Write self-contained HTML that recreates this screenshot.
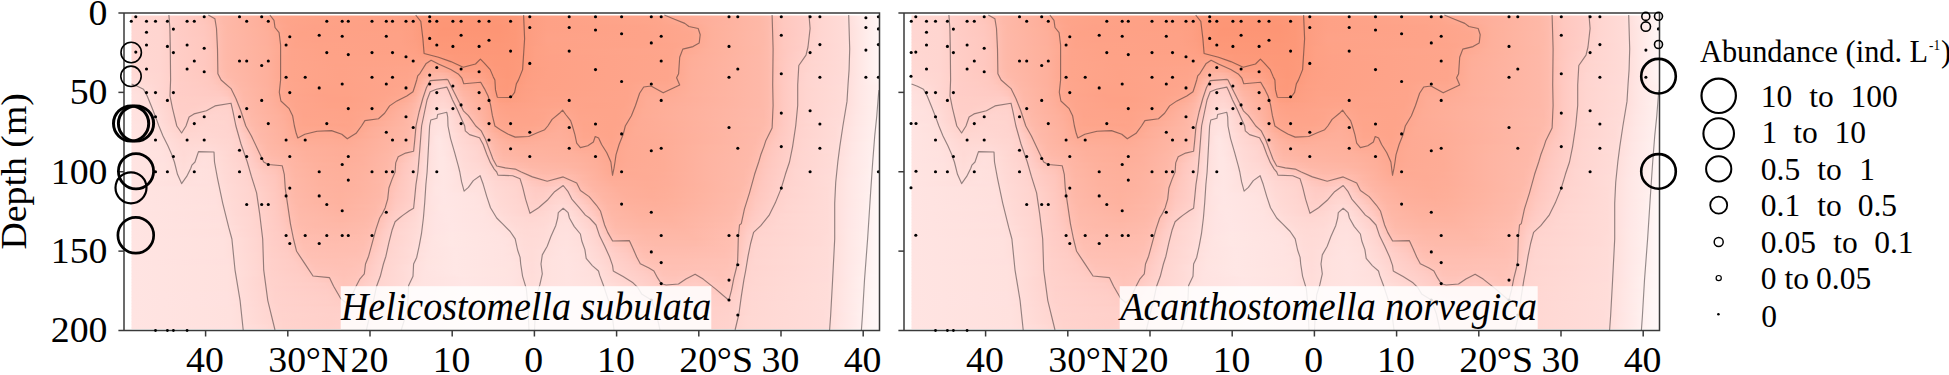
<!DOCTYPE html><html><head><meta charset="utf-8"><title>Abundance sections</title>
<style>html,body{margin:0;padding:0;background:#fff}svg{display:block}text{font-family:"Liberation Serif","Times New Roman",Times,serif;fill:#000}</style></head><body>
<svg width="1949" height="375" viewBox="0 0 1949 375">
<defs>
<linearGradient id="r0" gradientUnits="userSpaceOnUse" x1="131.5" x2="879.5" y1="0" y2="0"><stop offset="0" stop-color="#ffd6d1"/><stop offset="0.03743" stop-color="#ffd5cf"/><stop offset="0.05882" stop-color="#ffcdc7"/><stop offset="0.08556" stop-color="#ffc8c0"/><stop offset="0.09626" stop-color="#ffc5bb"/><stop offset="0.1123" stop-color="#ffbcae"/><stop offset="0.123" stop-color="#feb8a8"/><stop offset="0.1711" stop-color="#feb09c"/><stop offset="0.1925" stop-color="#fea78f"/><stop offset="0.2032" stop-color="#fea58b"/><stop offset="0.246" stop-color="#fea287"/><stop offset="0.3529" stop-color="#fea085"/><stop offset="0.369" stop-color="#fd9f83"/><stop offset="0.3904" stop-color="#fd997a"/><stop offset="0.4064" stop-color="#fd9777"/><stop offset="0.4813" stop-color="#fd9675"/><stop offset="0.5134" stop-color="#fd9878"/><stop offset="0.5348" stop-color="#fd9e82"/><stop offset="0.5561" stop-color="#fea186"/><stop offset="0.6952" stop-color="#fea48b"/><stop offset="0.7326" stop-color="#feab95"/><stop offset="0.8396" stop-color="#feb8a7"/><stop offset="0.8503" stop-color="#febbad"/><stop offset="0.8663" stop-color="#ffc6bc"/><stop offset="0.8717" stop-color="#ffc8bf"/><stop offset="0.8984" stop-color="#ffcdc7"/><stop offset="0.9198" stop-color="#ffd5d0"/><stop offset="0.9519" stop-color="#ffdbd7"/><stop offset="0.9733" stop-color="#ffe8e6"/><stop offset="1" stop-color="#fff5f5"/></linearGradient>
<linearGradient id="r1" gradientUnits="userSpaceOnUse" x1="131.5" x2="879.5" y1="0" y2="0"><stop offset="0" stop-color="#ffd6d1"/><stop offset="0.03743" stop-color="#ffd5cf"/><stop offset="0.05882" stop-color="#ffcdc7"/><stop offset="0.09091" stop-color="#ffc7be"/><stop offset="0.1016" stop-color="#ffc4b9"/><stop offset="0.123" stop-color="#feb9a9"/><stop offset="0.1711" stop-color="#feb09c"/><stop offset="0.1979" stop-color="#fea68d"/><stop offset="0.2086" stop-color="#fea48a"/><stop offset="0.246" stop-color="#fea287"/><stop offset="0.3529" stop-color="#fea085"/><stop offset="0.3743" stop-color="#fd9e82"/><stop offset="0.3957" stop-color="#fd9879"/><stop offset="0.4064" stop-color="#fd9777"/><stop offset="0.4813" stop-color="#fd9575"/><stop offset="0.5134" stop-color="#fd9878"/><stop offset="0.5348" stop-color="#fd9e82"/><stop offset="0.5561" stop-color="#fea186"/><stop offset="0.7005" stop-color="#fea58b"/><stop offset="0.7647" stop-color="#feae9a"/><stop offset="0.8396" stop-color="#feb8a7"/><stop offset="0.8503" stop-color="#febbac"/><stop offset="0.8663" stop-color="#ffc6bc"/><stop offset="0.8717" stop-color="#ffc8bf"/><stop offset="0.8984" stop-color="#ffcdc7"/><stop offset="0.9198" stop-color="#ffd5d0"/><stop offset="0.9519" stop-color="#ffdbd7"/><stop offset="0.9733" stop-color="#ffe8e6"/><stop offset="1" stop-color="#fff6f5"/></linearGradient>
<linearGradient id="r2" gradientUnits="userSpaceOnUse" x1="131.5" x2="879.5" y1="0" y2="0"><stop offset="0" stop-color="#ffd6d1"/><stop offset="0.03743" stop-color="#ffd5d0"/><stop offset="0.06417" stop-color="#ffccc5"/><stop offset="0.09626" stop-color="#ffc6bd"/><stop offset="0.107" stop-color="#ffc2b6"/><stop offset="0.123" stop-color="#feb9a9"/><stop offset="0.1711" stop-color="#feb09c"/><stop offset="0.1979" stop-color="#fea68e"/><stop offset="0.2086" stop-color="#fea48a"/><stop offset="0.246" stop-color="#fea287"/><stop offset="0.3583" stop-color="#fea084"/><stop offset="0.3743" stop-color="#fd9e82"/><stop offset="0.3957" stop-color="#fd9879"/><stop offset="0.4118" stop-color="#fd9676"/><stop offset="0.4866" stop-color="#fd9675"/><stop offset="0.5134" stop-color="#fd9878"/><stop offset="0.5348" stop-color="#fd9e82"/><stop offset="0.5561" stop-color="#fea186"/><stop offset="0.7059" stop-color="#fea58b"/><stop offset="0.7701" stop-color="#feaf9b"/><stop offset="0.8396" stop-color="#feb8a7"/><stop offset="0.8503" stop-color="#febbac"/><stop offset="0.8663" stop-color="#ffc5bc"/><stop offset="0.8717" stop-color="#ffc8bf"/><stop offset="0.8984" stop-color="#ffcdc7"/><stop offset="0.9198" stop-color="#ffd5d0"/><stop offset="0.9519" stop-color="#ffdbd7"/><stop offset="0.9733" stop-color="#ffe8e6"/><stop offset="1" stop-color="#fff6f5"/></linearGradient>
<linearGradient id="r3" gradientUnits="userSpaceOnUse" x1="131.5" x2="879.5" y1="0" y2="0"><stop offset="0" stop-color="#ffd6d1"/><stop offset="0.03743" stop-color="#ffd5d0"/><stop offset="0.06417" stop-color="#ffccc5"/><stop offset="0.09626" stop-color="#ffc7be"/><stop offset="0.107" stop-color="#ffc3b8"/><stop offset="0.1176" stop-color="#ffbcae"/><stop offset="0.1283" stop-color="#feb8a7"/><stop offset="0.1765" stop-color="#feaf9b"/><stop offset="0.1979" stop-color="#fea78f"/><stop offset="0.2139" stop-color="#fea38a"/><stop offset="0.246" stop-color="#fea187"/><stop offset="0.3583" stop-color="#fea085"/><stop offset="0.3743" stop-color="#fd9f82"/><stop offset="0.3957" stop-color="#fd9879"/><stop offset="0.4118" stop-color="#fd9676"/><stop offset="0.492" stop-color="#fd9575"/><stop offset="0.5134" stop-color="#fd9878"/><stop offset="0.5348" stop-color="#fd9e82"/><stop offset="0.5561" stop-color="#fea186"/><stop offset="0.6845" stop-color="#fea389"/><stop offset="0.7273" stop-color="#fea68d"/><stop offset="0.7487" stop-color="#fea992"/><stop offset="0.7754" stop-color="#feb09c"/><stop offset="0.8396" stop-color="#feb8a7"/><stop offset="0.8503" stop-color="#febbac"/><stop offset="0.8663" stop-color="#ffc5bc"/><stop offset="0.8717" stop-color="#ffc8bf"/><stop offset="0.8984" stop-color="#ffcdc7"/><stop offset="0.9198" stop-color="#ffd5d0"/><stop offset="0.9519" stop-color="#ffdbd7"/><stop offset="0.9733" stop-color="#ffe7e6"/><stop offset="1" stop-color="#fff6f5"/></linearGradient>
<linearGradient id="r4" gradientUnits="userSpaceOnUse" x1="131.5" x2="879.5" y1="0" y2="0"><stop offset="0" stop-color="#ffd6d2"/><stop offset="0.03743" stop-color="#ffd5d0"/><stop offset="0.06417" stop-color="#ffccc5"/><stop offset="0.09626" stop-color="#ffc7be"/><stop offset="0.107" stop-color="#ffc3b9"/><stop offset="0.1176" stop-color="#ffbcae"/><stop offset="0.1283" stop-color="#feb8a7"/><stop offset="0.1765" stop-color="#feb09b"/><stop offset="0.2032" stop-color="#fea58c"/><stop offset="0.2139" stop-color="#fea38a"/><stop offset="0.2406" stop-color="#fea187"/><stop offset="0.3583" stop-color="#fea085"/><stop offset="0.3743" stop-color="#fd9f83"/><stop offset="0.3957" stop-color="#fd9879"/><stop offset="0.4171" stop-color="#fd9575"/><stop offset="0.492" stop-color="#fd9575"/><stop offset="0.5134" stop-color="#fd9878"/><stop offset="0.5348" stop-color="#fd9e82"/><stop offset="0.5561" stop-color="#fea186"/><stop offset="0.6845" stop-color="#fea389"/><stop offset="0.7326" stop-color="#fea68d"/><stop offset="0.754" stop-color="#feaa93"/><stop offset="0.7754" stop-color="#feb09b"/><stop offset="0.8396" stop-color="#feb8a7"/><stop offset="0.8503" stop-color="#febbac"/><stop offset="0.8663" stop-color="#ffc5bc"/><stop offset="0.8717" stop-color="#ffc7bf"/><stop offset="0.8984" stop-color="#ffcdc7"/><stop offset="0.9198" stop-color="#ffd5d0"/><stop offset="0.9519" stop-color="#ffdbd7"/><stop offset="1" stop-color="#fff6f5"/></linearGradient>
<linearGradient id="r5" gradientUnits="userSpaceOnUse" x1="131.5" x2="879.5" y1="0" y2="0"><stop offset="0" stop-color="#ffd6d2"/><stop offset="0.03743" stop-color="#ffd5d0"/><stop offset="0.06417" stop-color="#ffccc5"/><stop offset="0.09626" stop-color="#ffc7be"/><stop offset="0.107" stop-color="#ffc4b9"/><stop offset="0.123" stop-color="#febaaa"/><stop offset="0.1283" stop-color="#feb8a7"/><stop offset="0.1818" stop-color="#feaf9a"/><stop offset="0.2032" stop-color="#fea68d"/><stop offset="0.2246" stop-color="#fea287"/><stop offset="0.3583" stop-color="#fea185"/><stop offset="0.3743" stop-color="#fe9f83"/><stop offset="0.3957" stop-color="#fd997a"/><stop offset="0.4118" stop-color="#fd9676"/><stop offset="0.492" stop-color="#fd9575"/><stop offset="0.5134" stop-color="#fd9878"/><stop offset="0.5348" stop-color="#fd9e82"/><stop offset="0.5561" stop-color="#fea187"/><stop offset="0.6898" stop-color="#fea389"/><stop offset="0.7487" stop-color="#fea78f"/><stop offset="0.7754" stop-color="#feb09b"/><stop offset="0.8449" stop-color="#feb9a9"/><stop offset="0.8503" stop-color="#febbac"/><stop offset="0.8663" stop-color="#ffc5bc"/><stop offset="0.8717" stop-color="#ffc7bf"/><stop offset="0.8984" stop-color="#ffcdc7"/><stop offset="0.9198" stop-color="#ffd5d0"/><stop offset="0.9519" stop-color="#ffdbd7"/><stop offset="1" stop-color="#fff6f5"/></linearGradient>
<linearGradient id="r6" gradientUnits="userSpaceOnUse" x1="131.5" x2="879.5" y1="0" y2="0"><stop offset="0" stop-color="#ffd6d2"/><stop offset="0.03743" stop-color="#ffd5d0"/><stop offset="0.06417" stop-color="#ffccc5"/><stop offset="0.09626" stop-color="#ffc7bf"/><stop offset="0.107" stop-color="#ffc4b9"/><stop offset="0.123" stop-color="#febaaa"/><stop offset="0.1283" stop-color="#feb8a8"/><stop offset="0.1818" stop-color="#feaf9a"/><stop offset="0.2086" stop-color="#fea58b"/><stop offset="0.2246" stop-color="#fea287"/><stop offset="0.3583" stop-color="#fea186"/><stop offset="0.3743" stop-color="#fe9f83"/><stop offset="0.3957" stop-color="#fd997a"/><stop offset="0.4118" stop-color="#fd9676"/><stop offset="0.492" stop-color="#fd9675"/><stop offset="0.5134" stop-color="#fd9878"/><stop offset="0.5348" stop-color="#fd9e82"/><stop offset="0.5561" stop-color="#fea287"/><stop offset="0.6898" stop-color="#fea389"/><stop offset="0.7487" stop-color="#fea78e"/><stop offset="0.7754" stop-color="#feb09b"/><stop offset="0.8449" stop-color="#feb9a9"/><stop offset="0.8503" stop-color="#febbac"/><stop offset="0.8663" stop-color="#ffc5bc"/><stop offset="0.8717" stop-color="#ffc7bf"/><stop offset="0.8984" stop-color="#ffcdc7"/><stop offset="0.9198" stop-color="#ffd5d0"/><stop offset="0.9519" stop-color="#ffdbd7"/><stop offset="1" stop-color="#fff6f5"/></linearGradient>
<linearGradient id="r7" gradientUnits="userSpaceOnUse" x1="131.5" x2="879.5" y1="0" y2="0"><stop offset="0" stop-color="#ffd6d2"/><stop offset="0.03743" stop-color="#ffd5d0"/><stop offset="0.06417" stop-color="#ffccc6"/><stop offset="0.09626" stop-color="#ffc8bf"/><stop offset="0.107" stop-color="#ffc4ba"/><stop offset="0.123" stop-color="#febaab"/><stop offset="0.1283" stop-color="#feb8a8"/><stop offset="0.1818" stop-color="#feaf9b"/><stop offset="0.2086" stop-color="#fea58c"/><stop offset="0.2246" stop-color="#fea288"/><stop offset="0.3583" stop-color="#fea186"/><stop offset="0.3743" stop-color="#fe9f84"/><stop offset="0.3957" stop-color="#fd997a"/><stop offset="0.4118" stop-color="#fd9777"/><stop offset="0.492" stop-color="#fd9676"/><stop offset="0.5134" stop-color="#fd9878"/><stop offset="0.5348" stop-color="#fd9e82"/><stop offset="0.5561" stop-color="#fea288"/><stop offset="0.6898" stop-color="#fea389"/><stop offset="0.7487" stop-color="#fea78e"/><stop offset="0.7754" stop-color="#feb09b"/><stop offset="0.8449" stop-color="#feb9a9"/><stop offset="0.8503" stop-color="#febbac"/><stop offset="0.8663" stop-color="#ffc5bb"/><stop offset="0.8717" stop-color="#ffc7bf"/><stop offset="0.8984" stop-color="#ffcec7"/><stop offset="0.9198" stop-color="#ffd5d1"/><stop offset="0.9519" stop-color="#ffdbd7"/><stop offset="1" stop-color="#fff6f5"/></linearGradient>
<linearGradient id="r8" gradientUnits="userSpaceOnUse" x1="131.5" x2="879.5" y1="0" y2="0"><stop offset="0" stop-color="#ffd6d2"/><stop offset="0.03743" stop-color="#ffd5d0"/><stop offset="0.06417" stop-color="#ffccc6"/><stop offset="0.09626" stop-color="#ffc8bf"/><stop offset="0.107" stop-color="#ffc4ba"/><stop offset="0.123" stop-color="#febaab"/><stop offset="0.1283" stop-color="#feb8a8"/><stop offset="0.1818" stop-color="#feaf9b"/><stop offset="0.2086" stop-color="#fea58c"/><stop offset="0.2193" stop-color="#fea389"/><stop offset="0.246" stop-color="#fea187"/><stop offset="0.3583" stop-color="#fea186"/><stop offset="0.3797" stop-color="#fd9e82"/><stop offset="0.3957" stop-color="#fd997a"/><stop offset="0.4064" stop-color="#fd9778"/><stop offset="0.492" stop-color="#fd9676"/><stop offset="0.5134" stop-color="#fd9879"/><stop offset="0.5348" stop-color="#fd9e82"/><stop offset="0.5561" stop-color="#fea288"/><stop offset="0.6845" stop-color="#fea389"/><stop offset="0.7487" stop-color="#fea78f"/><stop offset="0.7754" stop-color="#feb09c"/><stop offset="0.8449" stop-color="#feb9a9"/><stop offset="0.8503" stop-color="#febbac"/><stop offset="0.8663" stop-color="#ffc5bb"/><stop offset="0.8717" stop-color="#ffc8bf"/><stop offset="0.8984" stop-color="#ffcec7"/><stop offset="0.9198" stop-color="#ffd6d1"/><stop offset="0.9519" stop-color="#ffdbd7"/><stop offset="1" stop-color="#fff6f5"/></linearGradient>
<linearGradient id="r9" gradientUnits="userSpaceOnUse" x1="131.5" x2="879.5" y1="0" y2="0"><stop offset="0" stop-color="#ffd7d2"/><stop offset="0.03743" stop-color="#ffd5d0"/><stop offset="0.06417" stop-color="#ffccc6"/><stop offset="0.09626" stop-color="#ffc8bf"/><stop offset="0.107" stop-color="#ffc4ba"/><stop offset="0.123" stop-color="#febaab"/><stop offset="0.1283" stop-color="#feb8a8"/><stop offset="0.1818" stop-color="#feaf9b"/><stop offset="0.2086" stop-color="#fea58c"/><stop offset="0.2193" stop-color="#fea389"/><stop offset="0.2513" stop-color="#fea287"/><stop offset="0.3583" stop-color="#fea186"/><stop offset="0.3797" stop-color="#fd9f83"/><stop offset="0.3957" stop-color="#fd997b"/><stop offset="0.4064" stop-color="#fd9878"/><stop offset="0.492" stop-color="#fd9777"/><stop offset="0.5134" stop-color="#fd9879"/><stop offset="0.5348" stop-color="#fd9e82"/><stop offset="0.5561" stop-color="#fea287"/><stop offset="0.6898" stop-color="#fea389"/><stop offset="0.7273" stop-color="#fea58c"/><stop offset="0.7433" stop-color="#fea78f"/><stop offset="0.7754" stop-color="#feb09c"/><stop offset="0.8449" stop-color="#feb9a9"/><stop offset="0.8503" stop-color="#febbac"/><stop offset="0.8663" stop-color="#ffc5bb"/><stop offset="0.8717" stop-color="#ffc8bf"/><stop offset="0.8984" stop-color="#ffcec8"/><stop offset="0.9144" stop-color="#ffd4cf"/><stop offset="0.9519" stop-color="#ffdbd7"/><stop offset="1" stop-color="#fff6f5"/></linearGradient>
<linearGradient id="r10" gradientUnits="userSpaceOnUse" x1="131.5" x2="879.5" y1="0" y2="0"><stop offset="0" stop-color="#ffd7d2"/><stop offset="0.03743" stop-color="#ffd5d0"/><stop offset="0.06417" stop-color="#ffccc6"/><stop offset="0.09626" stop-color="#ffc8bf"/><stop offset="0.107" stop-color="#ffc4ba"/><stop offset="0.123" stop-color="#febaab"/><stop offset="0.1283" stop-color="#feb8a8"/><stop offset="0.1818" stop-color="#feb09b"/><stop offset="0.2086" stop-color="#fea58c"/><stop offset="0.2193" stop-color="#fea389"/><stop offset="0.2513" stop-color="#fea287"/><stop offset="0.3636" stop-color="#fea186"/><stop offset="0.3797" stop-color="#fe9f83"/><stop offset="0.3957" stop-color="#fd9a7b"/><stop offset="0.4064" stop-color="#fd9879"/><stop offset="0.492" stop-color="#fd9777"/><stop offset="0.5134" stop-color="#fd9879"/><stop offset="0.5401" stop-color="#fea084"/><stop offset="0.5615" stop-color="#fea287"/><stop offset="0.6791" stop-color="#fea389"/><stop offset="0.7273" stop-color="#fea58c"/><stop offset="0.7487" stop-color="#fea992"/><stop offset="0.7754" stop-color="#feb09c"/><stop offset="0.8396" stop-color="#feb8a7"/><stop offset="0.8503" stop-color="#febbac"/><stop offset="0.8663" stop-color="#ffc5bb"/><stop offset="0.8717" stop-color="#ffc8bf"/><stop offset="0.893" stop-color="#ffccc6"/><stop offset="0.9144" stop-color="#ffd4cf"/><stop offset="0.9465" stop-color="#ffdad6"/><stop offset="0.9572" stop-color="#ffddd9"/><stop offset="0.9733" stop-color="#ffe7e5"/><stop offset="1" stop-color="#fff6f5"/></linearGradient>
<linearGradient id="r11" gradientUnits="userSpaceOnUse" x1="131.5" x2="879.5" y1="0" y2="0"><stop offset="0" stop-color="#ffd7d2"/><stop offset="0.03743" stop-color="#ffd5d0"/><stop offset="0.06417" stop-color="#ffcdc6"/><stop offset="0.1016" stop-color="#ffc7be"/><stop offset="0.107" stop-color="#ffc5bb"/><stop offset="0.123" stop-color="#febaab"/><stop offset="0.1283" stop-color="#feb8a8"/><stop offset="0.1818" stop-color="#feb09b"/><stop offset="0.2139" stop-color="#fea48b"/><stop offset="0.2567" stop-color="#fea287"/><stop offset="0.3636" stop-color="#fea186"/><stop offset="0.3797" stop-color="#fea084"/><stop offset="0.3957" stop-color="#fd9b7d"/><stop offset="0.4171" stop-color="#fd9879"/><stop offset="0.4973" stop-color="#fd9778"/><stop offset="0.5134" stop-color="#fd9879"/><stop offset="0.5401" stop-color="#fea084"/><stop offset="0.5615" stop-color="#fea287"/><stop offset="0.7219" stop-color="#fea58c"/><stop offset="0.7701" stop-color="#feb09b"/><stop offset="0.8396" stop-color="#feb8a7"/><stop offset="0.8503" stop-color="#febbac"/><stop offset="0.8663" stop-color="#ffc5bb"/><stop offset="0.877" stop-color="#ffc9c1"/><stop offset="0.893" stop-color="#ffcdc6"/><stop offset="0.9144" stop-color="#ffd5d0"/><stop offset="0.9465" stop-color="#ffdad6"/><stop offset="0.9572" stop-color="#ffddd9"/><stop offset="0.9733" stop-color="#ffe7e5"/><stop offset="1" stop-color="#fff6f5"/></linearGradient>
<linearGradient id="r12" gradientUnits="userSpaceOnUse" x1="131.5" x2="879.5" y1="0" y2="0"><stop offset="0" stop-color="#ffd7d2"/><stop offset="0.03743" stop-color="#ffd5d0"/><stop offset="0.06417" stop-color="#ffcdc6"/><stop offset="0.1016" stop-color="#ffc7be"/><stop offset="0.107" stop-color="#ffc5bb"/><stop offset="0.123" stop-color="#febaab"/><stop offset="0.1283" stop-color="#feb8a8"/><stop offset="0.1818" stop-color="#feb09b"/><stop offset="0.2139" stop-color="#fea48b"/><stop offset="0.2567" stop-color="#fea287"/><stop offset="0.369" stop-color="#fea186"/><stop offset="0.3797" stop-color="#fea085"/><stop offset="0.4011" stop-color="#fd9b7c"/><stop offset="0.4225" stop-color="#fd9879"/><stop offset="0.4973" stop-color="#fd9778"/><stop offset="0.5134" stop-color="#fd9879"/><stop offset="0.5401" stop-color="#fea084"/><stop offset="0.5615" stop-color="#fea287"/><stop offset="0.7219" stop-color="#fea58c"/><stop offset="0.7647" stop-color="#feaf9a"/><stop offset="0.8396" stop-color="#feb8a7"/><stop offset="0.8503" stop-color="#febbac"/><stop offset="0.8663" stop-color="#ffc5bb"/><stop offset="0.877" stop-color="#ffc9c1"/><stop offset="0.9144" stop-color="#ffd5d0"/><stop offset="0.9465" stop-color="#ffdad6"/><stop offset="0.9572" stop-color="#ffddd9"/><stop offset="0.9733" stop-color="#ffe7e5"/><stop offset="1" stop-color="#fff6f5"/></linearGradient>
<linearGradient id="r13" gradientUnits="userSpaceOnUse" x1="131.5" x2="879.5" y1="0" y2="0"><stop offset="0" stop-color="#ffd7d3"/><stop offset="0.03743" stop-color="#ffd5d0"/><stop offset="0.06417" stop-color="#ffcdc6"/><stop offset="0.09626" stop-color="#ffc8c0"/><stop offset="0.107" stop-color="#ffc5bb"/><stop offset="0.123" stop-color="#febaab"/><stop offset="0.1283" stop-color="#feb8a8"/><stop offset="0.1818" stop-color="#feb09c"/><stop offset="0.2032" stop-color="#fea78f"/><stop offset="0.2139" stop-color="#fea48b"/><stop offset="0.262" stop-color="#fea287"/><stop offset="0.3743" stop-color="#fea287"/><stop offset="0.4332" stop-color="#fd997a"/><stop offset="0.5027" stop-color="#fd9878"/><stop offset="0.5187" stop-color="#fd997b"/><stop offset="0.5401" stop-color="#fea084"/><stop offset="0.5615" stop-color="#fea187"/><stop offset="0.7166" stop-color="#fea58b"/><stop offset="0.7273" stop-color="#fea68e"/><stop offset="0.7433" stop-color="#feac96"/><stop offset="0.754" stop-color="#feae99"/><stop offset="0.8396" stop-color="#feb8a8"/><stop offset="0.8503" stop-color="#febbac"/><stop offset="0.8663" stop-color="#ffc5bc"/><stop offset="0.877" stop-color="#ffc9c2"/><stop offset="0.9144" stop-color="#ffd5d0"/><stop offset="0.9465" stop-color="#ffdad6"/><stop offset="0.9572" stop-color="#ffddd9"/><stop offset="0.9733" stop-color="#ffe7e5"/><stop offset="1" stop-color="#fff6f5"/></linearGradient>
<linearGradient id="r14" gradientUnits="userSpaceOnUse" x1="131.5" x2="879.5" y1="0" y2="0"><stop offset="0" stop-color="#ffd7d3"/><stop offset="0.03743" stop-color="#ffd5d0"/><stop offset="0.06417" stop-color="#ffcdc6"/><stop offset="0.09626" stop-color="#ffc8c0"/><stop offset="0.107" stop-color="#ffc5bb"/><stop offset="0.123" stop-color="#febaab"/><stop offset="0.1283" stop-color="#feb8a8"/><stop offset="0.1818" stop-color="#feb09c"/><stop offset="0.2032" stop-color="#fea78f"/><stop offset="0.2139" stop-color="#fea48b"/><stop offset="0.2674" stop-color="#fea287"/><stop offset="0.3957" stop-color="#fea287"/><stop offset="0.4011" stop-color="#fea287"/><stop offset="0.4171" stop-color="#fd9c7f"/><stop offset="0.4332" stop-color="#fd997b"/><stop offset="0.5027" stop-color="#fd9878"/><stop offset="0.5187" stop-color="#fd9a7b"/><stop offset="0.5401" stop-color="#fea084"/><stop offset="0.5615" stop-color="#fea187"/><stop offset="0.7166" stop-color="#fea58b"/><stop offset="0.7273" stop-color="#fea78e"/><stop offset="0.7487" stop-color="#feae98"/><stop offset="0.8396" stop-color="#feb8a8"/><stop offset="0.8503" stop-color="#febbac"/><stop offset="0.8717" stop-color="#ffc8bf"/><stop offset="0.9091" stop-color="#ffd4cf"/><stop offset="0.9519" stop-color="#ffdbd7"/><stop offset="1" stop-color="#fff6f5"/></linearGradient>
<linearGradient id="r15" gradientUnits="userSpaceOnUse" x1="131.5" x2="879.5" y1="0" y2="0"><stop offset="0" stop-color="#ffd8d3"/><stop offset="0.03743" stop-color="#ffd5d0"/><stop offset="0.06417" stop-color="#ffcdc6"/><stop offset="0.09626" stop-color="#ffc8c0"/><stop offset="0.107" stop-color="#ffc5bb"/><stop offset="0.123" stop-color="#febbac"/><stop offset="0.1283" stop-color="#feb9a9"/><stop offset="0.1818" stop-color="#feb09c"/><stop offset="0.2032" stop-color="#fea78f"/><stop offset="0.2139" stop-color="#fea58b"/><stop offset="0.2674" stop-color="#fea288"/><stop offset="0.369" stop-color="#fea388"/><stop offset="0.385" stop-color="#fea48a"/><stop offset="0.4011" stop-color="#fea890"/><stop offset="0.4064" stop-color="#fea78e"/><stop offset="0.4278" stop-color="#fd9d80"/><stop offset="0.4385" stop-color="#fd9a7c"/><stop offset="0.4652" stop-color="#fd9b7d"/><stop offset="0.4866" stop-color="#fd9879"/><stop offset="0.5027" stop-color="#fd9879"/><stop offset="0.5187" stop-color="#fd9a7b"/><stop offset="0.5401" stop-color="#fea084"/><stop offset="0.5615" stop-color="#fea186"/><stop offset="0.7166" stop-color="#fea58c"/><stop offset="0.7273" stop-color="#fea78e"/><stop offset="0.7487" stop-color="#feae99"/><stop offset="0.8396" stop-color="#feb8a8"/><stop offset="0.8503" stop-color="#febbac"/><stop offset="0.8663" stop-color="#ffc6bc"/><stop offset="0.877" stop-color="#ffcac2"/><stop offset="0.9091" stop-color="#ffd5d0"/><stop offset="0.9519" stop-color="#ffdbd7"/><stop offset="1" stop-color="#fff6f5"/></linearGradient>
<linearGradient id="r16" gradientUnits="userSpaceOnUse" x1="131.5" x2="879.5" y1="0" y2="0"><stop offset="0" stop-color="#ffd8d3"/><stop offset="0.03743" stop-color="#ffd5d0"/><stop offset="0.06417" stop-color="#ffcdc6"/><stop offset="0.09626" stop-color="#ffc8c0"/><stop offset="0.107" stop-color="#ffc5bb"/><stop offset="0.123" stop-color="#febbac"/><stop offset="0.1283" stop-color="#feb9a9"/><stop offset="0.1818" stop-color="#feb09c"/><stop offset="0.2032" stop-color="#fea78f"/><stop offset="0.2139" stop-color="#fea58b"/><stop offset="0.2727" stop-color="#fea287"/><stop offset="0.369" stop-color="#fea389"/><stop offset="0.385" stop-color="#fea58c"/><stop offset="0.4011" stop-color="#feaa93"/><stop offset="0.4118" stop-color="#fea88f"/><stop offset="0.4385" stop-color="#fd9c7e"/><stop offset="0.4492" stop-color="#fd9b7d"/><stop offset="0.4652" stop-color="#fd9c7e"/><stop offset="0.4866" stop-color="#fd9879"/><stop offset="0.5027" stop-color="#fd9879"/><stop offset="0.5187" stop-color="#fd9a7b"/><stop offset="0.5401" stop-color="#fea084"/><stop offset="0.5615" stop-color="#fea186"/><stop offset="0.7166" stop-color="#fea58c"/><stop offset="0.7273" stop-color="#fea78f"/><stop offset="0.7487" stop-color="#feae99"/><stop offset="0.8396" stop-color="#feb8a8"/><stop offset="0.8503" stop-color="#febbac"/><stop offset="0.8663" stop-color="#ffc6bc"/><stop offset="0.877" stop-color="#ffcac3"/><stop offset="0.9037" stop-color="#ffd4ce"/><stop offset="0.9519" stop-color="#ffdbd7"/><stop offset="1" stop-color="#fff6f5"/></linearGradient>
<linearGradient id="r17" gradientUnits="userSpaceOnUse" x1="131.5" x2="879.5" y1="0" y2="0"><stop offset="0" stop-color="#ffd8d4"/><stop offset="0.03743" stop-color="#ffd5d0"/><stop offset="0.06417" stop-color="#ffcdc6"/><stop offset="0.09626" stop-color="#ffc9c0"/><stop offset="0.107" stop-color="#ffc5bb"/><stop offset="0.123" stop-color="#febbac"/><stop offset="0.1283" stop-color="#feb9a9"/><stop offset="0.1818" stop-color="#feb09c"/><stop offset="0.2032" stop-color="#fea78f"/><stop offset="0.2139" stop-color="#fea58b"/><stop offset="0.2727" stop-color="#fea288"/><stop offset="0.369" stop-color="#fea48a"/><stop offset="0.3797" stop-color="#fea58c"/><stop offset="0.4011" stop-color="#feae98"/><stop offset="0.4064" stop-color="#feae99"/><stop offset="0.4171" stop-color="#feab94"/><stop offset="0.4439" stop-color="#fd9e82"/><stop offset="0.4652" stop-color="#fd9e82"/><stop offset="0.4866" stop-color="#fd997a"/><stop offset="0.5027" stop-color="#fd9879"/><stop offset="0.5187" stop-color="#fd9a7c"/><stop offset="0.5348" stop-color="#fd9f83"/><stop offset="0.5615" stop-color="#fea186"/><stop offset="0.7166" stop-color="#fea58c"/><stop offset="0.7273" stop-color="#fea78f"/><stop offset="0.7487" stop-color="#feae9a"/><stop offset="0.8396" stop-color="#feb8a8"/><stop offset="0.8503" stop-color="#febbac"/><stop offset="0.8717" stop-color="#ffc8c0"/><stop offset="0.893" stop-color="#ffd1cb"/><stop offset="0.9091" stop-color="#ffd5d0"/><stop offset="0.9519" stop-color="#ffdbd7"/><stop offset="1" stop-color="#fff6f5"/></linearGradient>
<linearGradient id="r18" gradientUnits="userSpaceOnUse" x1="131.5" x2="879.5" y1="0" y2="0"><stop offset="0" stop-color="#ffd9d4"/><stop offset="0.03743" stop-color="#ffd5d1"/><stop offset="0.06417" stop-color="#ffcdc6"/><stop offset="0.1016" stop-color="#ffc7bf"/><stop offset="0.1283" stop-color="#feb9a9"/><stop offset="0.1818" stop-color="#feb09c"/><stop offset="0.2032" stop-color="#fea78f"/><stop offset="0.2139" stop-color="#fea58b"/><stop offset="0.2781" stop-color="#fea287"/><stop offset="0.369" stop-color="#fea48a"/><stop offset="0.3797" stop-color="#fea68d"/><stop offset="0.4011" stop-color="#feb09b"/><stop offset="0.4064" stop-color="#feb09c"/><stop offset="0.4171" stop-color="#feae99"/><stop offset="0.4439" stop-color="#fea085"/><stop offset="0.4652" stop-color="#fe9f83"/><stop offset="0.4866" stop-color="#fd997b"/><stop offset="0.5027" stop-color="#fd9879"/><stop offset="0.5134" stop-color="#fd997a"/><stop offset="0.5348" stop-color="#fd9f83"/><stop offset="0.5561" stop-color="#fea186"/><stop offset="0.7166" stop-color="#fea58c"/><stop offset="0.7273" stop-color="#fea78f"/><stop offset="0.7487" stop-color="#feaf9a"/><stop offset="0.8396" stop-color="#feb8a8"/><stop offset="0.8503" stop-color="#febbac"/><stop offset="0.8717" stop-color="#ffc8c0"/><stop offset="0.893" stop-color="#ffd1cb"/><stop offset="0.9091" stop-color="#ffd5d0"/><stop offset="0.9519" stop-color="#ffdbd7"/><stop offset="1" stop-color="#fff6f5"/></linearGradient>
<linearGradient id="r19" gradientUnits="userSpaceOnUse" x1="131.5" x2="879.5" y1="0" y2="0"><stop offset="0" stop-color="#ffd9d5"/><stop offset="0.03743" stop-color="#ffd6d1"/><stop offset="0.06417" stop-color="#ffcdc6"/><stop offset="0.1016" stop-color="#ffc8bf"/><stop offset="0.107" stop-color="#ffc6bd"/><stop offset="0.1283" stop-color="#febaaa"/><stop offset="0.1818" stop-color="#feb09c"/><stop offset="0.2032" stop-color="#fea78f"/><stop offset="0.2139" stop-color="#fea58b"/><stop offset="0.2781" stop-color="#fea287"/><stop offset="0.369" stop-color="#fea48b"/><stop offset="0.3797" stop-color="#fea78f"/><stop offset="0.385" stop-color="#fea992"/><stop offset="0.4011" stop-color="#feb4a2"/><stop offset="0.4118" stop-color="#feb6a4"/><stop offset="0.4225" stop-color="#feb2a0"/><stop offset="0.4439" stop-color="#fea58b"/><stop offset="0.4706" stop-color="#fea085"/><stop offset="0.4866" stop-color="#fd9a7b"/><stop offset="0.5027" stop-color="#fd9879"/><stop offset="0.5134" stop-color="#fd997b"/><stop offset="0.5348" stop-color="#fe9f83"/><stop offset="0.5561" stop-color="#fea186"/><stop offset="0.7166" stop-color="#fea58c"/><stop offset="0.7273" stop-color="#fea78f"/><stop offset="0.7487" stop-color="#feaf9a"/><stop offset="0.8396" stop-color="#feb8a8"/><stop offset="0.8503" stop-color="#febbac"/><stop offset="0.8663" stop-color="#ffc6bd"/><stop offset="0.8717" stop-color="#ffc9c0"/><stop offset="0.893" stop-color="#ffd1cb"/><stop offset="0.9037" stop-color="#ffd5d0"/><stop offset="0.9519" stop-color="#ffdbd7"/><stop offset="1" stop-color="#fff5f5"/></linearGradient>
<linearGradient id="r20" gradientUnits="userSpaceOnUse" x1="131.5" x2="879.5" y1="0" y2="0"><stop offset="0" stop-color="#ffdad6"/><stop offset="0.03743" stop-color="#ffd6d1"/><stop offset="0.06417" stop-color="#ffcdc6"/><stop offset="0.1016" stop-color="#ffc8c0"/><stop offset="0.107" stop-color="#ffc6bd"/><stop offset="0.1283" stop-color="#febaab"/><stop offset="0.1818" stop-color="#feb09c"/><stop offset="0.2032" stop-color="#fea78f"/><stop offset="0.2139" stop-color="#fea58b"/><stop offset="0.2781" stop-color="#fea287"/><stop offset="0.369" stop-color="#fea58b"/><stop offset="0.3797" stop-color="#fea78f"/><stop offset="0.4011" stop-color="#feb7a6"/><stop offset="0.4118" stop-color="#feb9a9"/><stop offset="0.4171" stop-color="#feb8a8"/><stop offset="0.4225" stop-color="#feb6a5"/><stop offset="0.4385" stop-color="#feaa92"/><stop offset="0.4439" stop-color="#fea68e"/><stop offset="0.4706" stop-color="#fea186"/><stop offset="0.4866" stop-color="#fd9a7c"/><stop offset="0.5027" stop-color="#fd9879"/><stop offset="0.5134" stop-color="#fd9a7b"/><stop offset="0.5348" stop-color="#fe9f84"/><stop offset="0.5561" stop-color="#fea186"/><stop offset="0.7166" stop-color="#fea58c"/><stop offset="0.7273" stop-color="#fea88f"/><stop offset="0.7487" stop-color="#feaf9a"/><stop offset="0.8396" stop-color="#feb8a8"/><stop offset="0.8503" stop-color="#febbac"/><stop offset="0.8663" stop-color="#ffc6bd"/><stop offset="0.8717" stop-color="#ffc9c0"/><stop offset="0.893" stop-color="#ffd1cc"/><stop offset="0.9037" stop-color="#ffd5d0"/><stop offset="0.9519" stop-color="#ffdbd8"/><stop offset="1" stop-color="#fff5f4"/></linearGradient>
<linearGradient id="r21" gradientUnits="userSpaceOnUse" x1="131.5" x2="879.5" y1="0" y2="0"><stop offset="0" stop-color="#ffdcd8"/><stop offset="0.03743" stop-color="#ffd6d1"/><stop offset="0.06417" stop-color="#ffcdc6"/><stop offset="0.1016" stop-color="#ffc9c1"/><stop offset="0.1123" stop-color="#ffc5bb"/><stop offset="0.1283" stop-color="#ffbcae"/><stop offset="0.139" stop-color="#feb8a8"/><stop offset="0.1818" stop-color="#feb09c"/><stop offset="0.2086" stop-color="#fea68d"/><stop offset="0.2246" stop-color="#fea48a"/><stop offset="0.2834" stop-color="#fea287"/><stop offset="0.369" stop-color="#fea58c"/><stop offset="0.3797" stop-color="#fea991"/><stop offset="0.385" stop-color="#fead97"/><stop offset="0.3957" stop-color="#feb9a9"/><stop offset="0.4011" stop-color="#ffbdaf"/><stop offset="0.4118" stop-color="#ffc0b4"/><stop offset="0.4171" stop-color="#ffc0b4"/><stop offset="0.4225" stop-color="#ffbeb0"/><stop offset="0.4385" stop-color="#fead98"/><stop offset="0.4439" stop-color="#fea992"/><stop offset="0.4652" stop-color="#fea68d"/><stop offset="0.4866" stop-color="#fd9b7d"/><stop offset="0.5027" stop-color="#fd997a"/><stop offset="0.5134" stop-color="#fd9a7c"/><stop offset="0.5294" stop-color="#fd9f83"/><stop offset="0.5508" stop-color="#fea186"/><stop offset="0.7166" stop-color="#fea58c"/><stop offset="0.7487" stop-color="#feaf9a"/><stop offset="0.8396" stop-color="#feb8a8"/><stop offset="0.8503" stop-color="#febbac"/><stop offset="0.8663" stop-color="#ffc6bd"/><stop offset="0.8717" stop-color="#ffc9c1"/><stop offset="0.893" stop-color="#ffd1cc"/><stop offset="0.9037" stop-color="#ffd5d0"/><stop offset="0.9519" stop-color="#ffdbd8"/><stop offset="0.9733" stop-color="#ffe7e5"/><stop offset="1" stop-color="#fff4f3"/></linearGradient>
<linearGradient id="r22" gradientUnits="userSpaceOnUse" x1="131.5" x2="879.5" y1="0" y2="0"><stop offset="0" stop-color="#ffddd9"/><stop offset="0.03743" stop-color="#ffd6d1"/><stop offset="0.06417" stop-color="#ffcdc7"/><stop offset="0.09091" stop-color="#ffcbc3"/><stop offset="0.107" stop-color="#ffc8bf"/><stop offset="0.139" stop-color="#feb9a9"/><stop offset="0.1818" stop-color="#feb09c"/><stop offset="0.2086" stop-color="#fea68d"/><stop offset="0.246" stop-color="#fea388"/><stop offset="0.2888" stop-color="#fea287"/><stop offset="0.369" stop-color="#fea58c"/><stop offset="0.3797" stop-color="#fea992"/><stop offset="0.4011" stop-color="#ffc0b4"/><stop offset="0.4118" stop-color="#ffc4ba"/><stop offset="0.4171" stop-color="#ffc4ba"/><stop offset="0.4225" stop-color="#ffc1b5"/><stop offset="0.4385" stop-color="#feaf9b"/><stop offset="0.4439" stop-color="#feab95"/><stop offset="0.4652" stop-color="#fea78f"/><stop offset="0.4866" stop-color="#fd9b7d"/><stop offset="0.5027" stop-color="#fd997a"/><stop offset="0.5134" stop-color="#fd9a7c"/><stop offset="0.5294" stop-color="#fe9f83"/><stop offset="0.5508" stop-color="#fea186"/><stop offset="0.6631" stop-color="#fea48a"/><stop offset="0.6898" stop-color="#fea68d"/><stop offset="0.7166" stop-color="#fea68d"/><stop offset="0.7487" stop-color="#feaf9a"/><stop offset="0.8396" stop-color="#feb8a8"/><stop offset="0.8503" stop-color="#febbac"/><stop offset="0.8663" stop-color="#ffc6bd"/><stop offset="0.8717" stop-color="#ffc9c1"/><stop offset="0.893" stop-color="#ffd2cc"/><stop offset="0.9037" stop-color="#ffd5d0"/><stop offset="0.9519" stop-color="#ffdbd8"/><stop offset="0.9733" stop-color="#ffe7e5"/><stop offset="1" stop-color="#fff3f2"/></linearGradient>
<linearGradient id="r23" gradientUnits="userSpaceOnUse" x1="131.5" x2="879.5" y1="0" y2="0"><stop offset="0" stop-color="#ffdfdb"/><stop offset="0.03743" stop-color="#ffd6d2"/><stop offset="0.06417" stop-color="#ffcdc7"/><stop offset="0.09626" stop-color="#ffcac3"/><stop offset="0.1123" stop-color="#ffc8bf"/><stop offset="0.1444" stop-color="#feb8a8"/><stop offset="0.1818" stop-color="#feb09d"/><stop offset="0.2086" stop-color="#fea68d"/><stop offset="0.2567" stop-color="#fea288"/><stop offset="0.2941" stop-color="#fea288"/><stop offset="0.3529" stop-color="#fea48b"/><stop offset="0.369" stop-color="#fea68d"/><stop offset="0.3797" stop-color="#feab94"/><stop offset="0.4011" stop-color="#ffc6bd"/><stop offset="0.4064" stop-color="#ffcac3"/><stop offset="0.4171" stop-color="#ffccc5"/><stop offset="0.4225" stop-color="#ffc8c0"/><stop offset="0.4332" stop-color="#feb9aa"/><stop offset="0.4439" stop-color="#feaf9b"/><stop offset="0.4492" stop-color="#fead98"/><stop offset="0.4652" stop-color="#feaa93"/><stop offset="0.4706" stop-color="#fea890"/><stop offset="0.4866" stop-color="#fd9c7e"/><stop offset="0.492" stop-color="#fd9a7b"/><stop offset="0.5027" stop-color="#fd997a"/><stop offset="0.5294" stop-color="#fea084"/><stop offset="0.5455" stop-color="#fea186"/><stop offset="0.6631" stop-color="#fea48a"/><stop offset="0.6898" stop-color="#fea890"/><stop offset="0.7166" stop-color="#fea78f"/><stop offset="0.7487" stop-color="#feaf9b"/><stop offset="0.8396" stop-color="#feb8a8"/><stop offset="0.8503" stop-color="#febbac"/><stop offset="0.8717" stop-color="#ffc9c1"/><stop offset="0.893" stop-color="#ffd2cc"/><stop offset="0.9037" stop-color="#ffd5d0"/><stop offset="0.9519" stop-color="#ffdcd8"/><stop offset="0.9733" stop-color="#ffe7e5"/><stop offset="1" stop-color="#fff1f0"/></linearGradient>
<linearGradient id="r24" gradientUnits="userSpaceOnUse" x1="131.5" x2="879.5" y1="0" y2="0"><stop offset="0" stop-color="#ffdfdc"/><stop offset="0.01604" stop-color="#ffddd9"/><stop offset="0.06417" stop-color="#ffcdc7"/><stop offset="0.09626" stop-color="#ffcbc4"/><stop offset="0.1123" stop-color="#ffc8c0"/><stop offset="0.123" stop-color="#ffc5bb"/><stop offset="0.1444" stop-color="#feb9a9"/><stop offset="0.1818" stop-color="#feb19d"/><stop offset="0.2086" stop-color="#fea68d"/><stop offset="0.2567" stop-color="#fea287"/><stop offset="0.2888" stop-color="#fea287"/><stop offset="0.3422" stop-color="#fea48a"/><stop offset="0.369" stop-color="#fea78e"/><stop offset="0.3743" stop-color="#fea891"/><stop offset="0.3797" stop-color="#feac96"/><stop offset="0.4011" stop-color="#ffc9c2"/><stop offset="0.4064" stop-color="#ffcdc6"/><stop offset="0.4171" stop-color="#ffcec8"/><stop offset="0.4225" stop-color="#ffcbc4"/><stop offset="0.4332" stop-color="#febbad"/><stop offset="0.4385" stop-color="#feb6a4"/><stop offset="0.4439" stop-color="#feb29e"/><stop offset="0.4706" stop-color="#fea991"/><stop offset="0.4866" stop-color="#fd9c7f"/><stop offset="0.492" stop-color="#fd9a7c"/><stop offset="0.5027" stop-color="#fd997b"/><stop offset="0.5241" stop-color="#fd9f83"/><stop offset="0.5455" stop-color="#fea186"/><stop offset="0.6631" stop-color="#fea48a"/><stop offset="0.6898" stop-color="#fea891"/><stop offset="0.7166" stop-color="#fea890"/><stop offset="0.7487" stop-color="#feaf9b"/><stop offset="0.8396" stop-color="#feb8a8"/><stop offset="0.8503" stop-color="#febbac"/><stop offset="0.8717" stop-color="#ffc9c1"/><stop offset="0.8984" stop-color="#ffd4ce"/><stop offset="0.9519" stop-color="#ffdcd8"/><stop offset="0.9733" stop-color="#ffe7e5"/><stop offset="1" stop-color="#fff1f0"/></linearGradient>
<linearGradient id="r25" gradientUnits="userSpaceOnUse" x1="131.5" x2="879.5" y1="0" y2="0"><stop offset="0" stop-color="#ffe0de"/><stop offset="0.01604" stop-color="#ffdedb"/><stop offset="0.06417" stop-color="#ffcdc7"/><stop offset="0.1016" stop-color="#ffcbc4"/><stop offset="0.1176" stop-color="#ffc9c1"/><stop offset="0.1283" stop-color="#ffc5bb"/><stop offset="0.139" stop-color="#ffbdaf"/><stop offset="0.1497" stop-color="#feb8a7"/><stop offset="0.1818" stop-color="#feb19d"/><stop offset="0.2086" stop-color="#fea68d"/><stop offset="0.2567" stop-color="#fea287"/><stop offset="0.2888" stop-color="#fea287"/><stop offset="0.3422" stop-color="#fea48b"/><stop offset="0.369" stop-color="#fea890"/><stop offset="0.3743" stop-color="#feaa93"/><stop offset="0.3797" stop-color="#feaf9a"/><stop offset="0.3904" stop-color="#ffbeb1"/><stop offset="0.3957" stop-color="#ffc7bf"/><stop offset="0.4011" stop-color="#ffcec8"/><stop offset="0.4064" stop-color="#ffd1cb"/><stop offset="0.4171" stop-color="#ffd1cc"/><stop offset="0.4225" stop-color="#ffcfc9"/><stop offset="0.4278" stop-color="#ffc9c0"/><stop offset="0.4332" stop-color="#ffbfb3"/><stop offset="0.4385" stop-color="#feb9a9"/><stop offset="0.4439" stop-color="#feb5a3"/><stop offset="0.4706" stop-color="#feab94"/><stop offset="0.4759" stop-color="#fea78f"/><stop offset="0.4866" stop-color="#fd9d81"/><stop offset="0.492" stop-color="#fd9b7d"/><stop offset="0.5027" stop-color="#fd9a7c"/><stop offset="0.5241" stop-color="#fe9f84"/><stop offset="0.5455" stop-color="#fea287"/><stop offset="0.6631" stop-color="#fea48b"/><stop offset="0.6898" stop-color="#feaa93"/><stop offset="0.7166" stop-color="#feaa93"/><stop offset="0.7487" stop-color="#feb09b"/><stop offset="0.8396" stop-color="#feb8a8"/><stop offset="0.8503" stop-color="#febbac"/><stop offset="0.8717" stop-color="#ffc9c1"/><stop offset="0.893" stop-color="#ffd2cc"/><stop offset="0.9037" stop-color="#ffd5d0"/><stop offset="0.9519" stop-color="#ffdcd8"/><stop offset="0.9733" stop-color="#ffe7e5"/><stop offset="0.9947" stop-color="#ffefee"/><stop offset="1" stop-color="#fff2f1"/></linearGradient>
<linearGradient id="r26" gradientUnits="userSpaceOnUse" x1="131.5" x2="879.5" y1="0" y2="0"><stop offset="0" stop-color="#ffe1de"/><stop offset="0.01604" stop-color="#ffdfdc"/><stop offset="0.06417" stop-color="#ffcdc7"/><stop offset="0.1176" stop-color="#ffcac3"/><stop offset="0.1283" stop-color="#ffc6bd"/><stop offset="0.139" stop-color="#ffbeb1"/><stop offset="0.1497" stop-color="#feb8a8"/><stop offset="0.1818" stop-color="#feb19d"/><stop offset="0.2032" stop-color="#fea78f"/><stop offset="0.2139" stop-color="#fea58c"/><stop offset="0.2567" stop-color="#fea187"/><stop offset="0.2888" stop-color="#fea287"/><stop offset="0.3369" stop-color="#fea48b"/><stop offset="0.3529" stop-color="#fea68d"/><stop offset="0.369" stop-color="#fea992"/><stop offset="0.3743" stop-color="#feac96"/><stop offset="0.3797" stop-color="#feb19d"/><stop offset="0.3904" stop-color="#ffc0b3"/><stop offset="0.3957" stop-color="#ffcac2"/><stop offset="0.4011" stop-color="#ffd0ca"/><stop offset="0.4064" stop-color="#ffd2cc"/><stop offset="0.4171" stop-color="#ffd2cd"/><stop offset="0.4225" stop-color="#ffd0ca"/><stop offset="0.4278" stop-color="#ffcbc4"/><stop offset="0.4332" stop-color="#ffc2b6"/><stop offset="0.4385" stop-color="#febbac"/><stop offset="0.4439" stop-color="#feb6a5"/><stop offset="0.4706" stop-color="#feab95"/><stop offset="0.4759" stop-color="#fea890"/><stop offset="0.4866" stop-color="#fd9e82"/><stop offset="0.492" stop-color="#fd9b7e"/><stop offset="0.5027" stop-color="#fd9b7d"/><stop offset="0.5241" stop-color="#fea084"/><stop offset="0.5455" stop-color="#fea287"/><stop offset="0.6631" stop-color="#fea48b"/><stop offset="0.6898" stop-color="#feab94"/><stop offset="0.7166" stop-color="#feab94"/><stop offset="0.7487" stop-color="#feb09c"/><stop offset="0.8396" stop-color="#feb8a8"/><stop offset="0.8503" stop-color="#febbac"/><stop offset="0.8717" stop-color="#ffc9c1"/><stop offset="0.893" stop-color="#ffd2cc"/><stop offset="0.9037" stop-color="#ffd5d0"/><stop offset="0.9519" stop-color="#ffdcd8"/><stop offset="0.9733" stop-color="#ffe7e5"/><stop offset="0.9947" stop-color="#ffefee"/><stop offset="1" stop-color="#fff3f3"/></linearGradient>
<linearGradient id="r27" gradientUnits="userSpaceOnUse" x1="131.5" x2="879.5" y1="0" y2="0"><stop offset="0" stop-color="#ffe1df"/><stop offset="0.02139" stop-color="#ffdedb"/><stop offset="0.05348" stop-color="#ffd1cb"/><stop offset="0.06417" stop-color="#ffcec7"/><stop offset="0.123" stop-color="#ffccc5"/><stop offset="0.1283" stop-color="#ffcac2"/><stop offset="0.1444" stop-color="#ffbcae"/><stop offset="0.1497" stop-color="#feb9a9"/><stop offset="0.1872" stop-color="#feb09b"/><stop offset="0.2086" stop-color="#fea68e"/><stop offset="0.262" stop-color="#fea187"/><stop offset="0.2888" stop-color="#fea186"/><stop offset="0.3369" stop-color="#fea58b"/><stop offset="0.3636" stop-color="#feaa93"/><stop offset="0.369" stop-color="#feac96"/><stop offset="0.3797" stop-color="#feb4a2"/><stop offset="0.385" stop-color="#febbac"/><stop offset="0.3957" stop-color="#ffcdc6"/><stop offset="0.4011" stop-color="#ffd1cc"/><stop offset="0.4064" stop-color="#ffd4ce"/><stop offset="0.4171" stop-color="#ffd4cf"/><stop offset="0.4225" stop-color="#ffd2cd"/><stop offset="0.4278" stop-color="#ffcfc8"/><stop offset="0.4385" stop-color="#ffbeb1"/><stop offset="0.4439" stop-color="#feb9a9"/><stop offset="0.4492" stop-color="#feb6a4"/><stop offset="0.4706" stop-color="#fead97"/><stop offset="0.4759" stop-color="#feaa93"/><stop offset="0.4866" stop-color="#fea185"/><stop offset="0.492" stop-color="#fd9e81"/><stop offset="0.5027" stop-color="#fd9d7f"/><stop offset="0.5241" stop-color="#fea085"/><stop offset="0.5508" stop-color="#fea389"/><stop offset="0.6631" stop-color="#fea48b"/><stop offset="0.6898" stop-color="#feac95"/><stop offset="0.7166" stop-color="#feac97"/><stop offset="0.8396" stop-color="#feb8a8"/><stop offset="0.8503" stop-color="#febbac"/><stop offset="0.8717" stop-color="#ffc9c1"/><stop offset="0.893" stop-color="#ffd2cc"/><stop offset="0.9037" stop-color="#ffd5d0"/><stop offset="0.9519" stop-color="#ffdcd8"/><stop offset="0.9733" stop-color="#ffe7e5"/><stop offset="0.9947" stop-color="#ffefee"/><stop offset="1" stop-color="#fff5f4"/></linearGradient>
<linearGradient id="r28" gradientUnits="userSpaceOnUse" x1="131.5" x2="879.5" y1="0" y2="0"><stop offset="0" stop-color="#ffe1df"/><stop offset="0.02139" stop-color="#ffdedb"/><stop offset="0.05348" stop-color="#ffd1cb"/><stop offset="0.06417" stop-color="#ffcec7"/><stop offset="0.1176" stop-color="#ffcdc7"/><stop offset="0.1283" stop-color="#ffccc5"/><stop offset="0.1337" stop-color="#ffc8c0"/><stop offset="0.1444" stop-color="#ffbdaf"/><stop offset="0.1497" stop-color="#feb9aa"/><stop offset="0.1872" stop-color="#feb09c"/><stop offset="0.2086" stop-color="#fea78e"/><stop offset="0.2246" stop-color="#fea48b"/><stop offset="0.2674" stop-color="#fea187"/><stop offset="0.2888" stop-color="#fea186"/><stop offset="0.3316" stop-color="#fea48b"/><stop offset="0.3476" stop-color="#fea78f"/><stop offset="0.3636" stop-color="#feac95"/><stop offset="0.3743" stop-color="#feb19e"/><stop offset="0.3797" stop-color="#feb6a4"/><stop offset="0.385" stop-color="#ffbcad"/><stop offset="0.3957" stop-color="#ffcec7"/><stop offset="0.4011" stop-color="#ffd2cd"/><stop offset="0.4064" stop-color="#ffd4cf"/><stop offset="0.4171" stop-color="#ffd5d0"/><stop offset="0.4278" stop-color="#ffd0ca"/><stop offset="0.4332" stop-color="#ffc9c1"/><stop offset="0.4385" stop-color="#ffc0b3"/><stop offset="0.4439" stop-color="#febaab"/><stop offset="0.4492" stop-color="#feb7a6"/><stop offset="0.4706" stop-color="#feae98"/><stop offset="0.492" stop-color="#fe9f83"/><stop offset="0.5027" stop-color="#fd9e81"/><stop offset="0.5508" stop-color="#fea389"/><stop offset="0.6578" stop-color="#fea48a"/><stop offset="0.6684" stop-color="#fea58c"/><stop offset="0.6898" stop-color="#feac96"/><stop offset="0.7166" stop-color="#fead97"/><stop offset="0.8396" stop-color="#feb8a8"/><stop offset="0.8503" stop-color="#febbac"/><stop offset="0.8717" stop-color="#ffc9c1"/><stop offset="0.893" stop-color="#ffd2cc"/><stop offset="0.9037" stop-color="#ffd5d0"/><stop offset="0.9412" stop-color="#ffdad5"/><stop offset="0.9519" stop-color="#ffdcd9"/><stop offset="0.9733" stop-color="#ffe7e5"/><stop offset="0.9947" stop-color="#ffefee"/><stop offset="1" stop-color="#fff5f4"/></linearGradient>
<linearGradient id="r29" gradientUnits="userSpaceOnUse" x1="131.5" x2="879.5" y1="0" y2="0"><stop offset="0" stop-color="#ffe1df"/><stop offset="0.02139" stop-color="#ffdfdc"/><stop offset="0.05348" stop-color="#ffd1cb"/><stop offset="0.06417" stop-color="#ffcec8"/><stop offset="0.08556" stop-color="#ffcdc7"/><stop offset="0.1176" stop-color="#ffd0ca"/><stop offset="0.1283" stop-color="#ffcfc9"/><stop offset="0.1337" stop-color="#ffcdc6"/><stop offset="0.1444" stop-color="#ffbfb2"/><stop offset="0.1551" stop-color="#feb8a8"/><stop offset="0.1872" stop-color="#feb09d"/><stop offset="0.2086" stop-color="#fea890"/><stop offset="0.2193" stop-color="#fea58c"/><stop offset="0.2674" stop-color="#fea287"/><stop offset="0.2888" stop-color="#fea287"/><stop offset="0.3262" stop-color="#fea48b"/><stop offset="0.3476" stop-color="#fea991"/><stop offset="0.369" stop-color="#feb19d"/><stop offset="0.3797" stop-color="#feb8a8"/><stop offset="0.385" stop-color="#ffbeb1"/><stop offset="0.3904" stop-color="#ffc7bf"/><stop offset="0.3957" stop-color="#ffd0c9"/><stop offset="0.4064" stop-color="#ffd6d1"/><stop offset="0.4171" stop-color="#ffd7d2"/><stop offset="0.4278" stop-color="#ffd2cd"/><stop offset="0.4332" stop-color="#ffcdc7"/><stop offset="0.4385" stop-color="#ffc4ba"/><stop offset="0.4439" stop-color="#ffbdaf"/><stop offset="0.4492" stop-color="#feb9a9"/><stop offset="0.4706" stop-color="#feaf9a"/><stop offset="0.4866" stop-color="#fea48b"/><stop offset="0.492" stop-color="#fea287"/><stop offset="0.5027" stop-color="#fea085"/><stop offset="0.5722" stop-color="#fea48b"/><stop offset="0.6203" stop-color="#fea389"/><stop offset="0.6578" stop-color="#fea48a"/><stop offset="0.6684" stop-color="#fea68d"/><stop offset="0.6898" stop-color="#feac96"/><stop offset="0.7219" stop-color="#feae99"/><stop offset="0.8396" stop-color="#feb8a8"/><stop offset="0.8503" stop-color="#febbac"/><stop offset="0.8717" stop-color="#ffc9c1"/><stop offset="0.893" stop-color="#ffd2cc"/><stop offset="0.9037" stop-color="#ffd5d0"/><stop offset="0.9412" stop-color="#ffdad6"/><stop offset="0.9519" stop-color="#ffdcd9"/><stop offset="0.9733" stop-color="#ffe7e5"/><stop offset="0.9947" stop-color="#fff0ee"/><stop offset="1" stop-color="#fff5f5"/></linearGradient>
<linearGradient id="r30" gradientUnits="userSpaceOnUse" x1="131.5" x2="879.5" y1="0" y2="0"><stop offset="0" stop-color="#ffe2df"/><stop offset="0.02139" stop-color="#ffdfdd"/><stop offset="0.06417" stop-color="#ffcec8"/><stop offset="0.08021" stop-color="#ffcec7"/><stop offset="0.1176" stop-color="#ffd1cb"/><stop offset="0.1283" stop-color="#ffd0ca"/><stop offset="0.1337" stop-color="#ffcec7"/><stop offset="0.1444" stop-color="#ffc0b4"/><stop offset="0.1497" stop-color="#febbad"/><stop offset="0.1604" stop-color="#feb7a6"/><stop offset="0.1872" stop-color="#feb19d"/><stop offset="0.2193" stop-color="#fea58c"/><stop offset="0.2674" stop-color="#fea287"/><stop offset="0.2888" stop-color="#fea287"/><stop offset="0.3209" stop-color="#fea48a"/><stop offset="0.3422" stop-color="#fea890"/><stop offset="0.3743" stop-color="#feb5a3"/><stop offset="0.3797" stop-color="#feb9a9"/><stop offset="0.385" stop-color="#ffbfb2"/><stop offset="0.3904" stop-color="#ffc9c0"/><stop offset="0.3957" stop-color="#ffd0ca"/><stop offset="0.4064" stop-color="#ffd7d2"/><stop offset="0.4171" stop-color="#ffd8d3"/><stop offset="0.4278" stop-color="#ffd4ce"/><stop offset="0.4332" stop-color="#ffcfc9"/><stop offset="0.4439" stop-color="#ffbeb1"/><stop offset="0.4545" stop-color="#feb7a6"/><stop offset="0.4706" stop-color="#feaf9b"/><stop offset="0.4866" stop-color="#fea58c"/><stop offset="0.492" stop-color="#fea388"/><stop offset="0.508" stop-color="#fea186"/><stop offset="0.5722" stop-color="#fea58b"/><stop offset="0.615" stop-color="#fea389"/><stop offset="0.6578" stop-color="#fea48a"/><stop offset="0.6898" stop-color="#feac96"/><stop offset="0.8396" stop-color="#feb8a8"/><stop offset="0.8503" stop-color="#febbac"/><stop offset="0.8717" stop-color="#ffc9c1"/><stop offset="0.893" stop-color="#ffd2cc"/><stop offset="0.9037" stop-color="#ffd5d0"/><stop offset="0.9465" stop-color="#ffdbd7"/><stop offset="0.9733" stop-color="#ffe7e5"/><stop offset="0.9893" stop-color="#ffedeb"/><stop offset="0.9947" stop-color="#fff0ee"/><stop offset="1" stop-color="#fff5f5"/></linearGradient>
<linearGradient id="r31" gradientUnits="userSpaceOnUse" x1="131.5" x2="879.5" y1="0" y2="0"><stop offset="0" stop-color="#ffe2df"/><stop offset="0.01604" stop-color="#ffe1de"/><stop offset="0.02674" stop-color="#ffdfdb"/><stop offset="0.06417" stop-color="#ffcec8"/><stop offset="0.07487" stop-color="#ffcec8"/><stop offset="0.1176" stop-color="#ffd3cd"/><stop offset="0.1283" stop-color="#ffd2cc"/><stop offset="0.1337" stop-color="#ffd0ca"/><stop offset="0.139" stop-color="#ffcac3"/><stop offset="0.1444" stop-color="#ffc2b7"/><stop offset="0.1497" stop-color="#ffbdaf"/><stop offset="0.1551" stop-color="#feb9aa"/><stop offset="0.1658" stop-color="#feb6a5"/><stop offset="0.1925" stop-color="#feb09c"/><stop offset="0.2193" stop-color="#fea68d"/><stop offset="0.2299" stop-color="#fea48b"/><stop offset="0.2888" stop-color="#fea288"/><stop offset="0.3209" stop-color="#fea58b"/><stop offset="0.3369" stop-color="#fea890"/><stop offset="0.3743" stop-color="#feb6a5"/><stop offset="0.3797" stop-color="#febbac"/><stop offset="0.385" stop-color="#ffc1b5"/><stop offset="0.3904" stop-color="#ffcbc4"/><stop offset="0.3957" stop-color="#ffd2cc"/><stop offset="0.4064" stop-color="#ffd9d4"/><stop offset="0.4171" stop-color="#ffdbd7"/><stop offset="0.4225" stop-color="#ffd9d5"/><stop offset="0.4332" stop-color="#ffd2cc"/><stop offset="0.4385" stop-color="#ffcbc4"/><stop offset="0.4439" stop-color="#ffc2b7"/><stop offset="0.4492" stop-color="#ffbdaf"/><stop offset="0.4545" stop-color="#feb9a9"/><stop offset="0.4706" stop-color="#feb09d"/><stop offset="0.4866" stop-color="#fea68d"/><stop offset="0.492" stop-color="#fea48a"/><stop offset="0.5027" stop-color="#fea288"/><stop offset="0.5187" stop-color="#fea288"/><stop offset="0.5775" stop-color="#fea78e"/><stop offset="0.5989" stop-color="#fea48a"/><stop offset="0.6471" stop-color="#fea48a"/><stop offset="0.6631" stop-color="#fea58c"/><stop offset="0.6845" stop-color="#feac95"/><stop offset="0.8449" stop-color="#feb9aa"/><stop offset="0.8556" stop-color="#ffbeb1"/><stop offset="0.8717" stop-color="#ffc9c1"/><stop offset="0.893" stop-color="#ffd2cc"/><stop offset="0.9037" stop-color="#ffd5d0"/><stop offset="0.9465" stop-color="#ffdbd7"/><stop offset="0.9679" stop-color="#ffe5e3"/><stop offset="0.9893" stop-color="#ffedec"/><stop offset="0.9947" stop-color="#fff0ef"/><stop offset="1" stop-color="#fff6f5"/></linearGradient>
<linearGradient id="r32" gradientUnits="userSpaceOnUse" x1="131.5" x2="879.5" y1="0" y2="0"><stop offset="0" stop-color="#ffe2df"/><stop offset="0.01604" stop-color="#ffe1df"/><stop offset="0.02674" stop-color="#ffdfdc"/><stop offset="0.06417" stop-color="#ffcfc8"/><stop offset="0.07487" stop-color="#ffcec8"/><stop offset="0.1123" stop-color="#ffd3ce"/><stop offset="0.1283" stop-color="#ffd2cd"/><stop offset="0.1337" stop-color="#ffd0ca"/><stop offset="0.139" stop-color="#ffcbc4"/><stop offset="0.1444" stop-color="#ffc3b9"/><stop offset="0.1497" stop-color="#ffbeb0"/><stop offset="0.1551" stop-color="#febaab"/><stop offset="0.1658" stop-color="#feb6a5"/><stop offset="0.1979" stop-color="#feaf9a"/><stop offset="0.2193" stop-color="#fea68e"/><stop offset="0.2299" stop-color="#fea48b"/><stop offset="0.2888" stop-color="#fea388"/><stop offset="0.3316" stop-color="#fea78f"/><stop offset="0.3743" stop-color="#feb7a6"/><stop offset="0.3797" stop-color="#febbad"/><stop offset="0.385" stop-color="#ffc2b7"/><stop offset="0.3904" stop-color="#ffccc5"/><stop offset="0.3957" stop-color="#ffd3cd"/><stop offset="0.4064" stop-color="#ffdad6"/><stop offset="0.4171" stop-color="#ffdcd9"/><stop offset="0.4225" stop-color="#ffdbd7"/><stop offset="0.4332" stop-color="#ffd3ce"/><stop offset="0.4385" stop-color="#ffcdc7"/><stop offset="0.4492" stop-color="#ffbeb1"/><stop offset="0.4545" stop-color="#febaab"/><stop offset="0.4706" stop-color="#feb19d"/><stop offset="0.4813" stop-color="#feaa92"/><stop offset="0.492" stop-color="#fea48b"/><stop offset="0.5027" stop-color="#fea388"/><stop offset="0.5241" stop-color="#fea389"/><stop offset="0.5508" stop-color="#fea48b"/><stop offset="0.5775" stop-color="#fea88f"/><stop offset="0.5989" stop-color="#fea48b"/><stop offset="0.6471" stop-color="#fea48a"/><stop offset="0.6631" stop-color="#fea58c"/><stop offset="0.6845" stop-color="#feac95"/><stop offset="0.8449" stop-color="#feb9aa"/><stop offset="0.8556" stop-color="#ffbeb1"/><stop offset="0.8717" stop-color="#ffc9c1"/><stop offset="0.893" stop-color="#ffd2cc"/><stop offset="0.9037" stop-color="#ffd5d0"/><stop offset="0.9465" stop-color="#ffdbd7"/><stop offset="0.9679" stop-color="#ffe5e3"/><stop offset="0.9893" stop-color="#ffedec"/><stop offset="0.9947" stop-color="#fff0ef"/><stop offset="1" stop-color="#fff6f5"/></linearGradient>
<linearGradient id="r33" gradientUnits="userSpaceOnUse" x1="131.5" x2="879.5" y1="0" y2="0"><stop offset="0" stop-color="#ffe2e0"/><stop offset="0.02674" stop-color="#ffe0dd"/><stop offset="0.06417" stop-color="#ffcfc9"/><stop offset="0.107" stop-color="#ffd4cf"/><stop offset="0.1283" stop-color="#ffd3ce"/><stop offset="0.1337" stop-color="#ffd1cb"/><stop offset="0.139" stop-color="#ffcdc6"/><stop offset="0.1497" stop-color="#ffbfb2"/><stop offset="0.1604" stop-color="#feb8a8"/><stop offset="0.1979" stop-color="#feb09c"/><stop offset="0.2193" stop-color="#fea78f"/><stop offset="0.2299" stop-color="#fea48b"/><stop offset="0.2888" stop-color="#fea389"/><stop offset="0.3048" stop-color="#fea48b"/><stop offset="0.3316" stop-color="#fea991"/><stop offset="0.369" stop-color="#feb5a4"/><stop offset="0.3743" stop-color="#feb8a8"/><stop offset="0.3797" stop-color="#ffbdaf"/><stop offset="0.385" stop-color="#ffc4ba"/><stop offset="0.3904" stop-color="#ffcec8"/><stop offset="0.3957" stop-color="#ffd5d0"/><stop offset="0.4064" stop-color="#ffddd9"/><stop offset="0.4171" stop-color="#ffdfdb"/><stop offset="0.4225" stop-color="#ffddda"/><stop offset="0.4385" stop-color="#ffd0cb"/><stop offset="0.4439" stop-color="#ffcac3"/><stop offset="0.4492" stop-color="#ffc3b8"/><stop offset="0.4545" stop-color="#ffbdb0"/><stop offset="0.4599" stop-color="#feb9a9"/><stop offset="0.4813" stop-color="#feaa94"/><stop offset="0.492" stop-color="#fea58c"/><stop offset="0.508" stop-color="#fea389"/><stop offset="0.5401" stop-color="#fea48a"/><stop offset="0.5508" stop-color="#fea58b"/><stop offset="0.5722" stop-color="#fea992"/><stop offset="0.5775" stop-color="#fea992"/><stop offset="0.5989" stop-color="#fea58b"/><stop offset="0.6471" stop-color="#fea48a"/><stop offset="0.6578" stop-color="#fea58b"/><stop offset="0.6845" stop-color="#feac96"/><stop offset="0.8449" stop-color="#feb9aa"/><stop offset="0.8556" stop-color="#ffbeb1"/><stop offset="0.8717" stop-color="#ffc9c1"/><stop offset="0.893" stop-color="#ffd2cd"/><stop offset="0.9037" stop-color="#ffd5d0"/><stop offset="0.9465" stop-color="#ffdbd8"/><stop offset="0.9679" stop-color="#ffe6e4"/><stop offset="0.9893" stop-color="#ffedec"/><stop offset="0.9947" stop-color="#fff0ef"/><stop offset="1" stop-color="#fff6f6"/></linearGradient>
<linearGradient id="r34" gradientUnits="userSpaceOnUse" x1="131.5" x2="879.5" y1="0" y2="0"><stop offset="0" stop-color="#ffe2e0"/><stop offset="0.02674" stop-color="#ffe0dd"/><stop offset="0.06417" stop-color="#ffcfc9"/><stop offset="0.1016" stop-color="#ffd4cf"/><stop offset="0.1283" stop-color="#ffd3ce"/><stop offset="0.1337" stop-color="#ffd2cc"/><stop offset="0.139" stop-color="#ffcec7"/><stop offset="0.1497" stop-color="#ffc0b4"/><stop offset="0.1551" stop-color="#ffbcad"/><stop offset="0.1604" stop-color="#feb9a9"/><stop offset="0.1979" stop-color="#feb09c"/><stop offset="0.2193" stop-color="#fea78f"/><stop offset="0.2299" stop-color="#fea58b"/><stop offset="0.2941" stop-color="#fea389"/><stop offset="0.3316" stop-color="#feaa93"/><stop offset="0.369" stop-color="#feb6a5"/><stop offset="0.3743" stop-color="#feb9a9"/><stop offset="0.3797" stop-color="#ffbdb0"/><stop offset="0.3904" stop-color="#ffcfc9"/><stop offset="0.3957" stop-color="#ffd6d1"/><stop offset="0.4011" stop-color="#ffdbd7"/><stop offset="0.4118" stop-color="#ffdfdd"/><stop offset="0.4225" stop-color="#ffdeda"/><stop offset="0.4385" stop-color="#ffd2cc"/><stop offset="0.4439" stop-color="#ffccc6"/><stop offset="0.4545" stop-color="#ffbfb2"/><stop offset="0.4599" stop-color="#febaab"/><stop offset="0.4813" stop-color="#feab94"/><stop offset="0.492" stop-color="#fea68d"/><stop offset="0.508" stop-color="#fea48a"/><stop offset="0.5401" stop-color="#fea48a"/><stop offset="0.5508" stop-color="#fea58c"/><stop offset="0.5722" stop-color="#feaa93"/><stop offset="0.5775" stop-color="#feaa93"/><stop offset="0.5989" stop-color="#fea58c"/><stop offset="0.6471" stop-color="#fea48a"/><stop offset="0.6578" stop-color="#fea58c"/><stop offset="0.6791" stop-color="#feab95"/><stop offset="0.8449" stop-color="#febaaa"/><stop offset="0.8556" stop-color="#ffbeb1"/><stop offset="0.8663" stop-color="#ffc6bd"/><stop offset="0.8717" stop-color="#ffc9c1"/><stop offset="0.893" stop-color="#ffd2cd"/><stop offset="0.9037" stop-color="#ffd5d1"/><stop offset="0.9465" stop-color="#ffdcd8"/><stop offset="0.9679" stop-color="#ffe6e4"/><stop offset="0.9893" stop-color="#ffedec"/><stop offset="0.9947" stop-color="#fff1ef"/><stop offset="1" stop-color="#fff6f6"/></linearGradient>
<linearGradient id="r35" gradientUnits="userSpaceOnUse" x1="131.5" x2="879.5" y1="0" y2="0"><stop offset="0" stop-color="#ffe3e0"/><stop offset="0.02674" stop-color="#ffe0de"/><stop offset="0.06417" stop-color="#ffd0ca"/><stop offset="0.1016" stop-color="#ffd5d0"/><stop offset="0.123" stop-color="#ffd5cf"/><stop offset="0.1337" stop-color="#ffd2cd"/><stop offset="0.139" stop-color="#ffcfc9"/><stop offset="0.1444" stop-color="#ffc9c1"/><stop offset="0.1497" stop-color="#ffc2b6"/><stop offset="0.1551" stop-color="#ffbdaf"/><stop offset="0.1604" stop-color="#febaaa"/><stop offset="0.1711" stop-color="#feb6a5"/><stop offset="0.2032" stop-color="#feaf9b"/><stop offset="0.2193" stop-color="#fea890"/><stop offset="0.2299" stop-color="#fea58c"/><stop offset="0.2941" stop-color="#fea48a"/><stop offset="0.3636" stop-color="#feb5a3"/><stop offset="0.3743" stop-color="#febaaa"/><stop offset="0.3797" stop-color="#ffbfb2"/><stop offset="0.3904" stop-color="#ffd1cb"/><stop offset="0.3957" stop-color="#ffd8d4"/><stop offset="0.4011" stop-color="#ffdeda"/><stop offset="0.4118" stop-color="#ffe1de"/><stop offset="0.4225" stop-color="#ffdfdc"/><stop offset="0.4439" stop-color="#ffcfc9"/><stop offset="0.4492" stop-color="#ffcac2"/><stop offset="0.4599" stop-color="#ffbeb0"/><stop offset="0.4652" stop-color="#feb9aa"/><stop offset="0.4813" stop-color="#feac96"/><stop offset="0.492" stop-color="#fea78e"/><stop offset="0.508" stop-color="#fea48b"/><stop offset="0.5348" stop-color="#fea48b"/><stop offset="0.5508" stop-color="#fea68e"/><stop offset="0.5722" stop-color="#feac96"/><stop offset="0.5775" stop-color="#feac95"/><stop offset="0.5936" stop-color="#fea68e"/><stop offset="0.6043" stop-color="#fea58b"/><stop offset="0.6417" stop-color="#fea48a"/><stop offset="0.6524" stop-color="#fea48b"/><stop offset="0.6791" stop-color="#feab95"/><stop offset="0.7166" stop-color="#feae98"/><stop offset="0.8449" stop-color="#febaaa"/><stop offset="0.8503" stop-color="#ffbcad"/><stop offset="0.8717" stop-color="#ffc9c2"/><stop offset="0.893" stop-color="#ffd3cd"/><stop offset="0.9037" stop-color="#ffd6d1"/><stop offset="0.9465" stop-color="#ffdcd8"/><stop offset="0.9679" stop-color="#ffe6e4"/><stop offset="0.9893" stop-color="#ffeeec"/><stop offset="1" stop-color="#fff7f6"/></linearGradient>
<linearGradient id="r36" gradientUnits="userSpaceOnUse" x1="131.5" x2="879.5" y1="0" y2="0"><stop offset="0" stop-color="#ffe3e1"/><stop offset="0.02139" stop-color="#ffe2df"/><stop offset="0.03209" stop-color="#ffdfdc"/><stop offset="0.06417" stop-color="#ffd1cb"/><stop offset="0.09626" stop-color="#ffd5d0"/><stop offset="0.1283" stop-color="#ffd4cf"/><stop offset="0.139" stop-color="#ffcfc9"/><stop offset="0.1444" stop-color="#ffcac3"/><stop offset="0.1497" stop-color="#ffc3b8"/><stop offset="0.1551" stop-color="#ffbeb0"/><stop offset="0.1604" stop-color="#febaab"/><stop offset="0.1711" stop-color="#feb6a6"/><stop offset="0.2032" stop-color="#feb09b"/><stop offset="0.2246" stop-color="#fea68d"/><stop offset="0.2353" stop-color="#fea58b"/><stop offset="0.2834" stop-color="#fea389"/><stop offset="0.2995" stop-color="#fea58b"/><stop offset="0.369" stop-color="#feb7a6"/><stop offset="0.3743" stop-color="#febaab"/><stop offset="0.3797" stop-color="#ffbfb3"/><stop offset="0.3904" stop-color="#ffd2cc"/><stop offset="0.3957" stop-color="#ffd9d5"/><stop offset="0.4011" stop-color="#ffdedb"/><stop offset="0.4064" stop-color="#ffe1de"/><stop offset="0.4171" stop-color="#ffe1de"/><stop offset="0.4225" stop-color="#ffdfdc"/><stop offset="0.4439" stop-color="#ffd0ca"/><stop offset="0.4492" stop-color="#ffcbc5"/><stop offset="0.4599" stop-color="#ffbfb3"/><stop offset="0.4813" stop-color="#fead98"/><stop offset="0.4866" stop-color="#fea992"/><stop offset="0.492" stop-color="#fea78f"/><stop offset="0.508" stop-color="#fea58b"/><stop offset="0.5348" stop-color="#fea58b"/><stop offset="0.5455" stop-color="#fea68d"/><stop offset="0.5722" stop-color="#feac97"/><stop offset="0.5829" stop-color="#feab94"/><stop offset="0.5936" stop-color="#fea78e"/><stop offset="0.6043" stop-color="#fea58b"/><stop offset="0.6417" stop-color="#fea48a"/><stop offset="0.6524" stop-color="#fea48b"/><stop offset="0.6791" stop-color="#feab95"/><stop offset="0.7166" stop-color="#feae98"/><stop offset="0.8449" stop-color="#febaab"/><stop offset="0.8503" stop-color="#ffbcae"/><stop offset="0.8717" stop-color="#ffc9c2"/><stop offset="0.893" stop-color="#ffd3cd"/><stop offset="0.9465" stop-color="#ffdcd9"/><stop offset="0.9679" stop-color="#ffe6e4"/><stop offset="0.9893" stop-color="#ffeeec"/><stop offset="1" stop-color="#fff7f6"/></linearGradient>
<linearGradient id="r37" gradientUnits="userSpaceOnUse" x1="131.5" x2="879.5" y1="0" y2="0"><stop offset="0" stop-color="#ffe3e1"/><stop offset="0.03209" stop-color="#ffe0dd"/><stop offset="0.06417" stop-color="#ffd2cc"/><stop offset="0.09091" stop-color="#ffd6d1"/><stop offset="0.1283" stop-color="#ffd4cf"/><stop offset="0.139" stop-color="#ffd1cb"/><stop offset="0.1444" stop-color="#ffccc5"/><stop offset="0.1551" stop-color="#ffc0b3"/><stop offset="0.1658" stop-color="#feb9a9"/><stop offset="0.2032" stop-color="#feb09c"/><stop offset="0.2246" stop-color="#fea78e"/><stop offset="0.2888" stop-color="#fea48b"/><stop offset="0.2995" stop-color="#fea68d"/><stop offset="0.3209" stop-color="#fead98"/><stop offset="0.369" stop-color="#feb8a7"/><stop offset="0.3743" stop-color="#febbac"/><stop offset="0.3797" stop-color="#ffc1b4"/><stop offset="0.385" stop-color="#ffcac3"/><stop offset="0.3957" stop-color="#ffdad6"/><stop offset="0.4011" stop-color="#ffdfdc"/><stop offset="0.4118" stop-color="#ffe2e0"/><stop offset="0.4225" stop-color="#ffe0dd"/><stop offset="0.4492" stop-color="#ffcec8"/><stop offset="0.4545" stop-color="#ffcac2"/><stop offset="0.4706" stop-color="#febaab"/><stop offset="0.4866" stop-color="#feac96"/><stop offset="0.4973" stop-color="#fea890"/><stop offset="0.5134" stop-color="#fea58c"/><stop offset="0.5294" stop-color="#fea68d"/><stop offset="0.5455" stop-color="#fea88f"/><stop offset="0.5722" stop-color="#fead98"/><stop offset="0.5829" stop-color="#feac95"/><stop offset="0.6043" stop-color="#fea58c"/><stop offset="0.6417" stop-color="#fea48a"/><stop offset="0.6524" stop-color="#fea58b"/><stop offset="0.6738" stop-color="#feab94"/><stop offset="0.7112" stop-color="#fead98"/><stop offset="0.8396" stop-color="#feb9a9"/><stop offset="0.8503" stop-color="#ffbdaf"/><stop offset="0.8663" stop-color="#ffc7bf"/><stop offset="0.8717" stop-color="#ffcac2"/><stop offset="0.893" stop-color="#ffd3ce"/><stop offset="0.9037" stop-color="#ffd6d1"/><stop offset="0.9412" stop-color="#ffdbd7"/><stop offset="0.9679" stop-color="#ffe7e5"/><stop offset="0.9893" stop-color="#ffeeed"/><stop offset="1" stop-color="#fff7f6"/></linearGradient>
<linearGradient id="r38" gradientUnits="userSpaceOnUse" x1="131.5" x2="879.5" y1="0" y2="0"><stop offset="0" stop-color="#ffe4e2"/><stop offset="0.03209" stop-color="#ffe0dd"/><stop offset="0.06417" stop-color="#ffd3cd"/><stop offset="0.09626" stop-color="#ffd6d1"/><stop offset="0.123" stop-color="#ffd5d0"/><stop offset="0.1337" stop-color="#ffd3ce"/><stop offset="0.1444" stop-color="#ffcdc6"/><stop offset="0.1551" stop-color="#ffc1b5"/><stop offset="0.1658" stop-color="#febaaa"/><stop offset="0.2032" stop-color="#feb19d"/><stop offset="0.2246" stop-color="#fea78f"/><stop offset="0.262" stop-color="#fea78f"/><stop offset="0.2888" stop-color="#fea58b"/><stop offset="0.2995" stop-color="#fea78e"/><stop offset="0.3209" stop-color="#feae99"/><stop offset="0.3583" stop-color="#feb5a3"/><stop offset="0.369" stop-color="#feb8a8"/><stop offset="0.3743" stop-color="#febbad"/><stop offset="0.3797" stop-color="#ffc1b5"/><stop offset="0.385" stop-color="#ffcbc4"/><stop offset="0.3957" stop-color="#ffdbd7"/><stop offset="0.4011" stop-color="#ffe0dd"/><stop offset="0.4118" stop-color="#ffe3e1"/><stop offset="0.4225" stop-color="#ffe0dd"/><stop offset="0.4545" stop-color="#ffccc5"/><stop offset="0.4813" stop-color="#feb29f"/><stop offset="0.4866" stop-color="#feae98"/><stop offset="0.4973" stop-color="#fea991"/><stop offset="0.5134" stop-color="#fea68d"/><stop offset="0.5294" stop-color="#fea68e"/><stop offset="0.5722" stop-color="#feae99"/><stop offset="0.5829" stop-color="#feac96"/><stop offset="0.6043" stop-color="#fea58c"/><stop offset="0.6417" stop-color="#fea48a"/><stop offset="0.6524" stop-color="#fea58c"/><stop offset="0.6738" stop-color="#feab94"/><stop offset="0.7112" stop-color="#fead98"/><stop offset="0.8396" stop-color="#feb9aa"/><stop offset="0.8503" stop-color="#ffbdaf"/><stop offset="0.8663" stop-color="#ffc8bf"/><stop offset="0.893" stop-color="#ffd3ce"/><stop offset="0.9412" stop-color="#ffdbd7"/><stop offset="0.9679" stop-color="#ffe7e5"/><stop offset="0.9893" stop-color="#ffeeed"/><stop offset="1" stop-color="#fff7f6"/></linearGradient>
<linearGradient id="r39" gradientUnits="userSpaceOnUse" x1="131.5" x2="879.5" y1="0" y2="0"><stop offset="0" stop-color="#ffe4e2"/><stop offset="0.03209" stop-color="#ffe1de"/><stop offset="0.06417" stop-color="#ffd5d0"/><stop offset="0.1016" stop-color="#ffd7d2"/><stop offset="0.1337" stop-color="#ffd4cf"/><stop offset="0.1444" stop-color="#ffcfc8"/><stop offset="0.1497" stop-color="#ffcac2"/><stop offset="0.1604" stop-color="#ffbfb2"/><stop offset="0.1711" stop-color="#feb8a9"/><stop offset="0.2032" stop-color="#feb19e"/><stop offset="0.2246" stop-color="#fea991"/><stop offset="0.262" stop-color="#fea992"/><stop offset="0.2888" stop-color="#fea68e"/><stop offset="0.2995" stop-color="#fea891"/><stop offset="0.3155" stop-color="#feae98"/><stop offset="0.3583" stop-color="#feb6a4"/><stop offset="0.369" stop-color="#feb9a9"/><stop offset="0.3743" stop-color="#ffbcae"/><stop offset="0.3797" stop-color="#ffc2b7"/><stop offset="0.385" stop-color="#ffccc6"/><stop offset="0.3957" stop-color="#ffdbd7"/><stop offset="0.4011" stop-color="#ffe0dd"/><stop offset="0.4118" stop-color="#ffe4e2"/><stop offset="0.4225" stop-color="#ffe1de"/><stop offset="0.4599" stop-color="#ffcdc6"/><stop offset="0.4652" stop-color="#ffc8bf"/><stop offset="0.4759" stop-color="#febaaa"/><stop offset="0.4813" stop-color="#feb5a3"/><stop offset="0.492" stop-color="#feae99"/><stop offset="0.5027" stop-color="#feaa93"/><stop offset="0.5134" stop-color="#fea890"/><stop offset="0.5294" stop-color="#fea891"/><stop offset="0.5615" stop-color="#feae99"/><stop offset="0.5722" stop-color="#feae9a"/><stop offset="0.5829" stop-color="#fead97"/><stop offset="0.6043" stop-color="#fea68d"/><stop offset="0.6417" stop-color="#fea48a"/><stop offset="0.6524" stop-color="#fea58c"/><stop offset="0.6631" stop-color="#fea991"/><stop offset="0.6738" stop-color="#feab94"/><stop offset="0.7112" stop-color="#fead97"/><stop offset="0.8396" stop-color="#febaaa"/><stop offset="0.8503" stop-color="#ffbeb1"/><stop offset="0.8663" stop-color="#ffc8c0"/><stop offset="0.893" stop-color="#ffd3ce"/><stop offset="0.9412" stop-color="#ffdbd7"/><stop offset="0.9626" stop-color="#ffe5e3"/><stop offset="0.9893" stop-color="#ffeeed"/><stop offset="1" stop-color="#fff7f7"/></linearGradient>
<linearGradient id="r40" gradientUnits="userSpaceOnUse" x1="131.5" x2="879.5" y1="0" y2="0"><stop offset="0" stop-color="#ffe4e2"/><stop offset="0.03209" stop-color="#ffe1de"/><stop offset="0.06417" stop-color="#ffd6d1"/><stop offset="0.1016" stop-color="#ffd7d3"/><stop offset="0.1337" stop-color="#ffd4cf"/><stop offset="0.1444" stop-color="#ffcfc9"/><stop offset="0.1497" stop-color="#ffcbc4"/><stop offset="0.1604" stop-color="#ffc0b3"/><stop offset="0.1711" stop-color="#feb9a9"/><stop offset="0.2032" stop-color="#feb29e"/><stop offset="0.2193" stop-color="#feab95"/><stop offset="0.2299" stop-color="#feaa92"/><stop offset="0.262" stop-color="#feaa93"/><stop offset="0.2888" stop-color="#fea78f"/><stop offset="0.369" stop-color="#feb9a9"/><stop offset="0.3743" stop-color="#ffbcae"/><stop offset="0.3797" stop-color="#ffc3b8"/><stop offset="0.385" stop-color="#ffcdc6"/><stop offset="0.3957" stop-color="#ffdbd8"/><stop offset="0.4064" stop-color="#ffe4e2"/><stop offset="0.4118" stop-color="#ffe5e3"/><stop offset="0.4171" stop-color="#ffe3e1"/><stop offset="0.4385" stop-color="#ffd8d4"/><stop offset="0.4599" stop-color="#ffcfc9"/><stop offset="0.4652" stop-color="#ffcbc4"/><stop offset="0.4759" stop-color="#febbad"/><stop offset="0.4813" stop-color="#feb6a5"/><stop offset="0.492" stop-color="#feb09c"/><stop offset="0.5027" stop-color="#feac95"/><stop offset="0.5134" stop-color="#fea992"/><stop offset="0.5241" stop-color="#fea992"/><stop offset="0.5561" stop-color="#feae99"/><stop offset="0.5722" stop-color="#feaf9a"/><stop offset="0.5829" stop-color="#fead98"/><stop offset="0.6043" stop-color="#fea68d"/><stop offset="0.6203" stop-color="#fea68d"/><stop offset="0.6417" stop-color="#fea48a"/><stop offset="0.6524" stop-color="#fea68d"/><stop offset="0.6684" stop-color="#feaa93"/><stop offset="0.7112" stop-color="#fead97"/><stop offset="0.8342" stop-color="#feb9a9"/><stop offset="0.8449" stop-color="#ffbcae"/><stop offset="0.8663" stop-color="#ffc9c1"/><stop offset="0.893" stop-color="#ffd3ce"/><stop offset="0.9412" stop-color="#ffdbd7"/><stop offset="0.9626" stop-color="#ffe5e3"/><stop offset="0.9893" stop-color="#ffeeed"/><stop offset="1" stop-color="#fff7f7"/></linearGradient>
<linearGradient id="r41" gradientUnits="userSpaceOnUse" x1="131.5" x2="879.5" y1="0" y2="0"><stop offset="0" stop-color="#ffe4e2"/><stop offset="0.03209" stop-color="#ffe1df"/><stop offset="0.06417" stop-color="#ffd8d3"/><stop offset="0.107" stop-color="#ffd8d3"/><stop offset="0.1337" stop-color="#ffd5d0"/><stop offset="0.1444" stop-color="#ffd1cb"/><stop offset="0.1497" stop-color="#ffcdc6"/><stop offset="0.1658" stop-color="#ffbeb0"/><stop offset="0.1711" stop-color="#febaab"/><stop offset="0.1818" stop-color="#feb7a6"/><stop offset="0.2032" stop-color="#feb29f"/><stop offset="0.2246" stop-color="#feac96"/><stop offset="0.262" stop-color="#feac95"/><stop offset="0.2888" stop-color="#feaa93"/><stop offset="0.3583" stop-color="#feb7a6"/><stop offset="0.369" stop-color="#febaaa"/><stop offset="0.3743" stop-color="#ffbdaf"/><stop offset="0.3797" stop-color="#ffc4b9"/><stop offset="0.385" stop-color="#ffcdc7"/><stop offset="0.3957" stop-color="#ffdcd8"/><stop offset="0.4064" stop-color="#ffe4e2"/><stop offset="0.4118" stop-color="#ffe6e4"/><stop offset="0.4225" stop-color="#ffe2df"/><stop offset="0.4385" stop-color="#ffd9d5"/><stop offset="0.4599" stop-color="#ffd2cc"/><stop offset="0.4652" stop-color="#ffcfc9"/><stop offset="0.4706" stop-color="#ffc8bf"/><stop offset="0.4759" stop-color="#ffbfb2"/><stop offset="0.4813" stop-color="#feb9a9"/><stop offset="0.492" stop-color="#feb3a0"/><stop offset="0.5027" stop-color="#feaf9b"/><stop offset="0.5187" stop-color="#feac96"/><stop offset="0.5561" stop-color="#feaf9b"/><stop offset="0.5722" stop-color="#feaf9b"/><stop offset="0.5829" stop-color="#feae99"/><stop offset="0.6043" stop-color="#fea78f"/><stop offset="0.6203" stop-color="#fea78f"/><stop offset="0.6417" stop-color="#fea48b"/><stop offset="0.6684" stop-color="#feaa94"/><stop offset="0.7059" stop-color="#feac96"/><stop offset="0.8342" stop-color="#feb9aa"/><stop offset="0.8449" stop-color="#ffbdb0"/><stop offset="0.861" stop-color="#ffc7be"/><stop offset="0.8877" stop-color="#ffd2cc"/><stop offset="0.8984" stop-color="#ffd5d0"/><stop offset="0.9412" stop-color="#ffdbd8"/><stop offset="0.9626" stop-color="#ffe5e3"/><stop offset="0.9893" stop-color="#ffefed"/><stop offset="1" stop-color="#fff7f7"/></linearGradient>
<linearGradient id="r42" gradientUnits="userSpaceOnUse" x1="131.5" x2="879.5" y1="0" y2="0"><stop offset="0" stop-color="#ffe4e2"/><stop offset="0.03743" stop-color="#ffe1de"/><stop offset="0.06417" stop-color="#ffd8d4"/><stop offset="0.1016" stop-color="#ffd9d4"/><stop offset="0.1337" stop-color="#ffd5d0"/><stop offset="0.1444" stop-color="#ffd1cb"/><stop offset="0.1497" stop-color="#ffcec7"/><stop offset="0.1658" stop-color="#ffbfb2"/><stop offset="0.1711" stop-color="#febbac"/><stop offset="0.1818" stop-color="#feb7a6"/><stop offset="0.2246" stop-color="#feae98"/><stop offset="0.2888" stop-color="#feab94"/><stop offset="0.3529" stop-color="#feb6a5"/><stop offset="0.369" stop-color="#febaab"/><stop offset="0.3743" stop-color="#ffbeb0"/><stop offset="0.3797" stop-color="#ffc4ba"/><stop offset="0.385" stop-color="#ffcec7"/><stop offset="0.3957" stop-color="#ffdcd9"/><stop offset="0.4064" stop-color="#ffe4e2"/><stop offset="0.4118" stop-color="#ffe6e4"/><stop offset="0.4225" stop-color="#ffe2e0"/><stop offset="0.4385" stop-color="#ffd9d5"/><stop offset="0.4652" stop-color="#ffd0ca"/><stop offset="0.4706" stop-color="#ffcac3"/><stop offset="0.4759" stop-color="#ffc1b5"/><stop offset="0.4813" stop-color="#febaab"/><stop offset="0.492" stop-color="#feb4a2"/><stop offset="0.5027" stop-color="#feb19d"/><stop offset="0.5241" stop-color="#feae99"/><stop offset="0.5508" stop-color="#feb09c"/><stop offset="0.5722" stop-color="#feb09c"/><stop offset="0.5829" stop-color="#feae99"/><stop offset="0.5989" stop-color="#fea991"/><stop offset="0.6203" stop-color="#fea891"/><stop offset="0.6417" stop-color="#fea48b"/><stop offset="0.6684" stop-color="#feaa94"/><stop offset="0.7059" stop-color="#feac96"/><stop offset="0.8342" stop-color="#feb9aa"/><stop offset="0.8449" stop-color="#ffbeb1"/><stop offset="0.861" stop-color="#ffc8bf"/><stop offset="0.8877" stop-color="#ffd2cc"/><stop offset="0.8984" stop-color="#ffd5d0"/><stop offset="0.9412" stop-color="#ffdcd8"/><stop offset="0.9626" stop-color="#ffe6e4"/><stop offset="0.9893" stop-color="#ffefee"/><stop offset="1" stop-color="#fff8f7"/></linearGradient>
<linearGradient id="r43" gradientUnits="userSpaceOnUse" x1="131.5" x2="879.5" y1="0" y2="0"><stop offset="0" stop-color="#ffe4e2"/><stop offset="0.03743" stop-color="#ffe1de"/><stop offset="0.06417" stop-color="#ffd9d5"/><stop offset="0.1016" stop-color="#ffdad6"/><stop offset="0.1337" stop-color="#ffd6d1"/><stop offset="0.1497" stop-color="#ffcfc9"/><stop offset="0.1551" stop-color="#ffcbc4"/><stop offset="0.1711" stop-color="#ffbdaf"/><stop offset="0.1818" stop-color="#feb8a7"/><stop offset="0.2246" stop-color="#feaf9b"/><stop offset="0.2834" stop-color="#feac96"/><stop offset="0.2995" stop-color="#fead98"/><stop offset="0.3369" stop-color="#feb4a1"/><stop offset="0.3583" stop-color="#feb8a8"/><stop offset="0.369" stop-color="#ffbcad"/><stop offset="0.3743" stop-color="#ffbfb2"/><stop offset="0.385" stop-color="#ffcfc9"/><stop offset="0.3957" stop-color="#ffddd9"/><stop offset="0.4011" stop-color="#ffe1df"/><stop offset="0.4118" stop-color="#ffe6e4"/><stop offset="0.4225" stop-color="#ffe3e0"/><stop offset="0.4385" stop-color="#ffdad6"/><stop offset="0.4652" stop-color="#ffd2cd"/><stop offset="0.4706" stop-color="#ffcec7"/><stop offset="0.4813" stop-color="#ffbdaf"/><stop offset="0.4866" stop-color="#feb8a8"/><stop offset="0.4973" stop-color="#feb4a2"/><stop offset="0.5187" stop-color="#feb19d"/><stop offset="0.5775" stop-color="#feb09c"/><stop offset="0.5989" stop-color="#feaa94"/><stop offset="0.6203" stop-color="#feaa93"/><stop offset="0.6417" stop-color="#fea58c"/><stop offset="0.6684" stop-color="#feaa94"/><stop offset="0.7059" stop-color="#feac96"/><stop offset="0.7701" stop-color="#feb4a1"/><stop offset="0.8289" stop-color="#feb9a9"/><stop offset="0.8396" stop-color="#ffbcae"/><stop offset="0.8556" stop-color="#ffc6bd"/><stop offset="0.861" stop-color="#ffc8c0"/><stop offset="0.8877" stop-color="#ffd2cd"/><stop offset="0.8984" stop-color="#ffd5d0"/><stop offset="0.9412" stop-color="#ffdcd8"/><stop offset="0.9626" stop-color="#ffe6e4"/><stop offset="0.9893" stop-color="#ffefee"/><stop offset="1" stop-color="#fff8f7"/></linearGradient>
<linearGradient id="r44" gradientUnits="userSpaceOnUse" x1="131.5" x2="879.5" y1="0" y2="0"><stop offset="0" stop-color="#ffe4e2"/><stop offset="0.03743" stop-color="#ffe1df"/><stop offset="0.06417" stop-color="#ffdad6"/><stop offset="0.1016" stop-color="#ffdbd8"/><stop offset="0.1337" stop-color="#ffd6d1"/><stop offset="0.1444" stop-color="#ffd2cd"/><stop offset="0.1551" stop-color="#ffccc5"/><stop offset="0.1711" stop-color="#ffbeb0"/><stop offset="0.1818" stop-color="#feb8a8"/><stop offset="0.2299" stop-color="#feb09b"/><stop offset="0.2834" stop-color="#fead97"/><stop offset="0.3048" stop-color="#feaf9a"/><stop offset="0.3422" stop-color="#feb5a3"/><stop offset="0.369" stop-color="#ffbdaf"/><stop offset="0.3743" stop-color="#ffc0b4"/><stop offset="0.385" stop-color="#ffcfc9"/><stop offset="0.3957" stop-color="#ffddd9"/><stop offset="0.4011" stop-color="#ffe1df"/><stop offset="0.4118" stop-color="#ffe6e4"/><stop offset="0.4225" stop-color="#ffe3e1"/><stop offset="0.4439" stop-color="#ffd9d5"/><stop offset="0.4652" stop-color="#ffd3ce"/><stop offset="0.4706" stop-color="#ffcfc9"/><stop offset="0.4813" stop-color="#ffbeb1"/><stop offset="0.4866" stop-color="#feb9aa"/><stop offset="0.4973" stop-color="#feb5a3"/><stop offset="0.5187" stop-color="#feb29f"/><stop offset="0.5775" stop-color="#feb19d"/><stop offset="0.5989" stop-color="#feab95"/><stop offset="0.6203" stop-color="#feab94"/><stop offset="0.6417" stop-color="#fea58c"/><stop offset="0.6631" stop-color="#feaa93"/><stop offset="0.7059" stop-color="#feac96"/><stop offset="0.7701" stop-color="#feb4a1"/><stop offset="0.8289" stop-color="#feb9a9"/><stop offset="0.8396" stop-color="#ffbdaf"/><stop offset="0.8556" stop-color="#ffc7be"/><stop offset="0.8877" stop-color="#ffd2cd"/><stop offset="0.8984" stop-color="#ffd5d1"/><stop offset="0.9412" stop-color="#ffdcd8"/><stop offset="0.9626" stop-color="#ffe6e4"/><stop offset="0.9893" stop-color="#ffefee"/><stop offset="1" stop-color="#fff8f7"/></linearGradient>
<linearGradient id="r45" gradientUnits="userSpaceOnUse" x1="131.5" x2="879.5" y1="0" y2="0"><stop offset="0" stop-color="#ffe4e2"/><stop offset="0.03743" stop-color="#ffe2df"/><stop offset="0.06952" stop-color="#ffdad6"/><stop offset="0.09626" stop-color="#ffddda"/><stop offset="0.107" stop-color="#ffddd9"/><stop offset="0.139" stop-color="#ffd5d0"/><stop offset="0.1497" stop-color="#ffd1cb"/><stop offset="0.1604" stop-color="#ffc9c1"/><stop offset="0.1711" stop-color="#ffbfb3"/><stop offset="0.1765" stop-color="#ffbcae"/><stop offset="0.1872" stop-color="#feb8a8"/><stop offset="0.2353" stop-color="#feb09c"/><stop offset="0.2781" stop-color="#fead98"/><stop offset="0.3155" stop-color="#feb19d"/><stop offset="0.3422" stop-color="#feb6a4"/><stop offset="0.3529" stop-color="#feb9a9"/><stop offset="0.369" stop-color="#ffc0b3"/><stop offset="0.3743" stop-color="#ffc3b8"/><stop offset="0.3904" stop-color="#ffd7d2"/><stop offset="0.4011" stop-color="#ffe1df"/><stop offset="0.4118" stop-color="#ffe6e4"/><stop offset="0.4171" stop-color="#ffe5e3"/><stop offset="0.4385" stop-color="#ffdbd8"/><stop offset="0.4599" stop-color="#ffd6d1"/><stop offset="0.4706" stop-color="#ffd1cb"/><stop offset="0.4759" stop-color="#ffcbc3"/><stop offset="0.4813" stop-color="#ffc1b5"/><stop offset="0.4866" stop-color="#febbad"/><stop offset="0.4973" stop-color="#feb6a5"/><stop offset="0.5187" stop-color="#feb4a1"/><stop offset="0.5829" stop-color="#feb19d"/><stop offset="0.6043" stop-color="#fead98"/><stop offset="0.6203" stop-color="#feac96"/><stop offset="0.6417" stop-color="#fea68d"/><stop offset="0.6631" stop-color="#feaa93"/><stop offset="0.7059" stop-color="#feac96"/><stop offset="0.7701" stop-color="#feb4a1"/><stop offset="0.8289" stop-color="#feb9aa"/><stop offset="0.8342" stop-color="#febbac"/><stop offset="0.8503" stop-color="#ffc5bb"/><stop offset="0.861" stop-color="#ffc9c1"/><stop offset="0.893" stop-color="#ffd5cf"/><stop offset="0.9412" stop-color="#ffdcd9"/><stop offset="0.9626" stop-color="#ffe6e4"/><stop offset="0.9893" stop-color="#ffefee"/><stop offset="1" stop-color="#fff8f7"/></linearGradient>
<linearGradient id="r46" gradientUnits="userSpaceOnUse" x1="131.5" x2="879.5" y1="0" y2="0"><stop offset="0" stop-color="#ffe4e2"/><stop offset="0.03743" stop-color="#ffe2df"/><stop offset="0.06952" stop-color="#ffdad6"/><stop offset="0.09626" stop-color="#ffdedb"/><stop offset="0.107" stop-color="#ffdeda"/><stop offset="0.1497" stop-color="#ffd1cb"/><stop offset="0.1604" stop-color="#ffcac3"/><stop offset="0.1765" stop-color="#ffbdaf"/><stop offset="0.1872" stop-color="#feb9a9"/><stop offset="0.2353" stop-color="#feb09c"/><stop offset="0.2781" stop-color="#fead98"/><stop offset="0.3102" stop-color="#feb09c"/><stop offset="0.3476" stop-color="#feb8a7"/><stop offset="0.369" stop-color="#ffc2b6"/><stop offset="0.3743" stop-color="#ffc5bb"/><stop offset="0.3904" stop-color="#ffd7d3"/><stop offset="0.4011" stop-color="#ffe1df"/><stop offset="0.4118" stop-color="#ffe6e4"/><stop offset="0.4171" stop-color="#ffe5e3"/><stop offset="0.4439" stop-color="#ffdad6"/><stop offset="0.4599" stop-color="#ffd6d2"/><stop offset="0.4706" stop-color="#ffd2cc"/><stop offset="0.4759" stop-color="#ffccc6"/><stop offset="0.4813" stop-color="#ffc3b8"/><stop offset="0.4866" stop-color="#ffbcae"/><stop offset="0.4973" stop-color="#feb7a7"/><stop offset="0.5187" stop-color="#feb4a2"/><stop offset="0.5829" stop-color="#feb29e"/><stop offset="0.6203" stop-color="#fead97"/><stop offset="0.6417" stop-color="#fea68e"/><stop offset="0.6631" stop-color="#feaa93"/><stop offset="0.7059" stop-color="#feac96"/><stop offset="0.7701" stop-color="#feb4a2"/><stop offset="0.8289" stop-color="#feb9aa"/><stop offset="0.8396" stop-color="#ffbeb1"/><stop offset="0.8503" stop-color="#ffc5bc"/><stop offset="0.861" stop-color="#ffc9c2"/><stop offset="0.893" stop-color="#ffd5d0"/><stop offset="0.9305" stop-color="#ffdad5"/><stop offset="0.9412" stop-color="#ffdcd9"/><stop offset="0.9626" stop-color="#ffe6e5"/><stop offset="0.9893" stop-color="#ffefee"/><stop offset="1" stop-color="#fff8f7"/></linearGradient>
<linearGradient id="r47" gradientUnits="userSpaceOnUse" x1="131.5" x2="879.5" y1="0" y2="0"><stop offset="0" stop-color="#ffe4e2"/><stop offset="0.04278" stop-color="#ffe1df"/><stop offset="0.06952" stop-color="#ffdbd7"/><stop offset="0.09626" stop-color="#ffdfdc"/><stop offset="0.107" stop-color="#ffdfdb"/><stop offset="0.1497" stop-color="#ffd2cc"/><stop offset="0.1604" stop-color="#ffccc5"/><stop offset="0.1765" stop-color="#ffbfb2"/><stop offset="0.1872" stop-color="#febaac"/><stop offset="0.2353" stop-color="#feb19d"/><stop offset="0.2781" stop-color="#feae99"/><stop offset="0.3048" stop-color="#feb09c"/><stop offset="0.3422" stop-color="#feb7a6"/><stop offset="0.3476" stop-color="#feb9a9"/><stop offset="0.3743" stop-color="#ffc9c1"/><stop offset="0.4011" stop-color="#ffe1df"/><stop offset="0.4118" stop-color="#ffe6e4"/><stop offset="0.4171" stop-color="#ffe6e4"/><stop offset="0.4439" stop-color="#ffdad7"/><stop offset="0.4706" stop-color="#ffd3ce"/><stop offset="0.4759" stop-color="#ffcfc9"/><stop offset="0.4866" stop-color="#ffbfb2"/><stop offset="0.492" stop-color="#febbac"/><stop offset="0.4973" stop-color="#feb9a9"/><stop offset="0.5241" stop-color="#feb5a4"/><stop offset="0.5882" stop-color="#feb29f"/><stop offset="0.6203" stop-color="#feae99"/><stop offset="0.6417" stop-color="#fea78f"/><stop offset="0.6471" stop-color="#fea78f"/><stop offset="0.6631" stop-color="#feaa93"/><stop offset="0.7059" stop-color="#feac96"/><stop offset="0.7701" stop-color="#feb4a2"/><stop offset="0.8235" stop-color="#feb9a9"/><stop offset="0.8342" stop-color="#ffbcae"/><stop offset="0.8503" stop-color="#ffc6bd"/><stop offset="0.8556" stop-color="#ffc8c0"/><stop offset="0.893" stop-color="#ffd5d0"/><stop offset="0.9358" stop-color="#ffdbd7"/><stop offset="0.9626" stop-color="#ffe7e5"/><stop offset="0.984" stop-color="#ffedec"/><stop offset="1" stop-color="#fff8f8"/></linearGradient>
<linearGradient id="r48" gradientUnits="userSpaceOnUse" x1="131.5" x2="879.5" y1="0" y2="0"><stop offset="0" stop-color="#ffe4e2"/><stop offset="0.04278" stop-color="#ffe1df"/><stop offset="0.06952" stop-color="#ffdbd7"/><stop offset="0.09626" stop-color="#ffe0dd"/><stop offset="0.107" stop-color="#ffdfdc"/><stop offset="0.123" stop-color="#ffd9d5"/><stop offset="0.1497" stop-color="#ffd2cd"/><stop offset="0.1604" stop-color="#ffccc6"/><stop offset="0.1765" stop-color="#ffc0b4"/><stop offset="0.1872" stop-color="#ffbcae"/><stop offset="0.2299" stop-color="#feb29f"/><stop offset="0.2567" stop-color="#feaf9a"/><stop offset="0.2781" stop-color="#feae99"/><stop offset="0.3048" stop-color="#feb09c"/><stop offset="0.3422" stop-color="#feb7a7"/><stop offset="0.3476" stop-color="#feb9aa"/><stop offset="0.3797" stop-color="#ffcec7"/><stop offset="0.4011" stop-color="#ffe2df"/><stop offset="0.4118" stop-color="#ffe6e4"/><stop offset="0.4171" stop-color="#ffe6e4"/><stop offset="0.4278" stop-color="#ffe2e0"/><stop offset="0.4439" stop-color="#ffdbd7"/><stop offset="0.4706" stop-color="#ffd4cf"/><stop offset="0.4759" stop-color="#ffd1cb"/><stop offset="0.4813" stop-color="#ffcac2"/><stop offset="0.4866" stop-color="#ffc1b5"/><stop offset="0.492" stop-color="#ffbdaf"/><stop offset="0.4973" stop-color="#febaab"/><stop offset="0.5241" stop-color="#feb6a5"/><stop offset="0.5936" stop-color="#feb29f"/><stop offset="0.6203" stop-color="#feae99"/><stop offset="0.6417" stop-color="#fea78f"/><stop offset="0.6471" stop-color="#fea78f"/><stop offset="0.6631" stop-color="#feaa93"/><stop offset="0.7112" stop-color="#feac96"/><stop offset="0.7701" stop-color="#feb4a2"/><stop offset="0.8235" stop-color="#feb9a9"/><stop offset="0.8342" stop-color="#ffbcae"/><stop offset="0.8449" stop-color="#ffc4b9"/><stop offset="0.8556" stop-color="#ffc9c0"/><stop offset="0.893" stop-color="#ffd5d0"/><stop offset="0.9358" stop-color="#ffdbd7"/><stop offset="0.9626" stop-color="#ffe7e5"/><stop offset="0.984" stop-color="#ffedec"/><stop offset="1" stop-color="#fff8f8"/></linearGradient>
<linearGradient id="r49" gradientUnits="userSpaceOnUse" x1="131.5" x2="879.5" y1="0" y2="0"><stop offset="0" stop-color="#ffe4e2"/><stop offset="0.04278" stop-color="#ffe2df"/><stop offset="0.06952" stop-color="#ffdcd8"/><stop offset="0.09626" stop-color="#ffe0de"/><stop offset="0.107" stop-color="#ffdfdc"/><stop offset="0.123" stop-color="#ffdad5"/><stop offset="0.1497" stop-color="#ffd3ce"/><stop offset="0.1658" stop-color="#ffcac3"/><stop offset="0.1818" stop-color="#ffc1b5"/><stop offset="0.1979" stop-color="#ffbcae"/><stop offset="0.2139" stop-color="#feb6a5"/><stop offset="0.246" stop-color="#feb19d"/><stop offset="0.2781" stop-color="#feaf9a"/><stop offset="0.3102" stop-color="#feb19e"/><stop offset="0.3422" stop-color="#feb8a7"/><stop offset="0.3476" stop-color="#febaab"/><stop offset="0.3636" stop-color="#ffc6bc"/><stop offset="0.3797" stop-color="#ffcec8"/><stop offset="0.3957" stop-color="#ffdedb"/><stop offset="0.4011" stop-color="#ffe2df"/><stop offset="0.4118" stop-color="#ffe6e4"/><stop offset="0.4171" stop-color="#ffe6e4"/><stop offset="0.4278" stop-color="#ffe3e1"/><stop offset="0.4439" stop-color="#ffdcd8"/><stop offset="0.4652" stop-color="#ffd7d3"/><stop offset="0.4759" stop-color="#ffd3cd"/><stop offset="0.4813" stop-color="#ffcec8"/><stop offset="0.4866" stop-color="#ffc6bc"/><stop offset="0.492" stop-color="#ffc0b4"/><stop offset="0.5027" stop-color="#ffbcae"/><stop offset="0.5348" stop-color="#feb7a6"/><stop offset="0.5775" stop-color="#feb5a3"/><stop offset="0.5989" stop-color="#feb3a0"/><stop offset="0.6203" stop-color="#feaf9a"/><stop offset="0.6417" stop-color="#fea891"/><stop offset="0.6471" stop-color="#fea890"/><stop offset="0.6631" stop-color="#feaa94"/><stop offset="0.7112" stop-color="#feac96"/><stop offset="0.7701" stop-color="#feb4a2"/><stop offset="0.8235" stop-color="#feb9aa"/><stop offset="0.8289" stop-color="#febbac"/><stop offset="0.8449" stop-color="#ffc5bb"/><stop offset="0.8556" stop-color="#ffc9c1"/><stop offset="0.893" stop-color="#ffd5d0"/><stop offset="0.9358" stop-color="#ffdbd7"/><stop offset="0.9626" stop-color="#ffe7e5"/><stop offset="0.984" stop-color="#ffedec"/><stop offset="1" stop-color="#fff8f8"/></linearGradient>
<linearGradient id="r50" gradientUnits="userSpaceOnUse" x1="131.5" x2="879.5" y1="0" y2="0"><stop offset="0" stop-color="#ffe4e2"/><stop offset="0.04278" stop-color="#ffe2df"/><stop offset="0.06952" stop-color="#ffdcd9"/><stop offset="0.09091" stop-color="#ffe0dd"/><stop offset="0.107" stop-color="#ffdfdc"/><stop offset="0.123" stop-color="#ffdad6"/><stop offset="0.1497" stop-color="#ffd3ce"/><stop offset="0.1658" stop-color="#ffcbc4"/><stop offset="0.1765" stop-color="#ffc5bb"/><stop offset="0.1979" stop-color="#ffbeb1"/><stop offset="0.2086" stop-color="#feb9a9"/><stop offset="0.2193" stop-color="#feb5a3"/><stop offset="0.2513" stop-color="#feb09c"/><stop offset="0.2781" stop-color="#feaf9a"/><stop offset="0.3102" stop-color="#feb29e"/><stop offset="0.3422" stop-color="#feb8a8"/><stop offset="0.3476" stop-color="#febbac"/><stop offset="0.3636" stop-color="#ffc6bd"/><stop offset="0.3797" stop-color="#ffcfc9"/><stop offset="0.3957" stop-color="#ffdedb"/><stop offset="0.4011" stop-color="#ffe2df"/><stop offset="0.4118" stop-color="#ffe6e4"/><stop offset="0.4171" stop-color="#ffe6e4"/><stop offset="0.4278" stop-color="#ffe3e1"/><stop offset="0.4439" stop-color="#ffdcd8"/><stop offset="0.4652" stop-color="#ffd8d3"/><stop offset="0.4759" stop-color="#ffd4cf"/><stop offset="0.4813" stop-color="#ffd0ca"/><stop offset="0.492" stop-color="#ffc3b8"/><stop offset="0.5027" stop-color="#ffbfb2"/><stop offset="0.5348" stop-color="#feb8a8"/><stop offset="0.5775" stop-color="#feb6a4"/><stop offset="0.6043" stop-color="#feb29f"/><stop offset="0.6257" stop-color="#feae99"/><stop offset="0.6417" stop-color="#fea991"/><stop offset="0.6471" stop-color="#fea891"/><stop offset="0.6631" stop-color="#feaa94"/><stop offset="0.7112" stop-color="#feac96"/><stop offset="0.7701" stop-color="#feb4a2"/><stop offset="0.8235" stop-color="#feb9aa"/><stop offset="0.8342" stop-color="#ffbeb1"/><stop offset="0.8449" stop-color="#ffc5bb"/><stop offset="0.8556" stop-color="#ffc9c1"/><stop offset="0.8877" stop-color="#ffd4cf"/><stop offset="0.9358" stop-color="#ffdbd7"/><stop offset="0.9572" stop-color="#ffe5e3"/><stop offset="0.984" stop-color="#ffedec"/><stop offset="1" stop-color="#fff8f8"/></linearGradient>
<linearGradient id="r51" gradientUnits="userSpaceOnUse" x1="131.5" x2="879.5" y1="0" y2="0"><stop offset="0" stop-color="#ffe4e2"/><stop offset="0.04278" stop-color="#ffe2df"/><stop offset="0.06952" stop-color="#ffddd9"/><stop offset="0.09091" stop-color="#ffe1de"/><stop offset="0.107" stop-color="#ffe0dd"/><stop offset="0.123" stop-color="#ffdad6"/><stop offset="0.1444" stop-color="#ffd6d1"/><stop offset="0.1551" stop-color="#ffd2cc"/><stop offset="0.1765" stop-color="#ffc8bf"/><stop offset="0.1925" stop-color="#ffc3b8"/><stop offset="0.2139" stop-color="#feb7a7"/><stop offset="0.2193" stop-color="#feb6a4"/><stop offset="0.2513" stop-color="#feb19d"/><stop offset="0.2781" stop-color="#feaf9b"/><stop offset="0.3102" stop-color="#feb29f"/><stop offset="0.3316" stop-color="#feb6a4"/><stop offset="0.3422" stop-color="#feb9a9"/><stop offset="0.3636" stop-color="#ffc7be"/><stop offset="0.3797" stop-color="#ffcfc9"/><stop offset="0.3957" stop-color="#ffdedb"/><stop offset="0.4011" stop-color="#ffe2df"/><stop offset="0.4118" stop-color="#ffe6e4"/><stop offset="0.4171" stop-color="#ffe6e4"/><stop offset="0.4278" stop-color="#ffe3e1"/><stop offset="0.4492" stop-color="#ffdbd7"/><stop offset="0.4652" stop-color="#ffd9d5"/><stop offset="0.4759" stop-color="#ffd6d1"/><stop offset="0.4973" stop-color="#ffc8bf"/><stop offset="0.5294" stop-color="#ffbcad"/><stop offset="0.5508" stop-color="#feb8a8"/><stop offset="0.5829" stop-color="#feb7a7"/><stop offset="0.6203" stop-color="#feb09c"/><stop offset="0.6417" stop-color="#fea992"/><stop offset="0.6471" stop-color="#fea992"/><stop offset="0.6578" stop-color="#feab94"/><stop offset="0.7112" stop-color="#feac96"/><stop offset="0.7701" stop-color="#feb4a2"/><stop offset="0.8182" stop-color="#feb9a9"/><stop offset="0.8289" stop-color="#ffbcad"/><stop offset="0.8449" stop-color="#ffc6bd"/><stop offset="0.8503" stop-color="#ffc8c0"/><stop offset="0.8877" stop-color="#ffd5d0"/><stop offset="0.9358" stop-color="#ffdbd8"/><stop offset="0.9572" stop-color="#ffe5e3"/><stop offset="0.984" stop-color="#ffeeec"/><stop offset="1" stop-color="#fff8f8"/></linearGradient>
<linearGradient id="r52" gradientUnits="userSpaceOnUse" x1="131.5" x2="879.5" y1="0" y2="0"><stop offset="0" stop-color="#ffe4e2"/><stop offset="0.04278" stop-color="#ffe2df"/><stop offset="0.06952" stop-color="#ffddda"/><stop offset="0.09091" stop-color="#ffe1de"/><stop offset="0.107" stop-color="#ffe0dd"/><stop offset="0.123" stop-color="#ffdad6"/><stop offset="0.1551" stop-color="#ffd2cd"/><stop offset="0.1765" stop-color="#ffc9c0"/><stop offset="0.1925" stop-color="#ffc4b9"/><stop offset="0.2139" stop-color="#feb8a7"/><stop offset="0.2193" stop-color="#feb6a5"/><stop offset="0.2513" stop-color="#feb19d"/><stop offset="0.2781" stop-color="#feb09b"/><stop offset="0.3048" stop-color="#feb29e"/><stop offset="0.3369" stop-color="#feb7a6"/><stop offset="0.3476" stop-color="#ffbcae"/><stop offset="0.3636" stop-color="#ffc7bf"/><stop offset="0.3797" stop-color="#ffcfc9"/><stop offset="0.3957" stop-color="#ffdedb"/><stop offset="0.4011" stop-color="#ffe2e0"/><stop offset="0.4118" stop-color="#ffe6e4"/><stop offset="0.4171" stop-color="#ffe6e4"/><stop offset="0.4278" stop-color="#ffe4e2"/><stop offset="0.4492" stop-color="#ffdbd8"/><stop offset="0.4706" stop-color="#ffd9d5"/><stop offset="0.492" stop-color="#ffcec7"/><stop offset="0.508" stop-color="#ffc9c1"/><stop offset="0.5241" stop-color="#ffc0b3"/><stop offset="0.5348" stop-color="#ffbcae"/><stop offset="0.5508" stop-color="#feb9aa"/><stop offset="0.5829" stop-color="#feb9a9"/><stop offset="0.6203" stop-color="#feb19d"/><stop offset="0.6417" stop-color="#feaa93"/><stop offset="0.6471" stop-color="#feaa93"/><stop offset="0.7059" stop-color="#feac96"/><stop offset="0.7701" stop-color="#feb4a2"/><stop offset="0.8182" stop-color="#feb9a9"/><stop offset="0.8289" stop-color="#ffbcae"/><stop offset="0.8449" stop-color="#ffc6bd"/><stop offset="0.8503" stop-color="#ffc8c0"/><stop offset="0.8877" stop-color="#ffd5d0"/><stop offset="0.9358" stop-color="#ffdbd8"/><stop offset="0.9572" stop-color="#ffe5e3"/><stop offset="0.984" stop-color="#ffeeec"/><stop offset="1" stop-color="#fff8f8"/></linearGradient>
<linearGradient id="r53" gradientUnits="userSpaceOnUse" x1="131.5" x2="879.5" y1="0" y2="0"><stop offset="0" stop-color="#ffe4e2"/><stop offset="0.04813" stop-color="#ffe2df"/><stop offset="0.06952" stop-color="#ffdedb"/><stop offset="0.09091" stop-color="#ffe1de"/><stop offset="0.107" stop-color="#ffe0dd"/><stop offset="0.1283" stop-color="#ffd9d5"/><stop offset="0.1497" stop-color="#ffd5d0"/><stop offset="0.1711" stop-color="#ffccc5"/><stop offset="0.1925" stop-color="#ffc5bc"/><stop offset="0.2139" stop-color="#feb8a8"/><stop offset="0.2193" stop-color="#feb6a5"/><stop offset="0.2513" stop-color="#feb19e"/><stop offset="0.2781" stop-color="#feb09c"/><stop offset="0.3048" stop-color="#feb29f"/><stop offset="0.3369" stop-color="#feb8a7"/><stop offset="0.3476" stop-color="#ffbdaf"/><stop offset="0.3636" stop-color="#ffc8c0"/><stop offset="0.3797" stop-color="#ffd0ca"/><stop offset="0.3957" stop-color="#ffdfdc"/><stop offset="0.4064" stop-color="#ffe4e2"/><stop offset="0.4171" stop-color="#ffe6e4"/><stop offset="0.4278" stop-color="#ffe4e2"/><stop offset="0.4492" stop-color="#ffdcd9"/><stop offset="0.4652" stop-color="#ffdcd9"/><stop offset="0.492" stop-color="#ffd2cc"/><stop offset="0.5134" stop-color="#ffcec7"/><stop offset="0.5187" stop-color="#ffcbc4"/><stop offset="0.5294" stop-color="#ffc3b8"/><stop offset="0.5455" stop-color="#ffbdb0"/><stop offset="0.5561" stop-color="#ffbcae"/><stop offset="0.5775" stop-color="#ffbeb0"/><stop offset="0.6417" stop-color="#feab95"/><stop offset="0.6898" stop-color="#feab95"/><stop offset="0.7112" stop-color="#feac97"/><stop offset="0.7701" stop-color="#feb4a2"/><stop offset="0.8182" stop-color="#feb9a9"/><stop offset="0.8289" stop-color="#ffbdaf"/><stop offset="0.8396" stop-color="#ffc4ba"/><stop offset="0.8503" stop-color="#ffc9c1"/><stop offset="0.8877" stop-color="#ffd5d0"/><stop offset="0.9358" stop-color="#ffdcd8"/><stop offset="0.9572" stop-color="#ffe5e4"/><stop offset="0.984" stop-color="#ffeeed"/><stop offset="1" stop-color="#fff8f8"/></linearGradient>
<linearGradient id="r54" gradientUnits="userSpaceOnUse" x1="131.5" x2="879.5" y1="0" y2="0"><stop offset="0" stop-color="#ffe4e2"/><stop offset="0.04813" stop-color="#ffe2df"/><stop offset="0.06952" stop-color="#ffdfdc"/><stop offset="0.09091" stop-color="#ffe1de"/><stop offset="0.107" stop-color="#ffe0dd"/><stop offset="0.1283" stop-color="#ffd9d5"/><stop offset="0.1497" stop-color="#ffd5d0"/><stop offset="0.1711" stop-color="#ffccc5"/><stop offset="0.1925" stop-color="#ffc6bc"/><stop offset="0.2139" stop-color="#feb9a9"/><stop offset="0.2193" stop-color="#feb7a6"/><stop offset="0.2513" stop-color="#feb29e"/><stop offset="0.2781" stop-color="#feb09c"/><stop offset="0.3048" stop-color="#feb29f"/><stop offset="0.3369" stop-color="#feb8a8"/><stop offset="0.3476" stop-color="#ffbeb0"/><stop offset="0.3583" stop-color="#ffc6bc"/><stop offset="0.3797" stop-color="#ffd0ca"/><stop offset="0.3957" stop-color="#ffdfdc"/><stop offset="0.4064" stop-color="#ffe4e2"/><stop offset="0.4171" stop-color="#ffe6e4"/><stop offset="0.4278" stop-color="#ffe4e2"/><stop offset="0.4492" stop-color="#ffddda"/><stop offset="0.4652" stop-color="#ffddda"/><stop offset="0.492" stop-color="#ffd3ce"/><stop offset="0.5134" stop-color="#ffd0ca"/><stop offset="0.5187" stop-color="#ffcec7"/><stop offset="0.5348" stop-color="#ffc3b8"/><stop offset="0.5455" stop-color="#ffbfb3"/><stop offset="0.5561" stop-color="#ffbeb1"/><stop offset="0.5775" stop-color="#ffc0b4"/><stop offset="0.6043" stop-color="#feb6a5"/><stop offset="0.6417" stop-color="#feac97"/><stop offset="0.6898" stop-color="#feab95"/><stop offset="0.7166" stop-color="#fead98"/><stop offset="0.7701" stop-color="#feb4a2"/><stop offset="0.8182" stop-color="#feb9aa"/><stop offset="0.8289" stop-color="#ffbeb0"/><stop offset="0.8449" stop-color="#ffc7bf"/><stop offset="0.877" stop-color="#ffd2cd"/><stop offset="0.8877" stop-color="#ffd5d0"/><stop offset="0.9358" stop-color="#ffdcd8"/><stop offset="0.9572" stop-color="#ffe6e4"/><stop offset="0.984" stop-color="#ffeeed"/><stop offset="1" stop-color="#fff8f8"/></linearGradient>
<linearGradient id="r55" gradientUnits="userSpaceOnUse" x1="131.5" x2="879.5" y1="0" y2="0"><stop offset="0" stop-color="#ffe4e2"/><stop offset="0.06952" stop-color="#ffe0dd"/><stop offset="0.09091" stop-color="#ffe1df"/><stop offset="0.107" stop-color="#ffe0de"/><stop offset="0.1283" stop-color="#ffd9d5"/><stop offset="0.1551" stop-color="#ffd4cf"/><stop offset="0.1711" stop-color="#ffcdc6"/><stop offset="0.1925" stop-color="#ffc6bd"/><stop offset="0.2139" stop-color="#feb9a9"/><stop offset="0.2193" stop-color="#feb7a6"/><stop offset="0.2513" stop-color="#feb29f"/><stop offset="0.2834" stop-color="#feb19d"/><stop offset="0.3155" stop-color="#feb4a2"/><stop offset="0.3369" stop-color="#feb9a9"/><stop offset="0.3583" stop-color="#ffc7bd"/><stop offset="0.3797" stop-color="#ffd1cb"/><stop offset="0.3957" stop-color="#ffe0dd"/><stop offset="0.4064" stop-color="#ffe4e2"/><stop offset="0.4171" stop-color="#ffe6e4"/><stop offset="0.4278" stop-color="#ffe4e2"/><stop offset="0.4439" stop-color="#ffdfdc"/><stop offset="0.4652" stop-color="#ffdfdc"/><stop offset="0.4866" stop-color="#ffd7d2"/><stop offset="0.5134" stop-color="#ffd2cd"/><stop offset="0.5241" stop-color="#ffcec7"/><stop offset="0.5348" stop-color="#ffc7bf"/><stop offset="0.5508" stop-color="#ffc3b8"/><stop offset="0.5561" stop-color="#ffc3b8"/><stop offset="0.5722" stop-color="#ffc7be"/><stop offset="0.5775" stop-color="#ffc7be"/><stop offset="0.5829" stop-color="#ffc5bb"/><stop offset="0.6043" stop-color="#feb8a8"/><stop offset="0.6417" stop-color="#feae99"/><stop offset="0.6898" stop-color="#feac96"/><stop offset="0.7166" stop-color="#fead98"/><stop offset="0.8182" stop-color="#febaaa"/><stop offset="0.8235" stop-color="#febbad"/><stop offset="0.8396" stop-color="#ffc6bc"/><stop offset="0.8449" stop-color="#ffc8c0"/><stop offset="0.877" stop-color="#ffd3ce"/><stop offset="0.9358" stop-color="#ffdcd8"/><stop offset="0.9572" stop-color="#ffe6e4"/><stop offset="0.984" stop-color="#ffeeed"/><stop offset="1" stop-color="#fff8f8"/></linearGradient>
<linearGradient id="r56" gradientUnits="userSpaceOnUse" x1="131.5" x2="879.5" y1="0" y2="0"><stop offset="0" stop-color="#ffe4e2"/><stop offset="0.06417" stop-color="#ffe0de"/><stop offset="0.107" stop-color="#ffe0de"/><stop offset="0.1283" stop-color="#ffdad6"/><stop offset="0.1551" stop-color="#ffd4cf"/><stop offset="0.1711" stop-color="#ffcdc7"/><stop offset="0.1925" stop-color="#ffc7bd"/><stop offset="0.2139" stop-color="#feb9a9"/><stop offset="0.2193" stop-color="#feb7a7"/><stop offset="0.2513" stop-color="#feb29f"/><stop offset="0.2781" stop-color="#feb19d"/><stop offset="0.2995" stop-color="#feb29f"/><stop offset="0.3316" stop-color="#feb7a6"/><stop offset="0.3422" stop-color="#ffbcad"/><stop offset="0.3583" stop-color="#ffc7be"/><stop offset="0.3797" stop-color="#ffd1cb"/><stop offset="0.3957" stop-color="#ffe0dd"/><stop offset="0.4064" stop-color="#ffe4e3"/><stop offset="0.4171" stop-color="#ffe6e4"/><stop offset="0.4439" stop-color="#ffe0dd"/><stop offset="0.4652" stop-color="#ffe0dd"/><stop offset="0.4866" stop-color="#ffd7d3"/><stop offset="0.5187" stop-color="#ffd2cc"/><stop offset="0.5348" stop-color="#ffc9c1"/><stop offset="0.5455" stop-color="#ffc6bd"/><stop offset="0.5561" stop-color="#ffc5bc"/><stop offset="0.5722" stop-color="#ffcac3"/><stop offset="0.5775" stop-color="#ffcbc4"/><stop offset="0.5829" stop-color="#ffc8c0"/><stop offset="0.5989" stop-color="#ffbcae"/><stop offset="0.615" stop-color="#feb5a4"/><stop offset="0.6471" stop-color="#feae99"/><stop offset="0.6898" stop-color="#feac96"/><stop offset="0.7166" stop-color="#fead98"/><stop offset="0.8182" stop-color="#febaaa"/><stop offset="0.8235" stop-color="#ffbcae"/><stop offset="0.8396" stop-color="#ffc6bd"/><stop offset="0.8449" stop-color="#ffc8c0"/><stop offset="0.877" stop-color="#ffd3ce"/><stop offset="0.9358" stop-color="#ffdcd8"/><stop offset="0.9572" stop-color="#ffe6e4"/><stop offset="0.984" stop-color="#ffeeed"/><stop offset="1" stop-color="#fff9f8"/></linearGradient>
<linearGradient id="r57" gradientUnits="userSpaceOnUse" x1="131.5" x2="879.5" y1="0" y2="0"><stop offset="0" stop-color="#ffe4e2"/><stop offset="0.1016" stop-color="#ffe1de"/><stop offset="0.1123" stop-color="#ffe0dd"/><stop offset="0.1283" stop-color="#ffdad6"/><stop offset="0.1551" stop-color="#ffd5d0"/><stop offset="0.1925" stop-color="#ffc7be"/><stop offset="0.2139" stop-color="#feb9aa"/><stop offset="0.2193" stop-color="#feb7a7"/><stop offset="0.2513" stop-color="#feb3a0"/><stop offset="0.2781" stop-color="#feb19e"/><stop offset="0.3048" stop-color="#feb3a0"/><stop offset="0.3316" stop-color="#feb7a7"/><stop offset="0.3369" stop-color="#febaaa"/><stop offset="0.3583" stop-color="#ffc8bf"/><stop offset="0.3797" stop-color="#ffd1cb"/><stop offset="0.3957" stop-color="#ffe0dd"/><stop offset="0.4064" stop-color="#ffe5e3"/><stop offset="0.4171" stop-color="#ffe6e4"/><stop offset="0.4439" stop-color="#ffe1de"/><stop offset="0.4652" stop-color="#ffe1de"/><stop offset="0.4866" stop-color="#ffd8d4"/><stop offset="0.5134" stop-color="#ffd4cf"/><stop offset="0.5348" stop-color="#ffccc5"/><stop offset="0.5455" stop-color="#ffc9c2"/><stop offset="0.5561" stop-color="#ffcac3"/><stop offset="0.5722" stop-color="#ffcfc9"/><stop offset="0.5775" stop-color="#ffcfc9"/><stop offset="0.5829" stop-color="#ffcdc7"/><stop offset="0.5882" stop-color="#ffc9c1"/><stop offset="0.5989" stop-color="#ffbfb3"/><stop offset="0.6043" stop-color="#ffbcad"/><stop offset="0.6203" stop-color="#feb5a4"/><stop offset="0.6524" stop-color="#feaf9a"/><stop offset="0.6952" stop-color="#feac96"/><stop offset="0.7166" stop-color="#feae98"/><stop offset="0.8128" stop-color="#feb9a9"/><stop offset="0.8235" stop-color="#ffbdaf"/><stop offset="0.8396" stop-color="#ffc7be"/><stop offset="0.8717" stop-color="#ffd2cc"/><stop offset="0.8824" stop-color="#ffd5d0"/><stop offset="0.9251" stop-color="#ffdad5"/><stop offset="0.9358" stop-color="#ffdcd8"/><stop offset="0.9572" stop-color="#ffe6e4"/><stop offset="0.984" stop-color="#ffeeed"/><stop offset="1" stop-color="#fff9f8"/></linearGradient>
<linearGradient id="r58" gradientUnits="userSpaceOnUse" x1="131.5" x2="879.5" y1="0" y2="0"><stop offset="0" stop-color="#ffe4e2"/><stop offset="0.1123" stop-color="#ffe0dd"/><stop offset="0.1283" stop-color="#ffdad6"/><stop offset="0.1551" stop-color="#ffd5d0"/><stop offset="0.1925" stop-color="#ffc7be"/><stop offset="0.1979" stop-color="#ffc5bb"/><stop offset="0.2139" stop-color="#febaaa"/><stop offset="0.2193" stop-color="#feb8a7"/><stop offset="0.2513" stop-color="#feb3a0"/><stop offset="0.2781" stop-color="#feb19e"/><stop offset="0.3048" stop-color="#feb3a1"/><stop offset="0.3316" stop-color="#feb8a7"/><stop offset="0.3422" stop-color="#ffbdb0"/><stop offset="0.3529" stop-color="#ffc5bb"/><stop offset="0.3797" stop-color="#ffd1cc"/><stop offset="0.3957" stop-color="#ffe0dd"/><stop offset="0.4064" stop-color="#ffe5e3"/><stop offset="0.4171" stop-color="#ffe6e5"/><stop offset="0.4439" stop-color="#ffe2df"/><stop offset="0.4652" stop-color="#ffe1de"/><stop offset="0.4866" stop-color="#ffd9d5"/><stop offset="0.5134" stop-color="#ffd5cf"/><stop offset="0.5401" stop-color="#ffcbc4"/><stop offset="0.5508" stop-color="#ffcbc4"/><stop offset="0.5722" stop-color="#ffd1cb"/><stop offset="0.5775" stop-color="#ffd1cb"/><stop offset="0.5882" stop-color="#ffcbc4"/><stop offset="0.6043" stop-color="#ffbdb0"/><stop offset="0.6203" stop-color="#feb6a5"/><stop offset="0.6524" stop-color="#feaf9b"/><stop offset="0.6952" stop-color="#fead97"/><stop offset="0.7166" stop-color="#feae99"/><stop offset="0.8128" stop-color="#feb9a9"/><stop offset="0.8235" stop-color="#ffbdaf"/><stop offset="0.8396" stop-color="#ffc7bf"/><stop offset="0.8717" stop-color="#ffd2cd"/><stop offset="0.8824" stop-color="#ffd5d0"/><stop offset="0.9305" stop-color="#ffdbd7"/><stop offset="0.9572" stop-color="#ffe6e4"/><stop offset="0.984" stop-color="#ffeeed"/><stop offset="1" stop-color="#fff9f8"/></linearGradient>
<linearGradient id="r59" gradientUnits="userSpaceOnUse" x1="131.5" x2="879.5" y1="0" y2="0"><stop offset="0" stop-color="#ffe4e2"/><stop offset="0.1123" stop-color="#ffe0dd"/><stop offset="0.1337" stop-color="#ffd9d5"/><stop offset="0.1604" stop-color="#ffd4ce"/><stop offset="0.1925" stop-color="#ffc8bf"/><stop offset="0.1979" stop-color="#ffc5bb"/><stop offset="0.2139" stop-color="#febaab"/><stop offset="0.2193" stop-color="#feb8a8"/><stop offset="0.2513" stop-color="#feb3a1"/><stop offset="0.2781" stop-color="#feb29e"/><stop offset="0.3048" stop-color="#feb4a1"/><stop offset="0.3316" stop-color="#feb8a8"/><stop offset="0.3369" stop-color="#febbac"/><stop offset="0.3529" stop-color="#ffc6bd"/><stop offset="0.3743" stop-color="#ffcfc8"/><stop offset="0.3957" stop-color="#ffe0de"/><stop offset="0.4064" stop-color="#ffe5e3"/><stop offset="0.4171" stop-color="#ffe6e5"/><stop offset="0.4599" stop-color="#ffe2e0"/><stop offset="0.4706" stop-color="#ffe0dd"/><stop offset="0.4866" stop-color="#ffdad5"/><stop offset="0.5134" stop-color="#ffd5d0"/><stop offset="0.5401" stop-color="#ffccc6"/><stop offset="0.5508" stop-color="#ffcdc6"/><stop offset="0.5668" stop-color="#ffd2cc"/><stop offset="0.5775" stop-color="#ffd3cd"/><stop offset="0.5882" stop-color="#ffcec8"/><stop offset="0.6096" stop-color="#ffbeb0"/><stop offset="0.6257" stop-color="#feb6a5"/><stop offset="0.6578" stop-color="#feaf9b"/><stop offset="0.6952" stop-color="#fead98"/><stop offset="0.7219" stop-color="#feaf9a"/><stop offset="0.8128" stop-color="#febaaa"/><stop offset="0.8235" stop-color="#ffbeb1"/><stop offset="0.8396" stop-color="#ffc8c0"/><stop offset="0.8717" stop-color="#ffd3ce"/><stop offset="0.9305" stop-color="#ffdbd7"/><stop offset="0.9572" stop-color="#ffe6e4"/><stop offset="0.984" stop-color="#ffefed"/><stop offset="1" stop-color="#fff9f8"/></linearGradient>
<linearGradient id="r60" gradientUnits="userSpaceOnUse" x1="131.5" x2="879.5" y1="0" y2="0"><stop offset="0" stop-color="#ffe4e2"/><stop offset="0.1123" stop-color="#ffe0dd"/><stop offset="0.1337" stop-color="#ffd9d5"/><stop offset="0.1604" stop-color="#ffd4cf"/><stop offset="0.1925" stop-color="#ffc8bf"/><stop offset="0.1979" stop-color="#ffc5bc"/><stop offset="0.2139" stop-color="#febaab"/><stop offset="0.2193" stop-color="#feb8a8"/><stop offset="0.2513" stop-color="#feb3a1"/><stop offset="0.2781" stop-color="#feb29e"/><stop offset="0.3048" stop-color="#feb4a2"/><stop offset="0.3316" stop-color="#feb8a8"/><stop offset="0.3369" stop-color="#febbac"/><stop offset="0.3529" stop-color="#ffc6bd"/><stop offset="0.3743" stop-color="#ffcfc9"/><stop offset="0.3797" stop-color="#ffd2cd"/><stop offset="0.3904" stop-color="#ffddd9"/><stop offset="0.4011" stop-color="#ffe3e1"/><stop offset="0.4171" stop-color="#ffe6e5"/><stop offset="0.4599" stop-color="#ffe3e0"/><stop offset="0.4706" stop-color="#ffe1de"/><stop offset="0.4866" stop-color="#ffdad6"/><stop offset="0.5134" stop-color="#ffd5d0"/><stop offset="0.5401" stop-color="#ffcdc6"/><stop offset="0.5508" stop-color="#ffcec7"/><stop offset="0.5668" stop-color="#ffd3ce"/><stop offset="0.5775" stop-color="#ffd4ce"/><stop offset="0.5829" stop-color="#ffd2cd"/><stop offset="0.5936" stop-color="#ffccc5"/><stop offset="0.615" stop-color="#ffbcae"/><stop offset="0.631" stop-color="#feb5a3"/><stop offset="0.6631" stop-color="#feaf9b"/><stop offset="0.6952" stop-color="#fead98"/><stop offset="0.7219" stop-color="#feaf9a"/><stop offset="0.8128" stop-color="#febaaa"/><stop offset="0.8182" stop-color="#ffbcad"/><stop offset="0.8342" stop-color="#ffc6bd"/><stop offset="0.8396" stop-color="#ffc8c0"/><stop offset="0.8717" stop-color="#ffd3ce"/><stop offset="0.9305" stop-color="#ffdbd7"/><stop offset="0.9572" stop-color="#ffe6e4"/><stop offset="0.984" stop-color="#ffefed"/><stop offset="1" stop-color="#fff9f8"/></linearGradient>
<linearGradient id="r61" gradientUnits="userSpaceOnUse" x1="131.5" x2="879.5" y1="0" y2="0"><stop offset="0" stop-color="#ffe4e2"/><stop offset="0.1123" stop-color="#ffe0de"/><stop offset="0.1337" stop-color="#ffdad5"/><stop offset="0.1604" stop-color="#ffd4cf"/><stop offset="0.1925" stop-color="#ffc8c0"/><stop offset="0.1979" stop-color="#ffc6bc"/><stop offset="0.2139" stop-color="#febbac"/><stop offset="0.2193" stop-color="#feb9a9"/><stop offset="0.246" stop-color="#feb5a3"/><stop offset="0.2781" stop-color="#feb29f"/><stop offset="0.3155" stop-color="#feb6a5"/><stop offset="0.3316" stop-color="#feb9aa"/><stop offset="0.3369" stop-color="#ffbcad"/><stop offset="0.3529" stop-color="#ffc7bf"/><stop offset="0.3743" stop-color="#ffcfc9"/><stop offset="0.3797" stop-color="#ffd3cd"/><stop offset="0.3904" stop-color="#ffddda"/><stop offset="0.4011" stop-color="#ffe3e1"/><stop offset="0.4171" stop-color="#ffe6e5"/><stop offset="0.4599" stop-color="#ffe3e1"/><stop offset="0.4706" stop-color="#ffe1df"/><stop offset="0.492" stop-color="#ffd9d5"/><stop offset="0.5134" stop-color="#ffd6d1"/><stop offset="0.5401" stop-color="#ffcec8"/><stop offset="0.5508" stop-color="#ffd0ca"/><stop offset="0.5668" stop-color="#ffd5d0"/><stop offset="0.5775" stop-color="#ffd6d1"/><stop offset="0.5882" stop-color="#ffd2cc"/><stop offset="0.5989" stop-color="#ffcbc5"/><stop offset="0.6203" stop-color="#ffbcad"/><stop offset="0.631" stop-color="#feb6a5"/><stop offset="0.6631" stop-color="#feb09c"/><stop offset="0.7005" stop-color="#feae99"/><stop offset="0.7219" stop-color="#feb09b"/><stop offset="0.8075" stop-color="#feb9aa"/><stop offset="0.8182" stop-color="#ffbdaf"/><stop offset="0.8342" stop-color="#ffc7be"/><stop offset="0.8663" stop-color="#ffd2cd"/><stop offset="0.877" stop-color="#ffd5d0"/><stop offset="0.9305" stop-color="#ffdbd7"/><stop offset="0.9572" stop-color="#ffe6e4"/><stop offset="0.9786" stop-color="#ffeceb"/><stop offset="1" stop-color="#fff9f8"/></linearGradient>
<linearGradient id="r62" gradientUnits="userSpaceOnUse" x1="131.5" x2="879.5" y1="0" y2="0"><stop offset="0" stop-color="#ffe4e2"/><stop offset="0.1123" stop-color="#ffe0de"/><stop offset="0.1337" stop-color="#ffdad6"/><stop offset="0.1604" stop-color="#ffd4cf"/><stop offset="0.1925" stop-color="#ffc8c0"/><stop offset="0.1979" stop-color="#ffc6bd"/><stop offset="0.2139" stop-color="#febbad"/><stop offset="0.2193" stop-color="#feb9a9"/><stop offset="0.246" stop-color="#feb5a3"/><stop offset="0.2781" stop-color="#feb29f"/><stop offset="0.3155" stop-color="#feb6a5"/><stop offset="0.3316" stop-color="#febaaa"/><stop offset="0.3369" stop-color="#ffbcae"/><stop offset="0.3529" stop-color="#ffc8bf"/><stop offset="0.3743" stop-color="#ffd0ca"/><stop offset="0.3904" stop-color="#ffddda"/><stop offset="0.4011" stop-color="#ffe3e1"/><stop offset="0.4171" stop-color="#ffe6e5"/><stop offset="0.4599" stop-color="#ffe3e1"/><stop offset="0.4706" stop-color="#ffe1df"/><stop offset="0.492" stop-color="#ffdad5"/><stop offset="0.5187" stop-color="#ffd5d0"/><stop offset="0.5348" stop-color="#ffcfc9"/><stop offset="0.5455" stop-color="#ffcfc9"/><stop offset="0.5722" stop-color="#ffd7d2"/><stop offset="0.5829" stop-color="#ffd5d1"/><stop offset="0.5989" stop-color="#ffcdc6"/><stop offset="0.6257" stop-color="#febaab"/><stop offset="0.6364" stop-color="#feb5a4"/><stop offset="0.6684" stop-color="#feb09c"/><stop offset="0.7005" stop-color="#feaf9a"/><stop offset="0.7273" stop-color="#feb09c"/><stop offset="0.8075" stop-color="#feb9aa"/><stop offset="0.8182" stop-color="#ffbdb0"/><stop offset="0.8342" stop-color="#ffc8bf"/><stop offset="0.8663" stop-color="#ffd3cd"/><stop offset="0.877" stop-color="#ffd5d0"/><stop offset="0.9305" stop-color="#ffdbd7"/><stop offset="0.9572" stop-color="#ffe6e4"/><stop offset="0.9786" stop-color="#ffedeb"/><stop offset="1" stop-color="#fff9f8"/></linearGradient>
<linearGradient id="r63" gradientUnits="userSpaceOnUse" x1="131.5" x2="879.5" y1="0" y2="0"><stop offset="0" stop-color="#ffe4e2"/><stop offset="0.1123" stop-color="#ffe1de"/><stop offset="0.1337" stop-color="#ffdad6"/><stop offset="0.1604" stop-color="#ffd5d0"/><stop offset="0.1925" stop-color="#ffc9c1"/><stop offset="0.2032" stop-color="#ffc4b9"/><stop offset="0.2139" stop-color="#ffbcae"/><stop offset="0.2246" stop-color="#feb8a8"/><stop offset="0.2781" stop-color="#feb3a0"/><stop offset="0.3262" stop-color="#feb9a9"/><stop offset="0.3369" stop-color="#ffbeb0"/><stop offset="0.3529" stop-color="#ffc9c1"/><stop offset="0.3743" stop-color="#ffd1cb"/><stop offset="0.3957" stop-color="#ffe1de"/><stop offset="0.4118" stop-color="#ffe6e4"/><stop offset="0.4225" stop-color="#ffe6e4"/><stop offset="0.4652" stop-color="#ffe3e1"/><stop offset="0.492" stop-color="#ffdad6"/><stop offset="0.5187" stop-color="#ffd6d1"/><stop offset="0.5348" stop-color="#ffd1cb"/><stop offset="0.5455" stop-color="#ffd1cc"/><stop offset="0.5668" stop-color="#ffd8d4"/><stop offset="0.5775" stop-color="#ffdad6"/><stop offset="0.5882" stop-color="#ffd6d1"/><stop offset="0.6043" stop-color="#ffcdc6"/><stop offset="0.6096" stop-color="#ffc9c1"/><stop offset="0.6257" stop-color="#ffbcae"/><stop offset="0.6364" stop-color="#feb7a6"/><stop offset="0.6684" stop-color="#feb19e"/><stop offset="0.7005" stop-color="#feaf9b"/><stop offset="0.7273" stop-color="#feb19d"/><stop offset="0.8075" stop-color="#febaab"/><stop offset="0.8182" stop-color="#ffbeb1"/><stop offset="0.8342" stop-color="#ffc9c0"/><stop offset="0.861" stop-color="#ffd2cc"/><stop offset="0.877" stop-color="#ffd6d1"/><stop offset="0.9305" stop-color="#ffdbd7"/><stop offset="0.9572" stop-color="#ffe6e4"/><stop offset="0.9786" stop-color="#ffedeb"/><stop offset="1" stop-color="#fff9f8"/></linearGradient>
<linearGradient id="r64" gradientUnits="userSpaceOnUse" x1="131.5" x2="879.5" y1="0" y2="0"><stop offset="0" stop-color="#ffe4e2"/><stop offset="0.1016" stop-color="#ffe1df"/><stop offset="0.1176" stop-color="#ffe0dd"/><stop offset="0.1337" stop-color="#ffdad6"/><stop offset="0.1604" stop-color="#ffd5d0"/><stop offset="0.1925" stop-color="#ffc9c1"/><stop offset="0.2032" stop-color="#ffc4ba"/><stop offset="0.2139" stop-color="#ffbcae"/><stop offset="0.2246" stop-color="#feb9a9"/><stop offset="0.2781" stop-color="#feb3a1"/><stop offset="0.3102" stop-color="#feb6a5"/><stop offset="0.3262" stop-color="#feb9aa"/><stop offset="0.3369" stop-color="#ffbeb1"/><stop offset="0.3529" stop-color="#ffcac2"/><stop offset="0.3743" stop-color="#ffd2cc"/><stop offset="0.3957" stop-color="#ffe1de"/><stop offset="0.4118" stop-color="#ffe6e4"/><stop offset="0.4225" stop-color="#ffe6e5"/><stop offset="0.4706" stop-color="#ffe2e0"/><stop offset="0.492" stop-color="#ffdbd7"/><stop offset="0.5187" stop-color="#ffd6d1"/><stop offset="0.5348" stop-color="#ffd2cc"/><stop offset="0.5455" stop-color="#ffd2cd"/><stop offset="0.5775" stop-color="#ffdbd8"/><stop offset="0.5882" stop-color="#ffd7d3"/><stop offset="0.6096" stop-color="#ffcbc4"/><stop offset="0.6257" stop-color="#ffbeb0"/><stop offset="0.6364" stop-color="#feb7a7"/><stop offset="0.6471" stop-color="#feb5a3"/><stop offset="0.6684" stop-color="#feb29e"/><stop offset="0.7059" stop-color="#feb09c"/><stop offset="0.7326" stop-color="#feb29f"/><stop offset="0.8075" stop-color="#febaab"/><stop offset="0.8182" stop-color="#ffbfb2"/><stop offset="0.8342" stop-color="#ffc9c1"/><stop offset="0.861" stop-color="#ffd2cd"/><stop offset="0.877" stop-color="#ffd6d1"/><stop offset="0.9305" stop-color="#ffdbd7"/><stop offset="0.9572" stop-color="#ffe6e5"/><stop offset="0.9786" stop-color="#ffedeb"/><stop offset="1" stop-color="#fff9f8"/></linearGradient>
<linearGradient id="r65" gradientUnits="userSpaceOnUse" x1="131.5" x2="879.5" y1="0" y2="0"><stop offset="0" stop-color="#ffe4e2"/><stop offset="0.1176" stop-color="#ffe0dd"/><stop offset="0.139" stop-color="#ffd9d5"/><stop offset="0.1604" stop-color="#ffd5d0"/><stop offset="0.1925" stop-color="#ffcac2"/><stop offset="0.2032" stop-color="#ffc5bb"/><stop offset="0.2139" stop-color="#ffbdb0"/><stop offset="0.2246" stop-color="#feb9aa"/><stop offset="0.2781" stop-color="#feb4a2"/><stop offset="0.3155" stop-color="#feb8a8"/><stop offset="0.3262" stop-color="#febaab"/><stop offset="0.3316" stop-color="#ffbdaf"/><stop offset="0.3476" stop-color="#ffc9c1"/><stop offset="0.3529" stop-color="#ffccc5"/><stop offset="0.3743" stop-color="#ffd4cf"/><stop offset="0.3957" stop-color="#ffe1df"/><stop offset="0.4118" stop-color="#ffe5e4"/><stop offset="0.4225" stop-color="#ffe6e5"/><stop offset="0.4706" stop-color="#ffe3e0"/><stop offset="0.4973" stop-color="#ffdad6"/><stop offset="0.5348" stop-color="#ffd3ce"/><stop offset="0.5508" stop-color="#ffd6d1"/><stop offset="0.5775" stop-color="#ffddda"/><stop offset="0.5882" stop-color="#ffdad6"/><stop offset="0.615" stop-color="#ffcac3"/><stop offset="0.631" stop-color="#ffbcae"/><stop offset="0.6417" stop-color="#feb7a6"/><stop offset="0.6738" stop-color="#feb29f"/><stop offset="0.7059" stop-color="#feb19d"/><stop offset="0.7273" stop-color="#feb29f"/><stop offset="0.8021" stop-color="#febaaa"/><stop offset="0.8128" stop-color="#ffbdaf"/><stop offset="0.8289" stop-color="#ffc8bf"/><stop offset="0.8342" stop-color="#ffcac3"/><stop offset="0.861" stop-color="#ffd3ce"/><stop offset="0.9305" stop-color="#ffdbd7"/><stop offset="0.9572" stop-color="#ffe6e5"/><stop offset="0.9786" stop-color="#ffedeb"/><stop offset="1" stop-color="#fff9f8"/></linearGradient>
<linearGradient id="r66" gradientUnits="userSpaceOnUse" x1="131.5" x2="879.5" y1="0" y2="0"><stop offset="0" stop-color="#ffe4e2"/><stop offset="0.1176" stop-color="#ffe0dd"/><stop offset="0.139" stop-color="#ffd9d5"/><stop offset="0.1604" stop-color="#ffd5d0"/><stop offset="0.1925" stop-color="#ffcac2"/><stop offset="0.2032" stop-color="#ffc5bb"/><stop offset="0.2139" stop-color="#ffbeb0"/><stop offset="0.2246" stop-color="#febaaa"/><stop offset="0.2781" stop-color="#feb5a3"/><stop offset="0.3155" stop-color="#feb8a8"/><stop offset="0.3262" stop-color="#febbac"/><stop offset="0.3316" stop-color="#ffbeb0"/><stop offset="0.3476" stop-color="#ffcac2"/><stop offset="0.3529" stop-color="#ffcdc6"/><stop offset="0.3743" stop-color="#ffd5d0"/><stop offset="0.3957" stop-color="#ffe1df"/><stop offset="0.4064" stop-color="#ffe4e3"/><stop offset="0.4225" stop-color="#ffe6e5"/><stop offset="0.4706" stop-color="#ffe3e1"/><stop offset="0.4973" stop-color="#ffdbd7"/><stop offset="0.5348" stop-color="#ffd4cf"/><stop offset="0.5508" stop-color="#ffd7d2"/><stop offset="0.5775" stop-color="#ffdedb"/><stop offset="0.5882" stop-color="#ffdbd7"/><stop offset="0.615" stop-color="#ffccc5"/><stop offset="0.631" stop-color="#ffbdaf"/><stop offset="0.6417" stop-color="#feb8a7"/><stop offset="0.6791" stop-color="#feb29f"/><stop offset="0.7166" stop-color="#feb29e"/><stop offset="0.8021" stop-color="#febaab"/><stop offset="0.8128" stop-color="#ffbeb0"/><stop offset="0.8289" stop-color="#ffc8c0"/><stop offset="0.8342" stop-color="#ffcbc4"/><stop offset="0.8556" stop-color="#ffd2cd"/><stop offset="0.8717" stop-color="#ffd6d1"/><stop offset="0.9305" stop-color="#ffdbd7"/><stop offset="0.9572" stop-color="#ffe6e5"/><stop offset="0.9786" stop-color="#ffedec"/><stop offset="1" stop-color="#fff9f8"/></linearGradient>
<linearGradient id="r67" gradientUnits="userSpaceOnUse" x1="131.5" x2="879.5" y1="0" y2="0"><stop offset="0" stop-color="#ffe4e2"/><stop offset="0.1176" stop-color="#ffe0de"/><stop offset="0.139" stop-color="#ffdad6"/><stop offset="0.1604" stop-color="#ffd6d1"/><stop offset="0.1925" stop-color="#ffcac3"/><stop offset="0.2032" stop-color="#ffc6bd"/><stop offset="0.2139" stop-color="#ffbfb2"/><stop offset="0.2246" stop-color="#febaab"/><stop offset="0.2781" stop-color="#feb6a5"/><stop offset="0.3102" stop-color="#feb8a8"/><stop offset="0.3209" stop-color="#febaab"/><stop offset="0.3316" stop-color="#ffc0b3"/><stop offset="0.3476" stop-color="#ffccc5"/><stop offset="0.3797" stop-color="#ffd9d4"/><stop offset="0.3957" stop-color="#ffe2df"/><stop offset="0.4064" stop-color="#ffe4e3"/><stop offset="0.4225" stop-color="#ffe6e5"/><stop offset="0.4706" stop-color="#ffe3e1"/><stop offset="0.4813" stop-color="#ffe1df"/><stop offset="0.5027" stop-color="#ffdbd7"/><stop offset="0.5348" stop-color="#ffd7d2"/><stop offset="0.5561" stop-color="#ffd9d5"/><stop offset="0.5775" stop-color="#ffdfdc"/><stop offset="0.5882" stop-color="#ffddd9"/><stop offset="0.615" stop-color="#ffcfc8"/><stop offset="0.6203" stop-color="#ffcbc4"/><stop offset="0.631" stop-color="#ffbfb2"/><stop offset="0.6417" stop-color="#feb9a9"/><stop offset="0.6524" stop-color="#feb6a5"/><stop offset="0.6791" stop-color="#feb3a1"/><stop offset="0.7219" stop-color="#feb3a0"/><stop offset="0.8021" stop-color="#febbac"/><stop offset="0.8128" stop-color="#ffbfb2"/><stop offset="0.8289" stop-color="#ffcac2"/><stop offset="0.8503" stop-color="#ffd2cc"/><stop offset="0.8663" stop-color="#ffd5d0"/><stop offset="0.9305" stop-color="#ffdbd7"/><stop offset="0.9572" stop-color="#ffe6e5"/><stop offset="0.9786" stop-color="#ffedec"/><stop offset="1" stop-color="#fff9f8"/></linearGradient>
<linearGradient id="r68" gradientUnits="userSpaceOnUse" x1="131.5" x2="879.5" y1="0" y2="0"><stop offset="0" stop-color="#ffe4e2"/><stop offset="0.1176" stop-color="#ffe0de"/><stop offset="0.139" stop-color="#ffdad6"/><stop offset="0.1604" stop-color="#ffd6d1"/><stop offset="0.1979" stop-color="#ffc9c1"/><stop offset="0.2032" stop-color="#ffc6bd"/><stop offset="0.2139" stop-color="#ffbfb2"/><stop offset="0.2246" stop-color="#febbac"/><stop offset="0.2781" stop-color="#feb6a5"/><stop offset="0.3102" stop-color="#feb9a9"/><stop offset="0.3209" stop-color="#febbac"/><stop offset="0.3316" stop-color="#ffc1b5"/><stop offset="0.3422" stop-color="#ffc9c2"/><stop offset="0.3529" stop-color="#ffd0ca"/><stop offset="0.3797" stop-color="#ffd9d5"/><stop offset="0.3957" stop-color="#ffe2df"/><stop offset="0.4064" stop-color="#ffe4e3"/><stop offset="0.4225" stop-color="#ffe6e5"/><stop offset="0.4706" stop-color="#ffe3e1"/><stop offset="0.4813" stop-color="#ffe2df"/><stop offset="0.508" stop-color="#ffdad6"/><stop offset="0.5348" stop-color="#ffd7d3"/><stop offset="0.5561" stop-color="#ffdad5"/><stop offset="0.5775" stop-color="#ffdfdc"/><stop offset="0.5882" stop-color="#ffddda"/><stop offset="0.615" stop-color="#ffd0ca"/><stop offset="0.6203" stop-color="#ffccc6"/><stop offset="0.631" stop-color="#ffc0b4"/><stop offset="0.6364" stop-color="#ffbcae"/><stop offset="0.6471" stop-color="#feb8a8"/><stop offset="0.6845" stop-color="#feb4a1"/><stop offset="0.7219" stop-color="#feb3a0"/><stop offset="0.8021" stop-color="#febbac"/><stop offset="0.8128" stop-color="#ffbfb3"/><stop offset="0.8289" stop-color="#ffcac3"/><stop offset="0.8503" stop-color="#ffd2cd"/><stop offset="0.8663" stop-color="#ffd6d1"/><stop offset="0.9305" stop-color="#ffdbd7"/><stop offset="0.9572" stop-color="#ffe6e5"/><stop offset="0.9786" stop-color="#ffedec"/><stop offset="1" stop-color="#fff9f8"/></linearGradient>
<linearGradient id="r69" gradientUnits="userSpaceOnUse" x1="131.5" x2="879.5" y1="0" y2="0"><stop offset="0" stop-color="#ffe4e2"/><stop offset="0.1176" stop-color="#ffe1de"/><stop offset="0.139" stop-color="#ffdad6"/><stop offset="0.1604" stop-color="#ffd6d1"/><stop offset="0.1979" stop-color="#ffc9c2"/><stop offset="0.2032" stop-color="#ffc7be"/><stop offset="0.2193" stop-color="#ffbdb0"/><stop offset="0.2246" stop-color="#febbad"/><stop offset="0.246" stop-color="#feb9a9"/><stop offset="0.2781" stop-color="#feb8a7"/><stop offset="0.3102" stop-color="#febaaa"/><stop offset="0.3209" stop-color="#ffbcae"/><stop offset="0.3262" stop-color="#ffbfb2"/><stop offset="0.3422" stop-color="#ffcbc4"/><stop offset="0.3529" stop-color="#ffd2cc"/><stop offset="0.3797" stop-color="#ffdad6"/><stop offset="0.3957" stop-color="#ffe2df"/><stop offset="0.4064" stop-color="#ffe4e3"/><stop offset="0.4278" stop-color="#ffe6e5"/><stop offset="0.4759" stop-color="#ffe3e1"/><stop offset="0.5134" stop-color="#ffdad6"/><stop offset="0.5294" stop-color="#ffd9d4"/><stop offset="0.5508" stop-color="#ffd9d5"/><stop offset="0.5722" stop-color="#ffdfdc"/><stop offset="0.5829" stop-color="#ffe0dd"/><stop offset="0.5936" stop-color="#ffdcd9"/><stop offset="0.6203" stop-color="#ffcfc9"/><stop offset="0.6257" stop-color="#ffcac2"/><stop offset="0.631" stop-color="#ffc3b8"/><stop offset="0.6364" stop-color="#ffbeb0"/><stop offset="0.6471" stop-color="#feb9a9"/><stop offset="0.6845" stop-color="#feb5a3"/><stop offset="0.7273" stop-color="#feb4a2"/><stop offset="0.8021" stop-color="#ffbcad"/><stop offset="0.8128" stop-color="#ffc1b4"/><stop offset="0.8289" stop-color="#ffccc5"/><stop offset="0.8449" stop-color="#ffd2cd"/><stop offset="0.861" stop-color="#ffd5d0"/><stop offset="0.9305" stop-color="#ffdbd7"/><stop offset="0.9572" stop-color="#ffe6e5"/><stop offset="0.9786" stop-color="#ffedec"/><stop offset="1" stop-color="#fff9f9"/></linearGradient>
<linearGradient id="r70" gradientUnits="userSpaceOnUse" x1="131.5" x2="879.5" y1="0" y2="0"><stop offset="0" stop-color="#ffe4e2"/><stop offset="0.1176" stop-color="#ffe1de"/><stop offset="0.1604" stop-color="#ffd6d1"/><stop offset="0.1979" stop-color="#ffcac2"/><stop offset="0.2032" stop-color="#ffc8bf"/><stop offset="0.2193" stop-color="#ffbeb0"/><stop offset="0.2246" stop-color="#ffbcad"/><stop offset="0.246" stop-color="#feb9aa"/><stop offset="0.2781" stop-color="#feb8a8"/><stop offset="0.3155" stop-color="#febbac"/><stop offset="0.3262" stop-color="#ffbfb3"/><stop offset="0.3422" stop-color="#ffccc5"/><stop offset="0.3529" stop-color="#ffd2cd"/><stop offset="0.3797" stop-color="#ffdad6"/><stop offset="0.3957" stop-color="#ffe2df"/><stop offset="0.4064" stop-color="#ffe4e3"/><stop offset="0.4278" stop-color="#ffe6e5"/><stop offset="0.4759" stop-color="#ffe3e1"/><stop offset="0.492" stop-color="#ffe1de"/><stop offset="0.5134" stop-color="#ffdbd7"/><stop offset="0.5294" stop-color="#ffd9d5"/><stop offset="0.5508" stop-color="#ffdad6"/><stop offset="0.5722" stop-color="#ffe0dd"/><stop offset="0.5829" stop-color="#ffe0dd"/><stop offset="0.5936" stop-color="#ffddda"/><stop offset="0.6203" stop-color="#ffd0ca"/><stop offset="0.6257" stop-color="#ffcbc5"/><stop offset="0.631" stop-color="#ffc4ba"/><stop offset="0.6364" stop-color="#ffbfb2"/><stop offset="0.6471" stop-color="#febaaa"/><stop offset="0.6845" stop-color="#feb5a4"/><stop offset="0.7273" stop-color="#feb5a3"/><stop offset="0.7487" stop-color="#feb6a5"/><stop offset="0.8021" stop-color="#ffbcae"/><stop offset="0.8128" stop-color="#ffc1b6"/><stop offset="0.8235" stop-color="#ffcac2"/><stop offset="0.8396" stop-color="#ffd1cb"/><stop offset="0.861" stop-color="#ffd6d1"/><stop offset="0.9305" stop-color="#ffdbd7"/><stop offset="0.9572" stop-color="#ffe6e5"/><stop offset="0.9786" stop-color="#ffedec"/><stop offset="1" stop-color="#fff9f9"/></linearGradient>
<linearGradient id="r71" gradientUnits="userSpaceOnUse" x1="131.5" x2="879.5" y1="0" y2="0"><stop offset="0" stop-color="#ffe4e2"/><stop offset="0.123" stop-color="#ffe0dd"/><stop offset="0.1444" stop-color="#ffd9d5"/><stop offset="0.1658" stop-color="#ffd5d0"/><stop offset="0.1818" stop-color="#ffcec8"/><stop offset="0.1979" stop-color="#ffcac3"/><stop offset="0.2032" stop-color="#ffc8c0"/><stop offset="0.2193" stop-color="#ffbfb2"/><stop offset="0.2246" stop-color="#ffbdaf"/><stop offset="0.2353" stop-color="#febbac"/><stop offset="0.2727" stop-color="#feb9aa"/><stop offset="0.2995" stop-color="#febaab"/><stop offset="0.3155" stop-color="#ffbcae"/><stop offset="0.3262" stop-color="#ffc1b5"/><stop offset="0.3369" stop-color="#ffcac2"/><stop offset="0.3476" stop-color="#ffd1cb"/><stop offset="0.3583" stop-color="#ffd5d0"/><stop offset="0.3797" stop-color="#ffdbd7"/><stop offset="0.3957" stop-color="#ffe2e0"/><stop offset="0.4064" stop-color="#ffe4e3"/><stop offset="0.4278" stop-color="#ffe6e5"/><stop offset="0.4813" stop-color="#ffe3e1"/><stop offset="0.4973" stop-color="#ffe1de"/><stop offset="0.5187" stop-color="#ffdbd7"/><stop offset="0.5294" stop-color="#ffdad6"/><stop offset="0.5508" stop-color="#ffdbd7"/><stop offset="0.5722" stop-color="#ffe0dd"/><stop offset="0.5829" stop-color="#ffe0de"/><stop offset="0.5989" stop-color="#ffdcd9"/><stop offset="0.6203" stop-color="#ffd2cd"/><stop offset="0.6257" stop-color="#ffcec7"/><stop offset="0.6364" stop-color="#ffc1b5"/><stop offset="0.6471" stop-color="#febbad"/><stop offset="0.6845" stop-color="#feb7a6"/><stop offset="0.738" stop-color="#feb6a5"/><stop offset="0.8021" stop-color="#ffbdaf"/><stop offset="0.8128" stop-color="#ffc2b7"/><stop offset="0.8235" stop-color="#ffcbc4"/><stop offset="0.8342" stop-color="#ffd1cb"/><stop offset="0.8449" stop-color="#ffd4cf"/><stop offset="0.9305" stop-color="#ffdbd7"/><stop offset="0.9572" stop-color="#ffe7e5"/><stop offset="0.9786" stop-color="#ffedec"/><stop offset="1" stop-color="#fff9f9"/></linearGradient>
<linearGradient id="r72" gradientUnits="userSpaceOnUse" x1="131.5" x2="879.5" y1="0" y2="0"><stop offset="0" stop-color="#ffe4e2"/><stop offset="0.123" stop-color="#ffe0dd"/><stop offset="0.1444" stop-color="#ffdad6"/><stop offset="0.1658" stop-color="#ffd5d0"/><stop offset="0.1818" stop-color="#ffcfc8"/><stop offset="0.1979" stop-color="#ffcbc4"/><stop offset="0.2032" stop-color="#ffc9c1"/><stop offset="0.2246" stop-color="#ffbdaf"/><stop offset="0.2353" stop-color="#febbad"/><stop offset="0.2727" stop-color="#febaaa"/><stop offset="0.2995" stop-color="#febaab"/><stop offset="0.3155" stop-color="#ffbcae"/><stop offset="0.3262" stop-color="#ffc2b6"/><stop offset="0.3369" stop-color="#ffcbc4"/><stop offset="0.3476" stop-color="#ffd1cc"/><stop offset="0.3583" stop-color="#ffd6d1"/><stop offset="0.3797" stop-color="#ffdbd7"/><stop offset="0.3957" stop-color="#ffe2e0"/><stop offset="0.4064" stop-color="#ffe4e3"/><stop offset="0.4278" stop-color="#ffe7e5"/><stop offset="0.4866" stop-color="#ffe3e1"/><stop offset="0.4973" stop-color="#ffe1df"/><stop offset="0.5187" stop-color="#ffdbd7"/><stop offset="0.5294" stop-color="#ffdad6"/><stop offset="0.5508" stop-color="#ffdbd7"/><stop offset="0.5722" stop-color="#ffe0de"/><stop offset="0.5829" stop-color="#ffe1de"/><stop offset="0.5989" stop-color="#ffddda"/><stop offset="0.6203" stop-color="#ffd3ce"/><stop offset="0.6257" stop-color="#ffcfc9"/><stop offset="0.6364" stop-color="#ffc3b8"/><stop offset="0.6417" stop-color="#ffbfb2"/><stop offset="0.6524" stop-color="#febbac"/><stop offset="0.6898" stop-color="#feb7a6"/><stop offset="0.7433" stop-color="#feb7a6"/><stop offset="0.8021" stop-color="#ffbdb0"/><stop offset="0.8128" stop-color="#ffc3b8"/><stop offset="0.8235" stop-color="#ffccc5"/><stop offset="0.8396" stop-color="#ffd3ce"/><stop offset="0.9305" stop-color="#ffdbd7"/><stop offset="0.9572" stop-color="#ffe7e5"/><stop offset="0.9786" stop-color="#ffeeec"/><stop offset="1" stop-color="#fff9f9"/></linearGradient>
<linearGradient id="r73" gradientUnits="userSpaceOnUse" x1="131.5" x2="879.5" y1="0" y2="0"><stop offset="0" stop-color="#ffe4e2"/><stop offset="0.123" stop-color="#ffe0de"/><stop offset="0.1444" stop-color="#ffdad6"/><stop offset="0.1658" stop-color="#ffd5d1"/><stop offset="0.1818" stop-color="#ffcfc9"/><stop offset="0.2032" stop-color="#ffcac2"/><stop offset="0.2193" stop-color="#ffc1b4"/><stop offset="0.2299" stop-color="#ffbdaf"/><stop offset="0.2727" stop-color="#febbac"/><stop offset="0.3048" stop-color="#ffbcad"/><stop offset="0.3155" stop-color="#ffbeb0"/><stop offset="0.3209" stop-color="#ffc0b4"/><stop offset="0.3369" stop-color="#ffccc5"/><stop offset="0.3476" stop-color="#ffd2cd"/><stop offset="0.3743" stop-color="#ffdad6"/><stop offset="0.3957" stop-color="#ffe2e0"/><stop offset="0.4064" stop-color="#ffe5e3"/><stop offset="0.4278" stop-color="#ffe7e5"/><stop offset="0.492" stop-color="#ffe3e1"/><stop offset="0.5187" stop-color="#ffdcd8"/><stop offset="0.5348" stop-color="#ffdad6"/><stop offset="0.5508" stop-color="#ffdbd8"/><stop offset="0.5722" stop-color="#ffe1de"/><stop offset="0.5829" stop-color="#ffe1df"/><stop offset="0.5989" stop-color="#ffdedb"/><stop offset="0.6203" stop-color="#ffd4cf"/><stop offset="0.631" stop-color="#ffccc6"/><stop offset="0.6417" stop-color="#ffc1b6"/><stop offset="0.6524" stop-color="#ffbeb0"/><stop offset="0.6898" stop-color="#feb8a8"/><stop offset="0.7487" stop-color="#feb8a7"/><stop offset="0.8021" stop-color="#ffbeb1"/><stop offset="0.8075" stop-color="#ffc0b4"/><stop offset="0.8235" stop-color="#ffcdc7"/><stop offset="0.8289" stop-color="#ffd1cb"/><stop offset="0.8396" stop-color="#ffd4cf"/><stop offset="0.9198" stop-color="#ffdad6"/><stop offset="0.9358" stop-color="#ffddd9"/><stop offset="0.9572" stop-color="#ffe7e5"/><stop offset="0.9786" stop-color="#ffeeec"/><stop offset="1" stop-color="#fff9f9"/></linearGradient>
<linearGradient id="r74" gradientUnits="userSpaceOnUse" x1="131.5" x2="879.5" y1="0" y2="0"><stop offset="0" stop-color="#ffe4e2"/><stop offset="0.123" stop-color="#ffe1de"/><stop offset="0.1658" stop-color="#ffd6d1"/><stop offset="0.1818" stop-color="#ffcfc9"/><stop offset="0.2032" stop-color="#ffcac3"/><stop offset="0.2193" stop-color="#ffc1b5"/><stop offset="0.2299" stop-color="#ffbdb0"/><stop offset="0.2727" stop-color="#febbad"/><stop offset="0.3048" stop-color="#ffbcae"/><stop offset="0.3155" stop-color="#ffbeb1"/><stop offset="0.3209" stop-color="#ffc1b5"/><stop offset="0.3369" stop-color="#ffcdc6"/><stop offset="0.3476" stop-color="#ffd3cd"/><stop offset="0.3743" stop-color="#ffdad6"/><stop offset="0.3957" stop-color="#ffe3e0"/><stop offset="0.4064" stop-color="#ffe5e3"/><stop offset="0.4278" stop-color="#ffe7e5"/><stop offset="0.492" stop-color="#ffe3e1"/><stop offset="0.5027" stop-color="#ffe2df"/><stop offset="0.5241" stop-color="#ffdbd8"/><stop offset="0.5348" stop-color="#ffdbd7"/><stop offset="0.5508" stop-color="#ffdcd8"/><stop offset="0.5722" stop-color="#ffe1de"/><stop offset="0.5829" stop-color="#ffe1df"/><stop offset="0.5989" stop-color="#ffdedb"/><stop offset="0.6203" stop-color="#ffd5d0"/><stop offset="0.631" stop-color="#ffcec7"/><stop offset="0.6417" stop-color="#ffc3b8"/><stop offset="0.6524" stop-color="#ffbfb3"/><stop offset="0.6791" stop-color="#febaab"/><stop offset="0.6898" stop-color="#feb9a9"/><stop offset="0.754" stop-color="#feb8a8"/><stop offset="0.8021" stop-color="#ffbeb1"/><stop offset="0.8075" stop-color="#ffc1b5"/><stop offset="0.8235" stop-color="#ffcec7"/><stop offset="0.8289" stop-color="#ffd1cb"/><stop offset="0.8396" stop-color="#ffd5cf"/><stop offset="0.9198" stop-color="#ffdad6"/><stop offset="0.9358" stop-color="#ffddd9"/><stop offset="0.9572" stop-color="#ffe7e5"/><stop offset="0.9786" stop-color="#ffeeec"/><stop offset="1" stop-color="#fff9f9"/></linearGradient>
<linearGradient id="r75" gradientUnits="userSpaceOnUse" x1="131.5" x2="879.5" y1="0" y2="0"><stop offset="0" stop-color="#ffe4e2"/><stop offset="0.123" stop-color="#ffe1de"/><stop offset="0.1658" stop-color="#ffd6d1"/><stop offset="0.1872" stop-color="#ffcec8"/><stop offset="0.2032" stop-color="#ffcbc4"/><stop offset="0.2246" stop-color="#ffc0b3"/><stop offset="0.2299" stop-color="#ffbeb1"/><stop offset="0.2727" stop-color="#ffbcae"/><stop offset="0.3102" stop-color="#ffbeb0"/><stop offset="0.3209" stop-color="#ffc2b7"/><stop offset="0.3316" stop-color="#ffcbc3"/><stop offset="0.3476" stop-color="#ffd4ce"/><stop offset="0.3743" stop-color="#ffdad6"/><stop offset="0.4011" stop-color="#ffe4e2"/><stop offset="0.4278" stop-color="#ffe7e5"/><stop offset="0.492" stop-color="#ffe3e1"/><stop offset="0.5027" stop-color="#ffe2e0"/><stop offset="0.5241" stop-color="#ffdcd8"/><stop offset="0.5348" stop-color="#ffdbd7"/><stop offset="0.5508" stop-color="#ffdcd9"/><stop offset="0.5722" stop-color="#ffe1df"/><stop offset="0.5829" stop-color="#ffe2df"/><stop offset="0.5989" stop-color="#ffdfdc"/><stop offset="0.6203" stop-color="#ffd6d1"/><stop offset="0.631" stop-color="#ffd0ca"/><stop offset="0.6471" stop-color="#ffc5bb"/><stop offset="0.6631" stop-color="#ffc1b5"/><stop offset="0.6791" stop-color="#febbad"/><stop offset="0.7005" stop-color="#febaaa"/><stop offset="0.754" stop-color="#febaaa"/><stop offset="0.8021" stop-color="#ffbfb2"/><stop offset="0.8075" stop-color="#ffc1b5"/><stop offset="0.8235" stop-color="#ffcfc8"/><stop offset="0.8289" stop-color="#ffd2cc"/><stop offset="0.8396" stop-color="#ffd5d0"/><stop offset="0.9198" stop-color="#ffdad6"/><stop offset="0.9358" stop-color="#ffddd9"/><stop offset="0.9572" stop-color="#ffe7e5"/><stop offset="0.9786" stop-color="#ffeeed"/><stop offset="1" stop-color="#fff9f9"/></linearGradient>
<linearGradient id="r76" gradientUnits="userSpaceOnUse" x1="131.5" x2="879.5" y1="0" y2="0"><stop offset="0" stop-color="#ffe4e2"/><stop offset="0.123" stop-color="#ffe1de"/><stop offset="0.1658" stop-color="#ffd6d1"/><stop offset="0.1872" stop-color="#ffcec8"/><stop offset="0.2032" stop-color="#ffcbc4"/><stop offset="0.2299" stop-color="#ffbfb2"/><stop offset="0.2727" stop-color="#ffbdaf"/><stop offset="0.3102" stop-color="#ffbeb1"/><stop offset="0.3209" stop-color="#ffc3b8"/><stop offset="0.3316" stop-color="#ffcbc4"/><stop offset="0.3476" stop-color="#ffd4cf"/><stop offset="0.3743" stop-color="#ffdad7"/><stop offset="0.3904" stop-color="#ffe1df"/><stop offset="0.4011" stop-color="#ffe4e2"/><stop offset="0.4278" stop-color="#ffe7e5"/><stop offset="0.4973" stop-color="#ffe3e1"/><stop offset="0.5241" stop-color="#ffdcd8"/><stop offset="0.5348" stop-color="#ffdbd7"/><stop offset="0.5455" stop-color="#ffdcd8"/><stop offset="0.5668" stop-color="#ffe1de"/><stop offset="0.5829" stop-color="#ffe2df"/><stop offset="0.5989" stop-color="#ffdfdc"/><stop offset="0.6203" stop-color="#ffd7d2"/><stop offset="0.631" stop-color="#ffd1cc"/><stop offset="0.6471" stop-color="#ffc7be"/><stop offset="0.6631" stop-color="#ffc3b8"/><stop offset="0.6791" stop-color="#ffbcae"/><stop offset="0.7005" stop-color="#febaab"/><stop offset="0.754" stop-color="#febaab"/><stop offset="0.8021" stop-color="#ffbfb2"/><stop offset="0.8075" stop-color="#ffc2b6"/><stop offset="0.8235" stop-color="#ffcfc9"/><stop offset="0.8342" stop-color="#ffd4cf"/><stop offset="0.9198" stop-color="#ffdad6"/><stop offset="0.9358" stop-color="#ffddd9"/><stop offset="0.9572" stop-color="#ffe7e5"/><stop offset="0.9786" stop-color="#ffeeed"/><stop offset="1" stop-color="#fff9f9"/></linearGradient>
<linearGradient id="r77" gradientUnits="userSpaceOnUse" x1="131.5" x2="879.5" y1="0" y2="0"><stop offset="0" stop-color="#ffe4e2"/><stop offset="0.123" stop-color="#ffe1de"/><stop offset="0.1658" stop-color="#ffd6d1"/><stop offset="0.1872" stop-color="#ffcfc8"/><stop offset="0.2086" stop-color="#ffcac3"/><stop offset="0.2299" stop-color="#ffc0b3"/><stop offset="0.2406" stop-color="#ffbeb1"/><stop offset="0.2727" stop-color="#ffbdb0"/><stop offset="0.2995" stop-color="#ffbeb1"/><stop offset="0.3102" stop-color="#ffbfb3"/><stop offset="0.3155" stop-color="#ffc1b6"/><stop offset="0.3316" stop-color="#ffccc6"/><stop offset="0.3422" stop-color="#ffd2cd"/><stop offset="0.3529" stop-color="#ffd6d2"/><stop offset="0.3743" stop-color="#ffdbd7"/><stop offset="0.3904" stop-color="#ffe2df"/><stop offset="0.4011" stop-color="#ffe4e2"/><stop offset="0.4332" stop-color="#ffe6e5"/><stop offset="0.4973" stop-color="#ffe3e1"/><stop offset="0.508" stop-color="#ffe2df"/><stop offset="0.5241" stop-color="#ffdcd9"/><stop offset="0.5348" stop-color="#ffdbd8"/><stop offset="0.5455" stop-color="#ffdcd9"/><stop offset="0.5668" stop-color="#ffe1df"/><stop offset="0.5829" stop-color="#ffe2e0"/><stop offset="0.5989" stop-color="#ffe0dd"/><stop offset="0.6257" stop-color="#ffd6d1"/><stop offset="0.6417" stop-color="#ffcdc7"/><stop offset="0.6631" stop-color="#ffc6bc"/><stop offset="0.6738" stop-color="#ffc0b4"/><stop offset="0.6845" stop-color="#ffbdaf"/><stop offset="0.7059" stop-color="#febbad"/><stop offset="0.7433" stop-color="#febbad"/><stop offset="0.7914" stop-color="#ffbeb1"/><stop offset="0.8021" stop-color="#ffc0b3"/><stop offset="0.8075" stop-color="#ffc2b7"/><stop offset="0.8235" stop-color="#ffd0ca"/><stop offset="0.8342" stop-color="#ffd5d0"/><stop offset="0.9305" stop-color="#ffdcd8"/><stop offset="0.9572" stop-color="#ffe7e5"/><stop offset="0.9733" stop-color="#ffecea"/><stop offset="1" stop-color="#fff9f9"/></linearGradient>
<linearGradient id="r78" gradientUnits="userSpaceOnUse" x1="131.5" x2="879.5" y1="0" y2="0"><stop offset="0" stop-color="#ffe4e2"/><stop offset="0.123" stop-color="#ffe1de"/><stop offset="0.1658" stop-color="#ffd6d2"/><stop offset="0.1872" stop-color="#ffcfc8"/><stop offset="0.2086" stop-color="#ffcbc4"/><stop offset="0.2246" stop-color="#ffc3b7"/><stop offset="0.2353" stop-color="#ffbfb3"/><stop offset="0.2727" stop-color="#ffbeb1"/><stop offset="0.2995" stop-color="#ffbeb1"/><stop offset="0.3102" stop-color="#ffc0b4"/><stop offset="0.3155" stop-color="#ffc2b7"/><stop offset="0.3316" stop-color="#ffcdc6"/><stop offset="0.3422" stop-color="#ffd3cd"/><stop offset="0.4011" stop-color="#ffe4e2"/><stop offset="0.4332" stop-color="#ffe7e5"/><stop offset="0.4973" stop-color="#ffe3e1"/><stop offset="0.508" stop-color="#ffe2df"/><stop offset="0.5241" stop-color="#ffddd9"/><stop offset="0.5348" stop-color="#ffdcd8"/><stop offset="0.5775" stop-color="#ffe3e1"/><stop offset="0.5989" stop-color="#ffe0dd"/><stop offset="0.6257" stop-color="#ffd6d2"/><stop offset="0.6471" stop-color="#ffccc5"/><stop offset="0.6631" stop-color="#ffc7be"/><stop offset="0.6738" stop-color="#ffc1b6"/><stop offset="0.6845" stop-color="#ffbdb0"/><stop offset="0.7005" stop-color="#ffbcae"/><stop offset="0.7433" stop-color="#ffbcae"/><stop offset="0.7914" stop-color="#ffbeb1"/><stop offset="0.8021" stop-color="#ffc0b4"/><stop offset="0.8075" stop-color="#ffc2b7"/><stop offset="0.8235" stop-color="#ffd0ca"/><stop offset="0.8342" stop-color="#ffd5d0"/><stop offset="0.9305" stop-color="#ffdcd8"/><stop offset="0.9572" stop-color="#ffe7e5"/><stop offset="0.9733" stop-color="#ffeceb"/><stop offset="1" stop-color="#fff9f9"/></linearGradient>
<linearGradient id="r79" gradientUnits="userSpaceOnUse" x1="131.5" x2="879.5" y1="0" y2="0"><stop offset="0" stop-color="#ffe4e2"/><stop offset="0.123" stop-color="#ffe1de"/><stop offset="0.1658" stop-color="#ffd7d2"/><stop offset="0.1872" stop-color="#ffcfc9"/><stop offset="0.2086" stop-color="#ffccc5"/><stop offset="0.2353" stop-color="#ffc0b4"/><stop offset="0.2727" stop-color="#ffbfb2"/><stop offset="0.2995" stop-color="#ffbfb2"/><stop offset="0.3102" stop-color="#ffc1b5"/><stop offset="0.3155" stop-color="#ffc3b9"/><stop offset="0.3262" stop-color="#ffcbc4"/><stop offset="0.3422" stop-color="#ffd4ce"/><stop offset="0.3743" stop-color="#ffdcd8"/><stop offset="0.3904" stop-color="#ffe2e0"/><stop offset="0.4011" stop-color="#ffe4e2"/><stop offset="0.4332" stop-color="#ffe7e5"/><stop offset="0.4973" stop-color="#ffe3e1"/><stop offset="0.5348" stop-color="#ffdcd8"/><stop offset="0.5775" stop-color="#ffe3e1"/><stop offset="0.5989" stop-color="#ffe1de"/><stop offset="0.6257" stop-color="#ffd7d3"/><stop offset="0.6471" stop-color="#ffcec8"/><stop offset="0.6631" stop-color="#ffc9c1"/><stop offset="0.6845" stop-color="#ffbfb2"/><stop offset="0.7005" stop-color="#ffbdaf"/><stop offset="0.738" stop-color="#ffbdaf"/><stop offset="0.7914" stop-color="#ffbfb2"/><stop offset="0.8021" stop-color="#ffc1b5"/><stop offset="0.8075" stop-color="#ffc3b8"/><stop offset="0.8235" stop-color="#ffd1cb"/><stop offset="0.8342" stop-color="#ffd5d0"/><stop offset="0.9305" stop-color="#ffdcd8"/><stop offset="0.9572" stop-color="#ffe7e5"/><stop offset="0.9733" stop-color="#ffeceb"/><stop offset="1" stop-color="#fff9f9"/></linearGradient>
<linearGradient id="r80" gradientUnits="userSpaceOnUse" x1="131.5" x2="879.5" y1="0" y2="0"><stop offset="0" stop-color="#ffe4e2"/><stop offset="0.123" stop-color="#ffe1de"/><stop offset="0.1658" stop-color="#ffd7d2"/><stop offset="0.1872" stop-color="#ffcfc9"/><stop offset="0.2139" stop-color="#ffcbc3"/><stop offset="0.2353" stop-color="#ffc1b5"/><stop offset="0.246" stop-color="#ffc0b3"/><stop offset="0.2727" stop-color="#ffbfb2"/><stop offset="0.3048" stop-color="#ffc0b4"/><stop offset="0.3155" stop-color="#ffc4ba"/><stop offset="0.3262" stop-color="#ffccc5"/><stop offset="0.3422" stop-color="#ffd4cf"/><stop offset="0.369" stop-color="#ffdad6"/><stop offset="0.3957" stop-color="#ffe3e1"/><stop offset="0.4332" stop-color="#ffe7e5"/><stop offset="0.4973" stop-color="#ffe3e1"/><stop offset="0.508" stop-color="#ffe2e0"/><stop offset="0.5241" stop-color="#ffddda"/><stop offset="0.5348" stop-color="#ffdcd8"/><stop offset="0.5668" stop-color="#ffe2e0"/><stop offset="0.5829" stop-color="#ffe3e1"/><stop offset="0.5989" stop-color="#ffe1de"/><stop offset="0.6257" stop-color="#ffd8d3"/><stop offset="0.6471" stop-color="#ffcfc8"/><stop offset="0.6631" stop-color="#ffcac3"/><stop offset="0.6791" stop-color="#ffc2b6"/><stop offset="0.6898" stop-color="#ffbfb2"/><stop offset="0.738" stop-color="#ffbeb0"/><stop offset="0.7914" stop-color="#ffbfb3"/><stop offset="0.8021" stop-color="#ffc1b5"/><stop offset="0.8075" stop-color="#ffc4b9"/><stop offset="0.8235" stop-color="#ffd1cc"/><stop offset="0.8342" stop-color="#ffd5d0"/><stop offset="0.9305" stop-color="#ffdcd8"/><stop offset="0.9572" stop-color="#ffe7e5"/><stop offset="0.9733" stop-color="#ffeceb"/><stop offset="1" stop-color="#fff9f9"/></linearGradient>
<linearGradient id="r81" gradientUnits="userSpaceOnUse" x1="131.5" x2="879.5" y1="0" y2="0"><stop offset="0" stop-color="#ffe4e2"/><stop offset="0.1283" stop-color="#ffe0de"/><stop offset="0.1658" stop-color="#ffd7d2"/><stop offset="0.1872" stop-color="#ffd0ca"/><stop offset="0.2139" stop-color="#ffccc5"/><stop offset="0.2406" stop-color="#ffc1b6"/><stop offset="0.2727" stop-color="#ffc0b4"/><stop offset="0.3048" stop-color="#ffc1b5"/><stop offset="0.3102" stop-color="#ffc3b8"/><stop offset="0.3262" stop-color="#ffcdc6"/><stop offset="0.3422" stop-color="#ffd5d0"/><stop offset="0.369" stop-color="#ffdbd7"/><stop offset="0.3957" stop-color="#ffe4e1"/><stop offset="0.4332" stop-color="#ffe7e5"/><stop offset="0.4973" stop-color="#ffe3e1"/><stop offset="0.508" stop-color="#ffe2e0"/><stop offset="0.5241" stop-color="#ffdeda"/><stop offset="0.5348" stop-color="#ffdcd8"/><stop offset="0.5615" stop-color="#ffe2df"/><stop offset="0.5829" stop-color="#ffe3e1"/><stop offset="0.6043" stop-color="#ffe0dd"/><stop offset="0.6257" stop-color="#ffd9d5"/><stop offset="0.6471" stop-color="#ffd0ca"/><stop offset="0.6684" stop-color="#ffcac2"/><stop offset="0.6791" stop-color="#ffc4ba"/><stop offset="0.6898" stop-color="#ffc1b4"/><stop offset="0.7059" stop-color="#ffbfb2"/><stop offset="0.738" stop-color="#ffbfb2"/><stop offset="0.7968" stop-color="#ffc1b5"/><stop offset="0.8075" stop-color="#ffc4ba"/><stop offset="0.8182" stop-color="#ffcec8"/><stop offset="0.8235" stop-color="#ffd2cd"/><stop offset="0.8342" stop-color="#ffd6d1"/><stop offset="0.9305" stop-color="#ffdcd8"/><stop offset="0.9572" stop-color="#ffe7e5"/><stop offset="0.9733" stop-color="#ffeceb"/><stop offset="1" stop-color="#fff9f9"/></linearGradient>
<linearGradient id="r82" gradientUnits="userSpaceOnUse" x1="131.5" x2="879.5" y1="0" y2="0"><stop offset="0" stop-color="#ffe4e2"/><stop offset="0.1283" stop-color="#ffe0de"/><stop offset="0.1658" stop-color="#ffd7d2"/><stop offset="0.1872" stop-color="#ffd0ca"/><stop offset="0.2193" stop-color="#ffcbc4"/><stop offset="0.2406" stop-color="#ffc2b7"/><stop offset="0.2513" stop-color="#ffc1b5"/><stop offset="0.2781" stop-color="#ffc0b4"/><stop offset="0.3048" stop-color="#ffc2b6"/><stop offset="0.3102" stop-color="#ffc4b9"/><stop offset="0.3262" stop-color="#ffcdc7"/><stop offset="0.3422" stop-color="#ffd5d0"/><stop offset="0.369" stop-color="#ffdbd7"/><stop offset="0.385" stop-color="#ffe1df"/><stop offset="0.3957" stop-color="#ffe4e1"/><stop offset="0.4332" stop-color="#ffe7e5"/><stop offset="0.4973" stop-color="#ffe3e1"/><stop offset="0.508" stop-color="#ffe3e0"/><stop offset="0.5348" stop-color="#ffdcd9"/><stop offset="0.5615" stop-color="#ffe2df"/><stop offset="0.5829" stop-color="#ffe3e1"/><stop offset="0.5989" stop-color="#ffe1df"/><stop offset="0.615" stop-color="#ffddda"/><stop offset="0.6471" stop-color="#ffd1cb"/><stop offset="0.6684" stop-color="#ffcbc4"/><stop offset="0.6845" stop-color="#ffc3b9"/><stop offset="0.6952" stop-color="#ffc1b5"/><stop offset="0.7112" stop-color="#ffbfb2"/><stop offset="0.7326" stop-color="#ffbfb2"/><stop offset="0.7968" stop-color="#ffc1b5"/><stop offset="0.8075" stop-color="#ffc5bb"/><stop offset="0.8182" stop-color="#ffcfc8"/><stop offset="0.8235" stop-color="#ffd3cd"/><stop offset="0.8342" stop-color="#ffd6d1"/><stop offset="0.9305" stop-color="#ffdcd8"/><stop offset="0.9572" stop-color="#ffe7e5"/><stop offset="0.9733" stop-color="#ffeceb"/><stop offset="1" stop-color="#fff9f9"/></linearGradient>
<linearGradient id="r83" gradientUnits="userSpaceOnUse" x1="131.5" x2="879.5" y1="0" y2="0"><stop offset="0" stop-color="#ffe4e2"/><stop offset="0.1283" stop-color="#ffe1de"/><stop offset="0.1658" stop-color="#ffd7d3"/><stop offset="0.1872" stop-color="#ffd0ca"/><stop offset="0.2193" stop-color="#ffccc5"/><stop offset="0.246" stop-color="#ffc2b7"/><stop offset="0.2781" stop-color="#ffc1b5"/><stop offset="0.2941" stop-color="#ffc1b5"/><stop offset="0.3048" stop-color="#ffc3b8"/><stop offset="0.3102" stop-color="#ffc5bb"/><stop offset="0.3209" stop-color="#ffccc5"/><stop offset="0.3369" stop-color="#ffd4ce"/><stop offset="0.3957" stop-color="#ffe4e2"/><stop offset="0.4332" stop-color="#ffe7e5"/><stop offset="0.4973" stop-color="#ffe3e1"/><stop offset="0.508" stop-color="#ffe3e0"/><stop offset="0.5348" stop-color="#ffdcd9"/><stop offset="0.5615" stop-color="#ffe2df"/><stop offset="0.5829" stop-color="#ffe3e1"/><stop offset="0.6043" stop-color="#ffe1de"/><stop offset="0.6203" stop-color="#ffddda"/><stop offset="0.6471" stop-color="#ffd2cc"/><stop offset="0.6738" stop-color="#ffcbc4"/><stop offset="0.6898" stop-color="#ffc5ba"/><stop offset="0.7005" stop-color="#ffc2b6"/><stop offset="0.7273" stop-color="#ffc0b4"/><stop offset="0.7968" stop-color="#ffc2b6"/><stop offset="0.8075" stop-color="#ffc6bd"/><stop offset="0.8182" stop-color="#ffd0ca"/><stop offset="0.8289" stop-color="#ffd5d0"/><stop offset="0.9305" stop-color="#ffdcd8"/><stop offset="0.9572" stop-color="#ffe7e6"/><stop offset="0.9733" stop-color="#ffedeb"/><stop offset="1" stop-color="#fff9f9"/></linearGradient>
<linearGradient id="r84" gradientUnits="userSpaceOnUse" x1="131.5" x2="879.5" y1="0" y2="0"><stop offset="0" stop-color="#ffe4e2"/><stop offset="0.1283" stop-color="#ffe1de"/><stop offset="0.1658" stop-color="#ffd7d3"/><stop offset="0.1872" stop-color="#ffd0ca"/><stop offset="0.2246" stop-color="#ffcbc4"/><stop offset="0.246" stop-color="#ffc3b9"/><stop offset="0.2834" stop-color="#ffc1b6"/><stop offset="0.3048" stop-color="#ffc3b9"/><stop offset="0.3209" stop-color="#ffccc6"/><stop offset="0.3369" stop-color="#ffd4cf"/><stop offset="0.3957" stop-color="#ffe4e2"/><stop offset="0.4332" stop-color="#ffe7e5"/><stop offset="0.4973" stop-color="#ffe4e1"/><stop offset="0.5134" stop-color="#ffe2df"/><stop offset="0.5348" stop-color="#ffdcd9"/><stop offset="0.5615" stop-color="#ffe2df"/><stop offset="0.5829" stop-color="#ffe3e1"/><stop offset="0.6043" stop-color="#ffe1df"/><stop offset="0.6203" stop-color="#ffdeda"/><stop offset="0.6471" stop-color="#ffd3cd"/><stop offset="0.6738" stop-color="#ffccc5"/><stop offset="0.7059" stop-color="#ffc2b6"/><stop offset="0.7219" stop-color="#ffc0b4"/><stop offset="0.7807" stop-color="#ffc1b6"/><stop offset="0.7914" stop-color="#ffc2b6"/><stop offset="0.8021" stop-color="#ffc4b9"/><stop offset="0.8075" stop-color="#ffc7bd"/><stop offset="0.8182" stop-color="#ffd0ca"/><stop offset="0.8289" stop-color="#ffd5d0"/><stop offset="0.9305" stop-color="#ffdcd9"/><stop offset="0.9572" stop-color="#ffe7e6"/><stop offset="0.9733" stop-color="#ffedeb"/><stop offset="1" stop-color="#fff9f9"/></linearGradient>
<linearGradient id="r85" gradientUnits="userSpaceOnUse" x1="131.5" x2="879.5" y1="0" y2="0"><stop offset="0" stop-color="#ffe4e2"/><stop offset="0.1283" stop-color="#ffe1de"/><stop offset="0.1658" stop-color="#ffd8d3"/><stop offset="0.1872" stop-color="#ffd1cb"/><stop offset="0.2299" stop-color="#ffcbc4"/><stop offset="0.2406" stop-color="#ffc7be"/><stop offset="0.2513" stop-color="#ffc5ba"/><stop offset="0.2834" stop-color="#ffc2b7"/><stop offset="0.2995" stop-color="#ffc3b8"/><stop offset="0.3102" stop-color="#ffc7be"/><stop offset="0.3209" stop-color="#ffcdc7"/><stop offset="0.3369" stop-color="#ffd5d0"/><stop offset="0.3636" stop-color="#ffdbd7"/><stop offset="0.3904" stop-color="#ffe3e1"/><stop offset="0.4332" stop-color="#ffe7e5"/><stop offset="0.4973" stop-color="#ffe4e1"/><stop offset="0.5134" stop-color="#ffe2e0"/><stop offset="0.5348" stop-color="#ffdcd9"/><stop offset="0.5615" stop-color="#ffe2df"/><stop offset="0.5829" stop-color="#ffe3e1"/><stop offset="0.6203" stop-color="#ffdfdc"/><stop offset="0.6471" stop-color="#ffd4cf"/><stop offset="0.6845" stop-color="#ffcbc4"/><stop offset="0.7112" stop-color="#ffc2b7"/><stop offset="0.7273" stop-color="#ffc2b6"/><stop offset="0.754" stop-color="#ffc4ba"/><stop offset="0.7861" stop-color="#ffc2b7"/><stop offset="0.8021" stop-color="#ffc5bb"/><stop offset="0.8182" stop-color="#ffd1cb"/><stop offset="0.8289" stop-color="#ffd6d1"/><stop offset="0.9305" stop-color="#ffdcd9"/><stop offset="0.9572" stop-color="#ffe7e6"/><stop offset="0.9733" stop-color="#ffedeb"/><stop offset="1" stop-color="#fff9f9"/></linearGradient>
<linearGradient id="r86" gradientUnits="userSpaceOnUse" x1="131.5" x2="879.5" y1="0" y2="0"><stop offset="0" stop-color="#ffe4e2"/><stop offset="0.1283" stop-color="#ffe1de"/><stop offset="0.1658" stop-color="#ffd8d3"/><stop offset="0.1872" stop-color="#ffd1cb"/><stop offset="0.2246" stop-color="#ffcdc6"/><stop offset="0.2513" stop-color="#ffc6bc"/><stop offset="0.2834" stop-color="#ffc2b7"/><stop offset="0.2995" stop-color="#ffc4b9"/><stop offset="0.3048" stop-color="#ffc5bc"/><stop offset="0.3155" stop-color="#ffcbc4"/><stop offset="0.3369" stop-color="#ffd5d0"/><stop offset="0.3636" stop-color="#ffdbd7"/><stop offset="0.3904" stop-color="#ffe3e1"/><stop offset="0.4385" stop-color="#ffe7e5"/><stop offset="0.4973" stop-color="#ffe4e1"/><stop offset="0.5134" stop-color="#ffe2e0"/><stop offset="0.5348" stop-color="#ffddd9"/><stop offset="0.5615" stop-color="#ffe2df"/><stop offset="0.5829" stop-color="#ffe3e1"/><stop offset="0.6203" stop-color="#ffdfdc"/><stop offset="0.6471" stop-color="#ffd5d0"/><stop offset="0.6898" stop-color="#ffcbc4"/><stop offset="0.7112" stop-color="#ffc3b8"/><stop offset="0.7273" stop-color="#ffc2b7"/><stop offset="0.754" stop-color="#ffc5bc"/><stop offset="0.7861" stop-color="#ffc2b7"/><stop offset="0.7968" stop-color="#ffc4b9"/><stop offset="0.8021" stop-color="#ffc5bc"/><stop offset="0.8182" stop-color="#ffd2cc"/><stop offset="0.8289" stop-color="#ffd6d1"/><stop offset="0.9305" stop-color="#ffdcd9"/><stop offset="0.9572" stop-color="#ffe7e6"/><stop offset="0.9733" stop-color="#ffedeb"/><stop offset="0.9893" stop-color="#fff5f5"/><stop offset="1" stop-color="#fff9f9"/></linearGradient>
<linearGradient id="r87" gradientUnits="userSpaceOnUse" x1="131.5" x2="879.5" y1="0" y2="0"><stop offset="0" stop-color="#ffe4e2"/><stop offset="0.1283" stop-color="#ffe1de"/><stop offset="0.1872" stop-color="#ffd1cc"/><stop offset="0.2299" stop-color="#ffcdc6"/><stop offset="0.2834" stop-color="#ffc3b8"/><stop offset="0.2995" stop-color="#ffc5bb"/><stop offset="0.3155" stop-color="#ffcdc6"/><stop offset="0.3369" stop-color="#ffd6d1"/><stop offset="0.3636" stop-color="#ffdbd7"/><stop offset="0.3904" stop-color="#ffe3e1"/><stop offset="0.4439" stop-color="#ffe6e4"/><stop offset="0.508" stop-color="#ffe3e1"/><stop offset="0.5348" stop-color="#ffddd9"/><stop offset="0.5615" stop-color="#ffe2df"/><stop offset="0.5829" stop-color="#ffe3e1"/><stop offset="0.6203" stop-color="#ffe0dd"/><stop offset="0.6471" stop-color="#ffd7d2"/><stop offset="0.6952" stop-color="#ffcbc4"/><stop offset="0.7059" stop-color="#ffc7be"/><stop offset="0.7166" stop-color="#ffc4ba"/><stop offset="0.7273" stop-color="#ffc4ba"/><stop offset="0.754" stop-color="#ffc8c0"/><stop offset="0.7861" stop-color="#ffc3b9"/><stop offset="0.7968" stop-color="#ffc4ba"/><stop offset="0.8021" stop-color="#ffc6bd"/><stop offset="0.8182" stop-color="#ffd3cd"/><stop offset="0.8235" stop-color="#ffd5d0"/><stop offset="0.8342" stop-color="#ffd7d2"/><stop offset="0.9305" stop-color="#ffdcd9"/><stop offset="1" stop-color="#fff9f9"/></linearGradient>
<linearGradient id="r88" gradientUnits="userSpaceOnUse" x1="131.5" x2="879.5" y1="0" y2="0"><stop offset="0" stop-color="#ffe4e2"/><stop offset="0.1283" stop-color="#ffe1de"/><stop offset="0.1872" stop-color="#ffd2cc"/><stop offset="0.246" stop-color="#ffcbc4"/><stop offset="0.2834" stop-color="#ffc4b9"/><stop offset="0.2995" stop-color="#ffc6bc"/><stop offset="0.3102" stop-color="#ffcbc4"/><stop offset="0.3369" stop-color="#ffd6d1"/><stop offset="0.3636" stop-color="#ffdbd8"/><stop offset="0.3904" stop-color="#ffe3e1"/><stop offset="0.4439" stop-color="#ffe6e5"/><stop offset="0.508" stop-color="#ffe3e1"/><stop offset="0.5348" stop-color="#ffddda"/><stop offset="0.5615" stop-color="#ffe2df"/><stop offset="0.5829" stop-color="#ffe3e1"/><stop offset="0.6203" stop-color="#ffe0dd"/><stop offset="0.6417" stop-color="#ffd9d5"/><stop offset="0.6952" stop-color="#ffccc6"/><stop offset="0.7112" stop-color="#ffc6bd"/><stop offset="0.7166" stop-color="#ffc5bc"/><stop offset="0.7273" stop-color="#ffc6bc"/><stop offset="0.754" stop-color="#ffcac2"/><stop offset="0.7807" stop-color="#ffc4ba"/><stop offset="0.7914" stop-color="#ffc4ba"/><stop offset="0.8021" stop-color="#ffc7be"/><stop offset="0.8128" stop-color="#ffcfc9"/><stop offset="0.8235" stop-color="#ffd5d0"/><stop offset="0.8342" stop-color="#ffd7d2"/><stop offset="0.9305" stop-color="#ffdcd9"/><stop offset="1" stop-color="#fff9f9"/></linearGradient>
<linearGradient id="r89" gradientUnits="userSpaceOnUse" x1="131.5" x2="879.5" y1="0" y2="0"><stop offset="0" stop-color="#ffe4e2"/><stop offset="0.1283" stop-color="#ffe1de"/><stop offset="0.1872" stop-color="#ffd2cc"/><stop offset="0.2567" stop-color="#ffccc5"/><stop offset="0.2834" stop-color="#ffc4ba"/><stop offset="0.2941" stop-color="#ffc5bc"/><stop offset="0.3102" stop-color="#ffcdc6"/><stop offset="0.3316" stop-color="#ffd5d0"/><stop offset="0.3583" stop-color="#ffdad7"/><stop offset="0.3797" stop-color="#ffe2df"/><stop offset="0.3904" stop-color="#ffe3e1"/><stop offset="0.4439" stop-color="#ffe6e5"/><stop offset="0.508" stop-color="#ffe3e1"/><stop offset="0.5348" stop-color="#ffddda"/><stop offset="0.5615" stop-color="#ffe2e0"/><stop offset="0.5829" stop-color="#ffe3e1"/><stop offset="0.6203" stop-color="#ffe1de"/><stop offset="0.7166" stop-color="#ffc8c0"/><stop offset="0.754" stop-color="#ffccc5"/><stop offset="0.7647" stop-color="#ffcbc3"/><stop offset="0.7807" stop-color="#ffc6bd"/><stop offset="0.7914" stop-color="#ffc5bb"/><stop offset="0.8021" stop-color="#ffc8c0"/><stop offset="0.8128" stop-color="#ffd0ca"/><stop offset="0.8235" stop-color="#ffd6d1"/><stop offset="0.9305" stop-color="#ffddd9"/><stop offset="1" stop-color="#fff9f9"/></linearGradient>
<linearGradient id="r90" gradientUnits="userSpaceOnUse" x1="131.5" x2="879.5" y1="0" y2="0"><stop offset="0" stop-color="#ffe4e2"/><stop offset="0.1283" stop-color="#ffe1de"/><stop offset="0.1925" stop-color="#ffd1cb"/><stop offset="0.262" stop-color="#ffcbc4"/><stop offset="0.2834" stop-color="#ffc5bb"/><stop offset="0.2941" stop-color="#ffc6bd"/><stop offset="0.3102" stop-color="#ffcdc7"/><stop offset="0.3316" stop-color="#ffd5d1"/><stop offset="0.3583" stop-color="#ffdbd7"/><stop offset="0.3797" stop-color="#ffe2df"/><stop offset="0.3904" stop-color="#ffe3e1"/><stop offset="0.4439" stop-color="#ffe6e5"/><stop offset="0.508" stop-color="#ffe3e1"/><stop offset="0.5348" stop-color="#ffddda"/><stop offset="0.5615" stop-color="#ffe2e0"/><stop offset="0.5829" stop-color="#ffe3e1"/><stop offset="0.6203" stop-color="#ffe1de"/><stop offset="0.6417" stop-color="#ffdbd7"/><stop offset="0.6684" stop-color="#ffd6d1"/><stop offset="0.7166" stop-color="#ffcac2"/><stop offset="0.7594" stop-color="#ffccc5"/><stop offset="0.7914" stop-color="#ffc6bc"/><stop offset="0.8021" stop-color="#ffc9c1"/><stop offset="0.8182" stop-color="#ffd4cf"/><stop offset="0.8289" stop-color="#ffd7d2"/><stop offset="0.9305" stop-color="#ffddd9"/><stop offset="1" stop-color="#fff9f9"/></linearGradient>
<linearGradient id="r91" gradientUnits="userSpaceOnUse" x1="131.5" x2="879.5" y1="0" y2="0"><stop offset="0" stop-color="#ffe4e2"/><stop offset="0.1283" stop-color="#ffe1de"/><stop offset="0.1925" stop-color="#ffd1cc"/><stop offset="0.262" stop-color="#ffccc6"/><stop offset="0.2834" stop-color="#ffc6bd"/><stop offset="0.2941" stop-color="#ffc8bf"/><stop offset="0.3048" stop-color="#ffccc6"/><stop offset="0.3316" stop-color="#ffd6d1"/><stop offset="0.3583" stop-color="#ffdbd7"/><stop offset="0.385" stop-color="#ffe3e1"/><stop offset="0.4439" stop-color="#ffe6e5"/><stop offset="0.5134" stop-color="#ffe3e1"/><stop offset="0.5348" stop-color="#ffdedb"/><stop offset="0.5615" stop-color="#ffe2e0"/><stop offset="0.5829" stop-color="#ffe3e1"/><stop offset="0.6203" stop-color="#ffe1df"/><stop offset="0.6471" stop-color="#ffdad6"/><stop offset="0.6684" stop-color="#ffd7d2"/><stop offset="0.7112" stop-color="#ffcdc7"/><stop offset="0.7647" stop-color="#ffcdc6"/><stop offset="0.7914" stop-color="#ffc8bf"/><stop offset="0.7968" stop-color="#ffc8bf"/><stop offset="0.8021" stop-color="#ffcac3"/><stop offset="0.8182" stop-color="#ffd5cf"/><stop offset="0.8289" stop-color="#ffd7d2"/><stop offset="0.9305" stop-color="#ffddd9"/><stop offset="0.9519" stop-color="#ffe6e4"/><stop offset="0.9733" stop-color="#ffedec"/><stop offset="0.9893" stop-color="#fff6f5"/><stop offset="1" stop-color="#fff9f9"/></linearGradient>
<linearGradient id="r92" gradientUnits="userSpaceOnUse" x1="131.5" x2="879.5" y1="0" y2="0"><stop offset="0" stop-color="#ffe4e2"/><stop offset="0.1283" stop-color="#ffe1df"/><stop offset="0.1925" stop-color="#ffd2cc"/><stop offset="0.262" stop-color="#ffcdc6"/><stop offset="0.2834" stop-color="#ffc7be"/><stop offset="0.2941" stop-color="#ffc8c0"/><stop offset="0.3048" stop-color="#ffcdc6"/><stop offset="0.3316" stop-color="#ffd6d2"/><stop offset="0.3583" stop-color="#ffdbd7"/><stop offset="0.3797" stop-color="#ffe2e0"/><stop offset="0.3904" stop-color="#ffe4e1"/><stop offset="0.4439" stop-color="#ffe6e5"/><stop offset="0.5134" stop-color="#ffe3e1"/><stop offset="0.5348" stop-color="#ffdedb"/><stop offset="0.5615" stop-color="#ffe2e0"/><stop offset="0.5882" stop-color="#ffe3e1"/><stop offset="0.6257" stop-color="#ffe0de"/><stop offset="0.6471" stop-color="#ffdad6"/><stop offset="0.7112" stop-color="#ffcec8"/><stop offset="0.7647" stop-color="#ffcdc7"/><stop offset="0.7914" stop-color="#ffc9c0"/><stop offset="0.7968" stop-color="#ffc9c1"/><stop offset="0.8182" stop-color="#ffd5d0"/><stop offset="0.8289" stop-color="#ffd7d3"/><stop offset="0.9305" stop-color="#ffddd9"/><stop offset="0.9519" stop-color="#ffe6e4"/><stop offset="0.9733" stop-color="#ffeeec"/><stop offset="0.9893" stop-color="#fff6f5"/><stop offset="1" stop-color="#fff9f9"/></linearGradient>
<linearGradient id="r93" gradientUnits="userSpaceOnUse" x1="131.5" x2="879.5" y1="0" y2="0"><stop offset="0" stop-color="#ffe4e2"/><stop offset="0.1283" stop-color="#ffe1df"/><stop offset="0.1925" stop-color="#ffd2cc"/><stop offset="0.262" stop-color="#ffcec7"/><stop offset="0.2834" stop-color="#ffc9c1"/><stop offset="0.2888" stop-color="#ffc9c1"/><stop offset="0.3316" stop-color="#ffd7d2"/><stop offset="0.3583" stop-color="#ffdbd7"/><stop offset="0.3797" stop-color="#ffe2e0"/><stop offset="0.4385" stop-color="#ffe7e5"/><stop offset="0.5134" stop-color="#ffe3e1"/><stop offset="0.5348" stop-color="#ffdedb"/><stop offset="0.5775" stop-color="#ffe3e1"/><stop offset="0.615" stop-color="#ffe2df"/><stop offset="0.7112" stop-color="#ffcfc9"/><stop offset="0.7701" stop-color="#ffcec7"/><stop offset="0.7968" stop-color="#ffcbc4"/><stop offset="0.8182" stop-color="#ffd5d0"/><stop offset="0.8289" stop-color="#ffd7d3"/><stop offset="0.9305" stop-color="#ffddd9"/><stop offset="0.9519" stop-color="#ffe6e4"/><stop offset="0.9733" stop-color="#ffeeec"/><stop offset="0.9893" stop-color="#fff6f5"/><stop offset="1" stop-color="#fff9f9"/></linearGradient>
<linearGradient id="r94" gradientUnits="userSpaceOnUse" x1="131.5" x2="879.5" y1="0" y2="0"><stop offset="0" stop-color="#ffe4e2"/><stop offset="0.1283" stop-color="#ffe1df"/><stop offset="0.1925" stop-color="#ffd2cd"/><stop offset="0.262" stop-color="#ffcec8"/><stop offset="0.2834" stop-color="#ffcac2"/><stop offset="0.2888" stop-color="#ffcac2"/><stop offset="0.3316" stop-color="#ffd7d2"/><stop offset="0.3583" stop-color="#ffdbd7"/><stop offset="0.3797" stop-color="#ffe2e0"/><stop offset="0.4385" stop-color="#ffe7e5"/><stop offset="0.5134" stop-color="#ffe3e1"/><stop offset="0.5348" stop-color="#ffdedb"/><stop offset="0.5561" stop-color="#ffe2df"/><stop offset="0.5829" stop-color="#ffe3e1"/><stop offset="0.6203" stop-color="#ffe1df"/><stop offset="0.6471" stop-color="#ffdbd7"/><stop offset="0.6791" stop-color="#ffd7d2"/><stop offset="0.7112" stop-color="#ffd0ca"/><stop offset="0.7701" stop-color="#ffcec8"/><stop offset="0.7968" stop-color="#ffccc5"/><stop offset="0.8182" stop-color="#ffd5d1"/><stop offset="0.8289" stop-color="#ffd7d3"/><stop offset="0.9305" stop-color="#ffddd9"/><stop offset="0.9519" stop-color="#ffe6e4"/><stop offset="0.9733" stop-color="#ffeeed"/><stop offset="0.9893" stop-color="#fff6f5"/><stop offset="1" stop-color="#fff9f9"/></linearGradient>
<linearGradient id="r95" gradientUnits="userSpaceOnUse" x1="131.5" x2="879.5" y1="0" y2="0"><stop offset="0" stop-color="#ffe4e2"/><stop offset="0.1283" stop-color="#ffe1df"/><stop offset="0.139" stop-color="#ffe0dd"/><stop offset="0.1925" stop-color="#ffd2cd"/><stop offset="0.262" stop-color="#ffcfc8"/><stop offset="0.2834" stop-color="#ffccc5"/><stop offset="0.3102" stop-color="#ffd1cb"/><stop offset="0.3316" stop-color="#ffd7d3"/><stop offset="0.3583" stop-color="#ffdbd8"/><stop offset="0.3797" stop-color="#ffe2e0"/><stop offset="0.4439" stop-color="#ffe7e5"/><stop offset="0.5134" stop-color="#ffe3e1"/><stop offset="0.5348" stop-color="#ffdfdc"/><stop offset="0.5829" stop-color="#ffe3e1"/><stop offset="0.6203" stop-color="#ffe2df"/><stop offset="0.6524" stop-color="#ffdbd7"/><stop offset="0.6845" stop-color="#ffd7d2"/><stop offset="0.7112" stop-color="#ffd1cb"/><stop offset="0.7968" stop-color="#ffcec8"/><stop offset="0.8182" stop-color="#ffd6d1"/><stop offset="0.8289" stop-color="#ffd8d3"/><stop offset="0.9305" stop-color="#ffddda"/><stop offset="0.9519" stop-color="#ffe6e4"/><stop offset="0.9733" stop-color="#ffeeed"/><stop offset="0.9893" stop-color="#fff6f5"/><stop offset="1" stop-color="#fff9f9"/></linearGradient>
<linearGradient id="r96" gradientUnits="userSpaceOnUse" x1="131.5" x2="879.5" y1="0" y2="0"><stop offset="0" stop-color="#ffe4e2"/><stop offset="0.1283" stop-color="#ffe1df"/><stop offset="0.1979" stop-color="#ffd2cc"/><stop offset="0.2834" stop-color="#ffcdc6"/><stop offset="0.3102" stop-color="#ffd1cb"/><stop offset="0.3316" stop-color="#ffd8d3"/><stop offset="0.3583" stop-color="#ffdcd8"/><stop offset="0.3797" stop-color="#ffe2e0"/><stop offset="0.4439" stop-color="#ffe7e5"/><stop offset="0.5134" stop-color="#ffe3e1"/><stop offset="0.5348" stop-color="#ffdfdc"/><stop offset="0.5829" stop-color="#ffe3e1"/><stop offset="0.6203" stop-color="#ffe2df"/><stop offset="0.6524" stop-color="#ffdbd7"/><stop offset="0.6898" stop-color="#ffd6d2"/><stop offset="0.7112" stop-color="#ffd1cb"/><stop offset="0.7914" stop-color="#ffcfc8"/><stop offset="0.8021" stop-color="#ffd0ca"/><stop offset="0.8182" stop-color="#ffd6d1"/><stop offset="0.8289" stop-color="#ffd8d3"/><stop offset="0.9305" stop-color="#ffddda"/><stop offset="0.9519" stop-color="#ffe6e4"/><stop offset="0.9679" stop-color="#ffecea"/><stop offset="0.9893" stop-color="#fff6f6"/><stop offset="1" stop-color="#fff9f9"/></linearGradient>
<linearGradient id="r97" gradientUnits="userSpaceOnUse" x1="131.5" x2="879.5" y1="0" y2="0"><stop offset="0" stop-color="#ffe4e2"/><stop offset="0.1337" stop-color="#ffe1de"/><stop offset="0.1979" stop-color="#ffd2cd"/><stop offset="0.2834" stop-color="#ffcfc8"/><stop offset="0.3102" stop-color="#ffd2cc"/><stop offset="0.3316" stop-color="#ffd8d3"/><stop offset="0.3583" stop-color="#ffdcd8"/><stop offset="0.3797" stop-color="#ffe3e0"/><stop offset="0.3904" stop-color="#ffe4e2"/><stop offset="0.4439" stop-color="#ffe7e5"/><stop offset="0.5134" stop-color="#ffe3e1"/><stop offset="0.5348" stop-color="#ffdfdc"/><stop offset="0.5561" stop-color="#ffe2df"/><stop offset="0.5882" stop-color="#ffe3e1"/><stop offset="0.631" stop-color="#ffe1de"/><stop offset="0.6524" stop-color="#ffdbd7"/><stop offset="0.6898" stop-color="#ffd7d2"/><stop offset="0.7166" stop-color="#ffd1cb"/><stop offset="0.7861" stop-color="#ffd0ca"/><stop offset="0.8021" stop-color="#ffd1cb"/><stop offset="0.8182" stop-color="#ffd6d2"/><stop offset="0.8289" stop-color="#ffd8d3"/><stop offset="0.9305" stop-color="#ffddda"/><stop offset="0.9519" stop-color="#ffe6e5"/><stop offset="0.9679" stop-color="#ffecea"/><stop offset="0.9893" stop-color="#fff6f6"/><stop offset="1" stop-color="#fff9f9"/></linearGradient>
<linearGradient id="r98" gradientUnits="userSpaceOnUse" x1="131.5" x2="879.5" y1="0" y2="0"><stop offset="0" stop-color="#ffe4e2"/><stop offset="0.1337" stop-color="#ffe1de"/><stop offset="0.1979" stop-color="#ffd2cd"/><stop offset="0.2834" stop-color="#ffcfc9"/><stop offset="0.3102" stop-color="#ffd2cc"/><stop offset="0.3316" stop-color="#ffd8d4"/><stop offset="0.3583" stop-color="#ffdcd8"/><stop offset="0.3797" stop-color="#ffe3e0"/><stop offset="0.3904" stop-color="#ffe4e2"/><stop offset="0.4439" stop-color="#ffe7e5"/><stop offset="0.5134" stop-color="#ffe3e1"/><stop offset="0.5348" stop-color="#ffdfdc"/><stop offset="0.5561" stop-color="#ffe2df"/><stop offset="0.5882" stop-color="#ffe3e1"/><stop offset="0.631" stop-color="#ffe1de"/><stop offset="0.6524" stop-color="#ffdbd8"/><stop offset="0.6898" stop-color="#ffd7d3"/><stop offset="0.7166" stop-color="#ffd1cc"/><stop offset="0.7807" stop-color="#ffd0ca"/><stop offset="0.7968" stop-color="#ffd1cb"/><stop offset="0.8289" stop-color="#ffd8d3"/><stop offset="0.9251" stop-color="#ffdcd9"/><stop offset="0.9358" stop-color="#ffdfdc"/><stop offset="0.9519" stop-color="#ffe6e5"/><stop offset="0.9679" stop-color="#ffeceb"/><stop offset="0.9893" stop-color="#fff6f6"/><stop offset="1" stop-color="#fff9f9"/></linearGradient>
<linearGradient id="r99" gradientUnits="userSpaceOnUse" x1="131.5" x2="879.5" y1="0" y2="0"><stop offset="0" stop-color="#ffe4e2"/><stop offset="0.1337" stop-color="#ffe1de"/><stop offset="0.1979" stop-color="#ffd3cd"/><stop offset="0.2727" stop-color="#ffd0ca"/><stop offset="0.3048" stop-color="#ffd2cc"/><stop offset="0.3316" stop-color="#ffd8d4"/><stop offset="0.3583" stop-color="#ffdcd9"/><stop offset="0.3797" stop-color="#ffe3e0"/><stop offset="0.3904" stop-color="#ffe4e2"/><stop offset="0.4492" stop-color="#ffe6e5"/><stop offset="0.5134" stop-color="#ffe3e1"/><stop offset="0.5348" stop-color="#ffdfdc"/><stop offset="0.5561" stop-color="#ffe2df"/><stop offset="0.5882" stop-color="#ffe3e1"/><stop offset="0.631" stop-color="#ffe1de"/><stop offset="0.6524" stop-color="#ffdcd8"/><stop offset="0.6898" stop-color="#ffd8d3"/><stop offset="0.7166" stop-color="#ffd2cc"/><stop offset="0.7754" stop-color="#ffd0ca"/><stop offset="0.7968" stop-color="#ffd1cc"/><stop offset="0.8289" stop-color="#ffd8d3"/><stop offset="0.9251" stop-color="#ffdcd9"/><stop offset="0.9358" stop-color="#ffdfdc"/><stop offset="0.984" stop-color="#fff4f3"/><stop offset="1" stop-color="#fff9f9"/></linearGradient>
<linearGradient id="r100" gradientUnits="userSpaceOnUse" x1="131.5" x2="879.5" y1="0" y2="0"><stop offset="0" stop-color="#ffe4e2"/><stop offset="0.1337" stop-color="#ffe1de"/><stop offset="0.1979" stop-color="#ffd3cd"/><stop offset="0.2674" stop-color="#ffd0ca"/><stop offset="0.3048" stop-color="#ffd2cc"/><stop offset="0.3262" stop-color="#ffd7d3"/><stop offset="0.3583" stop-color="#ffdcd9"/><stop offset="0.3743" stop-color="#ffe2df"/><stop offset="0.3904" stop-color="#ffe4e2"/><stop offset="0.4492" stop-color="#ffe6e5"/><stop offset="0.5134" stop-color="#ffe3e1"/><stop offset="0.5348" stop-color="#ffdfdc"/><stop offset="0.5882" stop-color="#ffe3e1"/><stop offset="0.631" stop-color="#ffe1de"/><stop offset="0.6524" stop-color="#ffdcd8"/><stop offset="0.6898" stop-color="#ffd8d3"/><stop offset="0.7166" stop-color="#ffd2cc"/><stop offset="0.7754" stop-color="#ffd0cb"/><stop offset="0.7968" stop-color="#ffd2cc"/><stop offset="0.8235" stop-color="#ffd8d3"/><stop offset="0.9251" stop-color="#ffdcd9"/><stop offset="0.9358" stop-color="#ffdfdc"/><stop offset="0.9465" stop-color="#ffe4e2"/><stop offset="0.9679" stop-color="#ffeceb"/><stop offset="0.984" stop-color="#fff4f3"/><stop offset="1" stop-color="#fff9f9"/></linearGradient>
<linearGradient id="r101" gradientUnits="userSpaceOnUse" x1="131.5" x2="879.5" y1="0" y2="0"><stop offset="0" stop-color="#ffe4e2"/><stop offset="0.1337" stop-color="#ffe1de"/><stop offset="0.2032" stop-color="#ffd2cd"/><stop offset="0.2674" stop-color="#ffd0ca"/><stop offset="0.3048" stop-color="#ffd2cd"/><stop offset="0.3262" stop-color="#ffd8d3"/><stop offset="0.3529" stop-color="#ffdbd8"/><stop offset="0.3743" stop-color="#ffe2e0"/><stop offset="0.385" stop-color="#ffe3e1"/><stop offset="0.4492" stop-color="#ffe6e5"/><stop offset="0.5134" stop-color="#ffe3e1"/><stop offset="0.5348" stop-color="#ffdfdc"/><stop offset="0.5882" stop-color="#ffe3e1"/><stop offset="0.631" stop-color="#ffe1df"/><stop offset="0.6578" stop-color="#ffdbd7"/><stop offset="0.6898" stop-color="#ffd8d4"/><stop offset="0.7219" stop-color="#ffd2cc"/><stop offset="0.7754" stop-color="#ffd1cb"/><stop offset="0.7968" stop-color="#ffd2cc"/><stop offset="0.8235" stop-color="#ffd8d3"/><stop offset="0.9251" stop-color="#ffdcd9"/><stop offset="0.9358" stop-color="#ffdfdc"/><stop offset="0.9465" stop-color="#ffe4e2"/><stop offset="0.9679" stop-color="#ffeceb"/><stop offset="0.984" stop-color="#fff4f4"/><stop offset="1" stop-color="#fff9f9"/></linearGradient>
<linearGradient id="r102" gradientUnits="userSpaceOnUse" x1="131.5" x2="879.5" y1="0" y2="0"><stop offset="0" stop-color="#ffe4e2"/><stop offset="0.1337" stop-color="#ffe1de"/><stop offset="0.2032" stop-color="#ffd3cd"/><stop offset="0.2674" stop-color="#ffd0ca"/><stop offset="0.3048" stop-color="#ffd2cd"/><stop offset="0.3262" stop-color="#ffd8d3"/><stop offset="0.3529" stop-color="#ffdcd8"/><stop offset="0.3743" stop-color="#ffe2e0"/><stop offset="0.385" stop-color="#ffe3e1"/><stop offset="0.4492" stop-color="#ffe6e5"/><stop offset="0.5134" stop-color="#ffe3e1"/><stop offset="0.5348" stop-color="#ffdfdc"/><stop offset="0.5882" stop-color="#ffe3e1"/><stop offset="0.631" stop-color="#ffe1df"/><stop offset="0.6578" stop-color="#ffdbd7"/><stop offset="0.6952" stop-color="#ffd7d3"/><stop offset="0.7219" stop-color="#ffd2cc"/><stop offset="0.7754" stop-color="#ffd1cb"/><stop offset="0.7968" stop-color="#ffd2cd"/><stop offset="0.8235" stop-color="#ffd8d3"/><stop offset="0.9251" stop-color="#ffdcd9"/><stop offset="0.9358" stop-color="#ffdfdc"/><stop offset="0.9465" stop-color="#ffe4e3"/><stop offset="0.9679" stop-color="#ffeceb"/><stop offset="0.984" stop-color="#fff4f4"/><stop offset="1" stop-color="#fff9f9"/></linearGradient>
<linearGradient id="r103" gradientUnits="userSpaceOnUse" x1="131.5" x2="879.5" y1="0" y2="0"><stop offset="0" stop-color="#ffe4e2"/><stop offset="0.1337" stop-color="#ffe1df"/><stop offset="0.1765" stop-color="#ffdad6"/><stop offset="0.2032" stop-color="#ffd3cd"/><stop offset="0.262" stop-color="#ffd0cb"/><stop offset="0.3048" stop-color="#ffd3cd"/><stop offset="0.3262" stop-color="#ffd8d4"/><stop offset="0.3529" stop-color="#ffdcd8"/><stop offset="0.3743" stop-color="#ffe2e0"/><stop offset="0.385" stop-color="#ffe3e1"/><stop offset="0.4492" stop-color="#ffe6e5"/><stop offset="0.5134" stop-color="#ffe3e1"/><stop offset="0.5348" stop-color="#ffdfdd"/><stop offset="0.5882" stop-color="#ffe3e1"/><stop offset="0.631" stop-color="#ffe1df"/><stop offset="0.6578" stop-color="#ffdbd8"/><stop offset="0.6952" stop-color="#ffd8d3"/><stop offset="0.7219" stop-color="#ffd2cd"/><stop offset="0.7701" stop-color="#ffd1cb"/><stop offset="0.7968" stop-color="#ffd2cd"/><stop offset="0.8235" stop-color="#ffd8d3"/><stop offset="0.9251" stop-color="#ffdcd9"/><stop offset="0.9358" stop-color="#ffdfdc"/><stop offset="0.9465" stop-color="#ffe5e3"/><stop offset="0.9679" stop-color="#ffeceb"/><stop offset="0.984" stop-color="#fff5f4"/><stop offset="1" stop-color="#fff9f9"/></linearGradient>
<linearGradient id="r104" gradientUnits="userSpaceOnUse" x1="131.5" x2="879.5" y1="0" y2="0"><stop offset="0" stop-color="#ffe4e2"/><stop offset="0.1337" stop-color="#ffe1df"/><stop offset="0.1765" stop-color="#ffdad6"/><stop offset="0.2032" stop-color="#ffd3cd"/><stop offset="0.262" stop-color="#ffd1cb"/><stop offset="0.3048" stop-color="#ffd3cd"/><stop offset="0.3262" stop-color="#ffd8d4"/><stop offset="0.3529" stop-color="#ffdcd8"/><stop offset="0.3743" stop-color="#ffe3e0"/><stop offset="0.385" stop-color="#ffe3e1"/><stop offset="0.4492" stop-color="#ffe6e5"/><stop offset="0.5134" stop-color="#ffe3e1"/><stop offset="0.5348" stop-color="#ffe0dd"/><stop offset="0.5882" stop-color="#ffe3e1"/><stop offset="0.631" stop-color="#ffe1df"/><stop offset="0.6578" stop-color="#ffdbd8"/><stop offset="0.6952" stop-color="#ffd8d3"/><stop offset="0.7219" stop-color="#ffd2cd"/><stop offset="0.7701" stop-color="#ffd1cb"/><stop offset="0.7968" stop-color="#ffd3cd"/><stop offset="0.8235" stop-color="#ffd8d3"/><stop offset="0.9251" stop-color="#ffdcd9"/><stop offset="0.9358" stop-color="#ffdfdc"/><stop offset="0.984" stop-color="#fff5f4"/><stop offset="1" stop-color="#fff9f9"/></linearGradient>
<g id="fld"><rect x="131.5" y="15.5" width="748" height="3.6" fill="url(#r0)"/>
<rect x="131.5" y="18.5" width="748" height="3.6" fill="url(#r1)"/>
<rect x="131.5" y="21.5" width="748" height="3.6" fill="url(#r2)"/>
<rect x="131.5" y="24.5" width="748" height="3.6" fill="url(#r3)"/>
<rect x="131.5" y="27.5" width="748" height="3.6" fill="url(#r4)"/>
<rect x="131.5" y="30.5" width="748" height="3.6" fill="url(#r5)"/>
<rect x="131.5" y="33.5" width="748" height="3.6" fill="url(#r6)"/>
<rect x="131.5" y="36.5" width="748" height="3.6" fill="url(#r7)"/>
<rect x="131.5" y="39.5" width="748" height="3.6" fill="url(#r8)"/>
<rect x="131.5" y="42.5" width="748" height="3.6" fill="url(#r9)"/>
<rect x="131.5" y="45.5" width="748" height="3.6" fill="url(#r10)"/>
<rect x="131.5" y="48.5" width="748" height="3.6" fill="url(#r11)"/>
<rect x="131.5" y="51.5" width="748" height="3.6" fill="url(#r12)"/>
<rect x="131.5" y="54.5" width="748" height="3.6" fill="url(#r13)"/>
<rect x="131.5" y="57.5" width="748" height="3.6" fill="url(#r14)"/>
<rect x="131.5" y="60.5" width="748" height="3.6" fill="url(#r15)"/>
<rect x="131.5" y="63.5" width="748" height="3.6" fill="url(#r16)"/>
<rect x="131.5" y="66.5" width="748" height="3.6" fill="url(#r17)"/>
<rect x="131.5" y="69.5" width="748" height="3.6" fill="url(#r18)"/>
<rect x="131.5" y="72.5" width="748" height="3.6" fill="url(#r19)"/>
<rect x="131.5" y="75.5" width="748" height="3.6" fill="url(#r20)"/>
<rect x="131.5" y="78.5" width="748" height="3.6" fill="url(#r21)"/>
<rect x="131.5" y="81.5" width="748" height="3.6" fill="url(#r22)"/>
<rect x="131.5" y="84.5" width="748" height="3.6" fill="url(#r23)"/>
<rect x="131.5" y="87.5" width="748" height="3.6" fill="url(#r24)"/>
<rect x="131.5" y="90.5" width="748" height="3.6" fill="url(#r25)"/>
<rect x="131.5" y="93.5" width="748" height="3.6" fill="url(#r26)"/>
<rect x="131.5" y="96.5" width="748" height="3.6" fill="url(#r27)"/>
<rect x="131.5" y="99.5" width="748" height="3.6" fill="url(#r28)"/>
<rect x="131.5" y="102.5" width="748" height="3.6" fill="url(#r29)"/>
<rect x="131.5" y="105.5" width="748" height="3.6" fill="url(#r30)"/>
<rect x="131.5" y="108.5" width="748" height="3.6" fill="url(#r31)"/>
<rect x="131.5" y="111.5" width="748" height="3.6" fill="url(#r32)"/>
<rect x="131.5" y="114.5" width="748" height="3.6" fill="url(#r33)"/>
<rect x="131.5" y="117.5" width="748" height="3.6" fill="url(#r34)"/>
<rect x="131.5" y="120.5" width="748" height="3.6" fill="url(#r35)"/>
<rect x="131.5" y="123.5" width="748" height="3.6" fill="url(#r36)"/>
<rect x="131.5" y="126.5" width="748" height="3.6" fill="url(#r37)"/>
<rect x="131.5" y="129.5" width="748" height="3.6" fill="url(#r38)"/>
<rect x="131.5" y="132.5" width="748" height="3.6" fill="url(#r39)"/>
<rect x="131.5" y="135.5" width="748" height="3.6" fill="url(#r40)"/>
<rect x="131.5" y="138.5" width="748" height="3.6" fill="url(#r41)"/>
<rect x="131.5" y="141.5" width="748" height="3.6" fill="url(#r42)"/>
<rect x="131.5" y="144.5" width="748" height="3.6" fill="url(#r43)"/>
<rect x="131.5" y="147.5" width="748" height="3.6" fill="url(#r44)"/>
<rect x="131.5" y="150.5" width="748" height="3.6" fill="url(#r45)"/>
<rect x="131.5" y="153.5" width="748" height="3.6" fill="url(#r46)"/>
<rect x="131.5" y="156.5" width="748" height="3.6" fill="url(#r47)"/>
<rect x="131.5" y="159.5" width="748" height="3.6" fill="url(#r48)"/>
<rect x="131.5" y="162.5" width="748" height="3.6" fill="url(#r49)"/>
<rect x="131.5" y="165.5" width="748" height="3.6" fill="url(#r50)"/>
<rect x="131.5" y="168.5" width="748" height="3.6" fill="url(#r51)"/>
<rect x="131.5" y="171.5" width="748" height="3.6" fill="url(#r52)"/>
<rect x="131.5" y="174.5" width="748" height="3.6" fill="url(#r53)"/>
<rect x="131.5" y="177.5" width="748" height="3.6" fill="url(#r54)"/>
<rect x="131.5" y="180.5" width="748" height="3.6" fill="url(#r55)"/>
<rect x="131.5" y="183.5" width="748" height="3.6" fill="url(#r56)"/>
<rect x="131.5" y="186.5" width="748" height="3.6" fill="url(#r57)"/>
<rect x="131.5" y="189.5" width="748" height="3.6" fill="url(#r58)"/>
<rect x="131.5" y="192.5" width="748" height="3.6" fill="url(#r59)"/>
<rect x="131.5" y="195.5" width="748" height="3.6" fill="url(#r60)"/>
<rect x="131.5" y="198.5" width="748" height="3.6" fill="url(#r61)"/>
<rect x="131.5" y="201.5" width="748" height="3.6" fill="url(#r62)"/>
<rect x="131.5" y="204.5" width="748" height="3.6" fill="url(#r63)"/>
<rect x="131.5" y="207.5" width="748" height="3.6" fill="url(#r64)"/>
<rect x="131.5" y="210.5" width="748" height="3.6" fill="url(#r65)"/>
<rect x="131.5" y="213.5" width="748" height="3.6" fill="url(#r66)"/>
<rect x="131.5" y="216.5" width="748" height="3.6" fill="url(#r67)"/>
<rect x="131.5" y="219.5" width="748" height="3.6" fill="url(#r68)"/>
<rect x="131.5" y="222.5" width="748" height="3.6" fill="url(#r69)"/>
<rect x="131.5" y="225.5" width="748" height="3.6" fill="url(#r70)"/>
<rect x="131.5" y="228.5" width="748" height="3.6" fill="url(#r71)"/>
<rect x="131.5" y="231.5" width="748" height="3.6" fill="url(#r72)"/>
<rect x="131.5" y="234.5" width="748" height="3.6" fill="url(#r73)"/>
<rect x="131.5" y="237.5" width="748" height="3.6" fill="url(#r74)"/>
<rect x="131.5" y="240.5" width="748" height="3.6" fill="url(#r75)"/>
<rect x="131.5" y="243.5" width="748" height="3.6" fill="url(#r76)"/>
<rect x="131.5" y="246.5" width="748" height="3.6" fill="url(#r77)"/>
<rect x="131.5" y="249.5" width="748" height="3.6" fill="url(#r78)"/>
<rect x="131.5" y="252.5" width="748" height="3.6" fill="url(#r79)"/>
<rect x="131.5" y="255.5" width="748" height="3.6" fill="url(#r80)"/>
<rect x="131.5" y="258.5" width="748" height="3.6" fill="url(#r81)"/>
<rect x="131.5" y="261.5" width="748" height="3.6" fill="url(#r82)"/>
<rect x="131.5" y="264.5" width="748" height="3.6" fill="url(#r83)"/>
<rect x="131.5" y="267.5" width="748" height="3.6" fill="url(#r84)"/>
<rect x="131.5" y="270.5" width="748" height="3.6" fill="url(#r85)"/>
<rect x="131.5" y="273.5" width="748" height="3.6" fill="url(#r86)"/>
<rect x="131.5" y="276.5" width="748" height="3.6" fill="url(#r87)"/>
<rect x="131.5" y="279.5" width="748" height="3.6" fill="url(#r88)"/>
<rect x="131.5" y="282.5" width="748" height="3.6" fill="url(#r89)"/>
<rect x="131.5" y="285.5" width="748" height="3.6" fill="url(#r90)"/>
<rect x="131.5" y="288.5" width="748" height="3.6" fill="url(#r91)"/>
<rect x="131.5" y="291.5" width="748" height="3.6" fill="url(#r92)"/>
<rect x="131.5" y="294.5" width="748" height="3.6" fill="url(#r93)"/>
<rect x="131.5" y="297.5" width="748" height="3.6" fill="url(#r94)"/>
<rect x="131.5" y="300.5" width="748" height="3.6" fill="url(#r95)"/>
<rect x="131.5" y="303.5" width="748" height="3.6" fill="url(#r96)"/>
<rect x="131.5" y="306.5" width="748" height="3.6" fill="url(#r97)"/>
<rect x="131.5" y="309.5" width="748" height="3.6" fill="url(#r98)"/>
<rect x="131.5" y="312.5" width="748" height="3.6" fill="url(#r99)"/>
<rect x="131.5" y="315.5" width="748" height="3.6" fill="url(#r100)"/>
<rect x="131.5" y="318.5" width="748" height="3.6" fill="url(#r101)"/>
<rect x="131.5" y="321.5" width="748" height="3.6" fill="url(#r102)"/>
<rect x="131.5" y="324.5" width="748" height="3.6" fill="url(#r103)"/>
<rect x="131.5" y="327.5" width="748" height="1.5" fill="url(#r104)"/></g>
<g id="cont" fill="none" stroke="#2a2424" stroke-opacity="0.5" stroke-width="1.15" stroke-linejoin="round"><path d="M131.5 84.0 L137.4 86.2 L143.5 89.2 L147.2 96.0 L152.2 108.3 L156.5 119.4 L158.9 126.0 L163.0 136.0 L168.0 146.0 L171.5 154.0 L174.4 162.0 L177.5 174.3 L181.6 183.6 L186.7 176.4 L190.8 168.2 L191.9 165.1 L195.0 162.0 L197.0 156.0 L198.5 151.6 L214.0 152.0 L214.5 162.0 L217.5 178.4 L222.7 203.1 L228.8 227.7 L231.9 239.0 L235.0 269.8 L240.1 300.6 L243.2 330.0"/><path d="M168.9 15.0 L169.9 28.5 L170.3 49.0 L170.6 80.0 L170.0 96.0 L172.5 108.3 L176.8 126.0 L181.6 133.0 L186.0 126.0 L189.1 117.0 L194.0 113.9 L206.4 110.8 L215.0 105.9 L231.0 103.2 L232.8 110.8 L235.9 126.0 L241.0 144.0 L247.3 162.0 L251.4 176.4 L256.6 192.8 L259.6 213.3 L262.7 239.0 L263.7 269.8 L267.8 300.6 L275.0 330.0"/><path d="M208.3 15.0 L214.9 18.7 L216.5 28.5 L217.5 49.0 L217.9 73.7 L221.1 80.0 L231.0 88.6 L235.9 98.5 L240.8 110.8 L245.8 126.0 L251.4 136.0 L258.0 150.0 L263.7 162.0 L268.3 164.5 L282.2 165.7 L284.3 174.3 L285.3 188.7 L287.4 203.1 L290.4 223.6 L293.5 239.0 L296.6 251.3 L304.8 263.6 L313.0 276.0 L329.4 277.6 L333.6 286.2 L340.7 298.5 L345.9 302.7 L350.0 299.0 L353.5 292.0 L356.1 286.2 L360.0 278.8 L364.3 273.9 L365.5 264.0 L368.6 256.2 L372.3 242.6 L376.0 229.1 L379.7 218.0 L382.2 213.9 L385.2 207.7 L387.7 199.1 L388.9 188.0 L392.0 179.4 L395.1 172.0 L395.7 162.9 L398.2 156.8 L405.6 153.1 L413.6 151.2 L414.8 139.5 L416.0 126.0 L419.1 112.0 L422.8 98.5 L426.5 87.4 L430.2 80.6 L447.1 79.4 L448.0 80.0 L451.7 87.4 L456.0 96.0 L459.8 103.4 L463.4 110.8 L468.4 115.7 L472.0 120.6 L475.8 126.0 L481.3 130.9 L485.6 139.5 L489.3 149.4 L493.0 159.3 L496.7 166.0 L505.3 167.9 L515.2 169.1 L521.3 172.0 L532.4 176.9 L547.2 181.2 L563.2 176.9 L576.7 183.1 L580.4 190.5 L589.1 196.6 L596.5 205.3 L600.6 211.3 L604.6 225.0 L607.7 232.4 L612.6 241.0 L629.3 240.6 L633.0 248.4 L636.7 257.0 L640.3 263.8 L649.0 268.1 L653.9 271.0 L657.6 277.9 L661.3 283.8 L666.2 285.0 L678.5 284.0 L685.9 279.1 L695.1 274.2 L703.2 279.1 L715.5 288.9 L728.8 300.3 L731.5 290.2 L733.9 277.9 L736.4 268.0 L737.6 261.9 L738.0 249.6 L738.3 237.3 L739.5 225.0 L741.3 223.6 L744.4 209.2 L749.5 192.8 L754.6 174.3 L758.7 162.0 L760.8 154.8 L763.9 146.6 L765.9 140.4 L766.9 138.4 L772.1 128.1 L773.1 105.5 L772.7 85.0 L773.1 49.1 L772.1 15.0"/><path d="M269.9 15.0 L274.0 20.3 L275.0 27.5 L279.1 32.6 L280.6 45.0 L280.6 80.0 L279.3 92.3 L280.9 101.0 L288.9 108.3 L292.6 115.7 L294.4 126.0 L296.2 133.3 L297.8 138.0 L304.8 134.3 L317.1 131.2 L331.5 130.6 L341.8 134.3 L347.3 138.8 L356.1 133.3 L361.5 126.0 L364.9 120.6 L378.5 118.8 L384.6 113.3 L389.6 105.9 L396.9 100.9 L406.8 96.0 L413.0 91.7 L414.8 86.2 L416.7 80.0 L417.7 75.8 L420.0 73.3 L426.2 63.4 L431.1 60.3 L438.5 64.0 L450.8 69.6 L458.2 73.9 L461.9 78.2 L463.8 83.7 L480.7 82.2 L484.4 88.6 L488.1 96.0 L490.5 104.6 L492.4 115.7 L494.9 126.0 L500.4 129.7 L507.8 134.0 L515.2 137.1 L528.7 136.5 L537.3 132.8 L544.7 129.7 L547.8 126.0 L552.1 119.4 L559.5 113.3 L562.6 110.2 L565.7 114.5 L570.6 120.6 L572.4 126.0 L574.9 134.6 L576.7 143.2 L580.4 147.6 L587.8 145.7 L593.4 142.0 L595.2 136.5 L598.6 138.0 L601.6 144.5 L606.8 152.8 L610.9 162.0 L612.5 175.3 L614.0 168.2 L615.0 162.0 L616.0 154.8 L619.1 144.5 L623.2 134.3 L625.3 126.0 L631.4 115.8 L635.5 105.5 L639.6 93.2 L643.7 87.0 L651.0 86.0 L663.2 92.8 L679.7 85.0 L676.6 77.8 L678.6 73.7 L679.7 57.3 L682.8 49.1 L693.0 46.6 L699.2 42.9 L700.2 34.7 L698.2 28.5 L688.9 26.5 L684.8 23.4 L674.5 19.3 L664.3 15.0"/><path d="M415.7 15.0 L420.8 21.3 L422.9 38.8 L424.1 53.5 L438.5 57.2 L450.8 61.6 L463.2 67.3 L475.5 64.0 L480.4 59.1 L484.1 62.8 L490.2 69.6 L493.3 76.9 L494.9 80.0 L495.5 89.9 L497.3 97.2 L510.9 97.5 L514.6 92.3 L516.4 83.7 L518.5 79.9 L522.6 69.6 L524.6 38.8 L523.6 15.0"/><path d="M366.4 330.0 L371.1 310.0 L373.5 300.9 L376.6 286.2 L380.3 276.3 L383.4 264.0 L385.9 256.2 L388.9 242.6 L392.0 230.3 L395.1 221.7 L399.4 218.0 L403.1 215.1 L409.3 210.8 L413.6 208.3 L414.8 196.6 L416.0 184.3 L417.9 172.0 L419.7 150.6 L421.6 126.0 L424.0 114.5 L427.1 99.7 L430.2 91.7 L436.4 89.2 L446.8 87.1 L448.7 91.1 L452.4 99.7 L457.3 109.6 L462.2 120.6 L464.7 126.0 L465.3 130.9 L469.6 134.6 L479.5 137.7 L483.2 144.5 L486.8 154.3 L490.5 162.9 L494.2 169.1 L496.7 172.0 L497.9 175.1 L512.7 175.7 L520.1 178.8 L522.6 186.8 L525.6 199.1 L530.0 213.3 L538.6 207.7 L547.2 200.3 L554.6 191.7 L563.2 185.5 L568.1 191.7 L571.8 199.1 L579.2 207.7 L585.4 215.1 L589.5 218.0 L596.0 225.0 L599.7 236.1 L604.6 245.9 L609.6 257.0 L612.6 265.6 L613.3 271.0 L614.5 271.7 L623.1 276.6 L633.0 282.8 L637.9 287.7 L641.6 293.9 L651.4 300.0 L656.4 314.0 L660.0 330.0"/><path d="M809.0 15.0 L810.1 28.5 L808.0 47.0 L806.0 55.2 L798.8 65.5 L797.7 85.0 L797.7 105.5 L795.7 126.0 L792.6 146.6 L789.5 162.0 L785.4 174.3 L781.3 188.1 L775.2 203.1 L769.0 215.4 L760.8 225.7 L753.6 232.4 L750.6 243.5 L748.1 255.8 L745.6 271.0 L743.8 280.3 L741.3 296.3 L738.9 314.0 L735.1 330.0"/><path d="M401.3 330.0 L407.4 310.0 L408.0 298.5 L408.6 285.6 L413.0 276.3 L413.6 264.0 L416.7 257.4 L419.1 246.3 L421.6 232.8 L423.4 218.0 L424.7 202.8 L425.9 184.3 L427.1 172.0 L428.3 150.6 L429.6 126.0 L430.8 120.0 L437.0 118.2 L437.6 114.5 L446.8 112.3 L447.7 117.0 L448.0 126.0 L450.5 138.3 L454.8 153.1 L458.5 166.6 L459.8 172.0 L461.6 181.9 L464.1 191.1 L468.4 187.4 L473.3 180.6 L480.1 175.7 L483.2 184.3 L486.8 196.6 L490.5 207.7 L496.7 218.0 L502.9 224.2 L510.2 231.5 L515.2 238.9 L517.6 250.0 L520.1 257.4 L520.7 264.0 L522.6 276.3 L526.3 288.6 L527.5 300.9 L528.1 310.0 L529.0 330.0"/><path d="M534.5 330.0 L535.5 310.0 L536.7 294.8 L539.8 284.9 L542.3 273.9 L541.0 264.0 L542.3 254.9 L547.2 246.3 L550.9 236.5 L555.8 225.4 L557.7 218.0 L558.3 212.6 L563.2 208.3 L568.1 212.6 L569.4 218.0 L574.3 226.6 L580.4 234.0 L581.8 241.0 L584.9 249.6 L586.2 258.3 L592.3 265.6 L598.5 271.0 L599.7 275.4 L603.4 285.2 L608.3 300.0 L612.0 314.0 L614.0 330.0"/><path d="M848.7 15.0 L849.7 49.1 L849.1 69.6 L848.0 85.0 L847.0 101.4 L842.9 126.0 L839.8 146.6 L837.8 162.0 L835.7 182.5 L834.7 203.1 L834.7 239.0 L832.6 280.0 L830.6 316.0 L829.6 330.0"/><path d="M879.0 90.0 L878.4 95.3 L876.8 115.8 L874.7 136.3 L872.7 162.0 L870.6 192.8 L867.6 239.0 L864.5 280.0 L862.4 316.0 L861.4 330.0"/></g>
</defs>
<rect width="1949" height="375" fill="#fff"/>
<g transform="translate(0,0)">
<use href="#fld"/>
<use href="#cont"/>
<g fill="#000">
<circle cx="135.8" cy="16.8" r="1.55"/>
<circle cx="204.2" cy="16.8" r="1.55"/>
<circle cx="239.5" cy="16.8" r="1.55"/>
<circle cx="261.7" cy="16.8" r="1.55"/>
<circle cx="429.7" cy="16.8" r="1.55"/>
<circle cx="131.3" cy="21.3" r="1.55"/>
<circle cx="146.5" cy="21.3" r="1.55"/>
<circle cx="155.5" cy="21.3" r="1.55"/>
<circle cx="167.4" cy="21.3" r="1.55"/>
<circle cx="187.1" cy="21.3" r="1.55"/>
<circle cx="194.3" cy="21.3" r="1.55"/>
<circle cx="246.7" cy="21.3" r="1.55"/>
<circle cx="268.3" cy="21.3" r="1.55"/>
<circle cx="326.8" cy="21.3" r="1.55"/>
<circle cx="342.2" cy="21.3" r="1.55"/>
<circle cx="348.3" cy="21.3" r="1.55"/>
<circle cx="372.0" cy="21.3" r="1.55"/>
<circle cx="386.3" cy="21.3" r="1.55"/>
<circle cx="392.5" cy="21.3" r="1.55"/>
<circle cx="406.0" cy="21.3" r="1.55"/>
<circle cx="413.2" cy="21.3" r="1.55"/>
<circle cx="429.7" cy="21.3" r="1.55"/>
<circle cx="436.8" cy="21.3" r="1.55"/>
<circle cx="452.9" cy="21.3" r="1.55"/>
<circle cx="461.1" cy="21.3" r="1.55"/>
<circle cx="479.1" cy="21.3" r="1.55"/>
<circle cx="489.0" cy="21.3" r="1.55"/>
<circle cx="510.6" cy="21.3" r="1.55"/>
<circle cx="173.4" cy="29.1" r="1.55"/>
<circle cx="146.5" cy="32.2" r="1.55"/>
<circle cx="289.8" cy="36.7" r="1.55"/>
<circle cx="319.2" cy="35.3" r="1.55"/>
<circle cx="342.2" cy="36.3" r="1.55"/>
<circle cx="386.3" cy="36.3" r="1.55"/>
<circle cx="461.1" cy="35.3" r="1.55"/>
<circle cx="429.7" cy="38.4" r="1.55"/>
<circle cx="489.0" cy="40.2" r="1.55"/>
<circle cx="146.5" cy="45.0" r="1.55"/>
<circle cx="167.4" cy="46.4" r="1.55"/>
<circle cx="187.1" cy="45.0" r="1.55"/>
<circle cx="204.2" cy="48.2" r="1.55"/>
<circle cx="286.1" cy="45.0" r="1.55"/>
<circle cx="436.8" cy="45.0" r="1.55"/>
<circle cx="452.9" cy="46.4" r="1.55"/>
<circle cx="479.1" cy="46.4" r="1.55"/>
<circle cx="135.8" cy="52.1" r="1.55"/>
<circle cx="173.4" cy="52.6" r="1.55"/>
<circle cx="326.8" cy="52.6" r="1.55"/>
<circle cx="348.3" cy="54.6" r="1.55"/>
<circle cx="372.0" cy="52.6" r="1.55"/>
<circle cx="392.5" cy="52.6" r="1.55"/>
<circle cx="406.0" cy="56.7" r="1.55"/>
<circle cx="510.6" cy="51.1" r="1.55"/>
<circle cx="194.3" cy="61.0" r="1.55"/>
<circle cx="239.5" cy="61.0" r="1.55"/>
<circle cx="246.7" cy="61.0" r="1.55"/>
<circle cx="268.3" cy="61.0" r="1.55"/>
<circle cx="261.7" cy="65.5" r="1.55"/>
<circle cx="413.2" cy="61.0" r="1.55"/>
<circle cx="146.5" cy="69.0" r="1.55"/>
<circle cx="187.1" cy="69.0" r="1.55"/>
<circle cx="204.2" cy="71.7" r="1.55"/>
<circle cx="436.8" cy="67.5" r="1.55"/>
<circle cx="461.1" cy="69.0" r="1.55"/>
<circle cx="479.1" cy="71.7" r="1.55"/>
<circle cx="286.1" cy="77.2" r="1.55"/>
<circle cx="305.2" cy="77.2" r="1.55"/>
<circle cx="372.0" cy="77.2" r="1.55"/>
<circle cx="392.5" cy="77.2" r="1.55"/>
<circle cx="429.7" cy="75.1" r="1.55"/>
<circle cx="342.2" cy="84.0" r="1.55"/>
<circle cx="386.3" cy="84.0" r="1.55"/>
<circle cx="429.7" cy="84.0" r="1.55"/>
<circle cx="319.2" cy="87.9" r="1.55"/>
<circle cx="406.0" cy="87.9" r="1.55"/>
<circle cx="452.9" cy="86.0" r="1.55"/>
<circle cx="146.5" cy="92.6" r="1.55"/>
<circle cx="155.5" cy="92.6" r="1.55"/>
<circle cx="173.4" cy="92.6" r="1.55"/>
<circle cx="289.8" cy="92.6" r="1.55"/>
<circle cx="436.8" cy="92.6" r="1.55"/>
<circle cx="479.1" cy="92.6" r="1.55"/>
<circle cx="510.6" cy="96.7" r="1.55"/>
<circle cx="167.4" cy="100.4" r="1.55"/>
<circle cx="261.7" cy="100.4" r="1.55"/>
<circle cx="489.0" cy="100.4" r="1.55"/>
<circle cx="461.1" cy="104.9" r="1.55"/>
<circle cx="246.7" cy="108.6" r="1.55"/>
<circle cx="348.3" cy="108.6" r="1.55"/>
<circle cx="372.0" cy="108.6" r="1.55"/>
<circle cx="436.8" cy="108.6" r="1.55"/>
<circle cx="452.9" cy="108.6" r="1.55"/>
<circle cx="479.1" cy="108.6" r="1.55"/>
<circle cx="155.5" cy="116.8" r="1.55"/>
<circle cx="204.2" cy="116.8" r="1.55"/>
<circle cx="239.5" cy="116.8" r="1.55"/>
<circle cx="406.0" cy="116.8" r="1.55"/>
<circle cx="194.3" cy="123.6" r="1.55"/>
<circle cx="268.3" cy="123.6" r="1.55"/>
<circle cx="326.8" cy="123.6" r="1.55"/>
<circle cx="461.1" cy="123.6" r="1.55"/>
<circle cx="489.0" cy="123.6" r="1.55"/>
<circle cx="510.6" cy="123.6" r="1.55"/>
<circle cx="413.2" cy="127.5" r="1.55"/>
<circle cx="386.3" cy="132.2" r="1.55"/>
<circle cx="155.5" cy="140.0" r="1.55"/>
<circle cx="187.1" cy="140.0" r="1.55"/>
<circle cx="204.2" cy="140.0" r="1.55"/>
<circle cx="286.1" cy="140.0" r="1.55"/>
<circle cx="305.2" cy="140.0" r="1.55"/>
<circle cx="392.5" cy="140.0" r="1.55"/>
<circle cx="406.0" cy="140.0" r="1.55"/>
<circle cx="489.0" cy="140.0" r="1.55"/>
<circle cx="510.6" cy="148.7" r="1.55"/>
<circle cx="239.5" cy="150.3" r="1.55"/>
<circle cx="173.4" cy="156.5" r="1.55"/>
<circle cx="246.7" cy="156.5" r="1.55"/>
<circle cx="261.7" cy="158.5" r="1.55"/>
<circle cx="289.8" cy="156.5" r="1.55"/>
<circle cx="348.3" cy="156.5" r="1.55"/>
<circle cx="268.3" cy="164.5" r="1.55"/>
<circle cx="342.2" cy="164.5" r="1.55"/>
<circle cx="155.5" cy="171.7" r="1.55"/>
<circle cx="167.4" cy="171.7" r="1.55"/>
<circle cx="194.3" cy="171.7" r="1.55"/>
<circle cx="239.5" cy="171.7" r="1.55"/>
<circle cx="319.2" cy="171.7" r="1.55"/>
<circle cx="372.0" cy="171.7" r="1.55"/>
<circle cx="386.3" cy="171.7" r="1.55"/>
<circle cx="392.5" cy="171.7" r="1.55"/>
<circle cx="413.2" cy="171.7" r="1.55"/>
<circle cx="436.8" cy="171.7" r="1.55"/>
<circle cx="348.3" cy="180.1" r="1.55"/>
<circle cx="289.8" cy="188.1" r="1.55"/>
<circle cx="286.1" cy="195.9" r="1.55"/>
<circle cx="319.2" cy="195.9" r="1.55"/>
<circle cx="246.7" cy="204.5" r="1.55"/>
<circle cx="261.7" cy="204.5" r="1.55"/>
<circle cx="268.3" cy="204.5" r="1.55"/>
<circle cx="326.8" cy="204.5" r="1.55"/>
<circle cx="342.2" cy="210.7" r="1.55"/>
<circle cx="386.3" cy="212.3" r="1.55"/>
<circle cx="286.1" cy="235.5" r="1.55"/>
<circle cx="305.2" cy="235.5" r="1.55"/>
<circle cx="326.8" cy="235.5" r="1.55"/>
<circle cx="342.2" cy="235.5" r="1.55"/>
<circle cx="348.3" cy="235.5" r="1.55"/>
<circle cx="372.0" cy="235.5" r="1.55"/>
<circle cx="289.8" cy="243.5" r="1.55"/>
<circle cx="319.2" cy="243.5" r="1.55"/>
<circle cx="529.8" cy="16.8" r="1.55"/>
<circle cx="569.2" cy="16.8" r="1.55"/>
<circle cx="595.5" cy="16.8" r="1.55"/>
<circle cx="621.6" cy="16.8" r="1.55"/>
<circle cx="651.3" cy="16.8" r="1.55"/>
<circle cx="661.2" cy="16.8" r="1.55"/>
<circle cx="729.0" cy="16.8" r="1.55"/>
<circle cx="737.8" cy="16.8" r="1.55"/>
<circle cx="781.3" cy="16.8" r="1.55"/>
<circle cx="810.1" cy="16.8" r="1.55"/>
<circle cx="819.9" cy="16.8" r="1.55"/>
<circle cx="529.8" cy="27.5" r="1.55"/>
<circle cx="569.2" cy="27.5" r="1.55"/>
<circle cx="595.5" cy="30.0" r="1.55"/>
<circle cx="878.4" cy="28.9" r="1.55"/>
<circle cx="621.6" cy="33.7" r="1.55"/>
<circle cx="661.2" cy="36.3" r="1.55"/>
<circle cx="781.3" cy="35.3" r="1.55"/>
<circle cx="651.3" cy="42.9" r="1.55"/>
<circle cx="729.0" cy="46.4" r="1.55"/>
<circle cx="819.9" cy="44.6" r="1.55"/>
<circle cx="569.2" cy="51.1" r="1.55"/>
<circle cx="810.1" cy="52.6" r="1.55"/>
<circle cx="865.9" cy="50.1" r="1.55"/>
<circle cx="661.2" cy="61.0" r="1.55"/>
<circle cx="529.8" cy="63.4" r="1.55"/>
<circle cx="595.5" cy="69.6" r="1.55"/>
<circle cx="737.8" cy="69.0" r="1.55"/>
<circle cx="781.3" cy="73.7" r="1.55"/>
<circle cx="729.0" cy="77.2" r="1.55"/>
<circle cx="819.9" cy="77.2" r="1.55"/>
<circle cx="865.9" cy="77.2" r="1.55"/>
<circle cx="621.6" cy="81.5" r="1.55"/>
<circle cx="651.3" cy="84.0" r="1.55"/>
<circle cx="569.2" cy="100.4" r="1.55"/>
<circle cx="661.2" cy="100.4" r="1.55"/>
<circle cx="810.1" cy="110.7" r="1.55"/>
<circle cx="781.3" cy="113.1" r="1.55"/>
<circle cx="595.5" cy="124.0" r="1.55"/>
<circle cx="819.9" cy="124.0" r="1.55"/>
<circle cx="569.2" cy="127.5" r="1.55"/>
<circle cx="729.0" cy="127.5" r="1.55"/>
<circle cx="529.8" cy="132.2" r="1.55"/>
<circle cx="621.6" cy="133.9" r="1.55"/>
<circle cx="569.2" cy="148.2" r="1.55"/>
<circle cx="661.2" cy="148.2" r="1.55"/>
<circle cx="737.8" cy="148.2" r="1.55"/>
<circle cx="819.9" cy="148.2" r="1.55"/>
<circle cx="651.3" cy="150.7" r="1.55"/>
<circle cx="781.3" cy="146.6" r="1.55"/>
<circle cx="529.8" cy="156.5" r="1.55"/>
<circle cx="595.5" cy="156.5" r="1.55"/>
<circle cx="621.6" cy="171.7" r="1.55"/>
<circle cx="810.1" cy="171.7" r="1.55"/>
<circle cx="781.3" cy="188.1" r="1.55"/>
<circle cx="621.6" cy="204.1" r="1.55"/>
<circle cx="651.3" cy="212.3" r="1.55"/>
<circle cx="661.2" cy="235.5" r="1.55"/>
<circle cx="729.0" cy="235.5" r="1.55"/>
<circle cx="737.8" cy="235.5" r="1.55"/>
<circle cx="651.3" cy="251.9" r="1.55"/>
<circle cx="661.2" cy="262.6" r="1.55"/>
<circle cx="737.8" cy="264.7" r="1.55"/>
<circle cx="729.0" cy="280.1" r="1.55"/>
<circle cx="661.2" cy="283.6" r="1.55"/>
<circle cx="729.0" cy="300.0" r="1.55"/>
<circle cx="651.3" cy="300.0" r="1.55"/>
<circle cx="737.8" cy="315.0" r="1.55"/>
<circle cx="865.9" cy="17.7" r="1.55"/>
<circle cx="878.4" cy="16.8" r="1.55"/>
<circle cx="865.9" cy="27.5" r="1.55"/>
<circle cx="878.4" cy="44.6" r="1.55"/>
<circle cx="878.4" cy="77.2" r="1.55"/>
<circle cx="878.4" cy="171.7" r="1.55"/>
</g>
<rect x="340.7" y="286.2" width="370.6" height="44.3" fill="#fff" fill-opacity="0.86"/>
<g stroke="#3a3a3a" stroke-width="1.5" fill="none">
<path d="M118.4 13 H879.5 V330.5 H118.4"/>
<path d="M124 13 V330.5"/>
<path d="M118.4 92.38 H124"/>
<path d="M118.4 171.75 H124"/>
<path d="M118.4 251.12 H124"/>
<path d="M205.6 330.5 V336.5"/>
<path d="M287.8 330.5 V336.5"/>
<path d="M370.0 330.5 V336.5"/>
<path d="M452.2 330.5 V336.5"/>
<path d="M534.4 330.5 V336.5"/>
<path d="M616.6 330.5 V336.5"/>
<path d="M698.8 330.5 V336.5"/>
<path d="M781.0 330.5 V336.5"/>
<path d="M863.2 330.5 V336.5"/>
</g>
<circle cx="155.5" cy="330.5" r="1.4" fill="#000"/>
<circle cx="167.4" cy="330.5" r="1.4" fill="#000"/>
<circle cx="173.4" cy="330.5" r="1.4" fill="#000"/>
<circle cx="187.1" cy="330.5" r="1.4" fill="#000"/>
<g fill="none" stroke="#000">
<circle cx="131.2" cy="52.5" r="10.2" stroke-width="1.6"/>
<circle cx="131.0" cy="76.3" r="10.2" stroke-width="1.6"/>
<circle cx="131.1" cy="123.5" r="17.6" stroke-width="3.0"/>
<circle cx="136.0" cy="123.5" r="17.6" stroke-width="3.0"/>
<circle cx="136.0" cy="171.3" r="17.6" stroke-width="2.8"/>
<circle cx="131.0" cy="187.8" r="15.5" stroke-width="2.2"/>
<circle cx="135.8" cy="235.3" r="17.9" stroke-width="2.7"/>
</g>
<text transform="translate(205.0,371.8) scale(1.05,1)" font-size="36" text-anchor="middle">40</text>
<text transform="translate(287.2,371.8) scale(1.05,1)" font-size="36" text-anchor="middle">30</text>
<text transform="translate(369.4,371.8) scale(1.05,1)" font-size="36" text-anchor="middle">20</text>
<text transform="translate(451.6,371.8) scale(1.05,1)" font-size="36" text-anchor="middle">10</text>
<text transform="translate(533.8,371.8) scale(1.05,1)" font-size="36" text-anchor="middle">0</text>
<text transform="translate(616.0,371.8) scale(1.05,1)" font-size="36" text-anchor="middle">10</text>
<text transform="translate(698.2,371.8) scale(1.05,1)" font-size="36" text-anchor="middle">20</text>
<text transform="translate(780.4,371.8) scale(1.05,1)" font-size="36" text-anchor="middle">30</text>
<text transform="translate(862.6,371.8) scale(1.05,1)" font-size="36" text-anchor="middle">40</text>
<text transform="translate(305.8,371.8) scale(1.05,1)" font-size="36">°N</text>
<text transform="translate(716.8,371.8) scale(1.05,1)" font-size="36">°S</text>
<text transform="translate(340.9,320.3) scale(0.927,1)" font-size="41" font-style="italic">Helicostomella subulata</text>
</g>
<g transform="translate(780,0)">
<use href="#fld"/>
<use href="#cont"/>
<g fill="#000">
<circle cx="135.8" cy="16.8" r="1.55"/>
<circle cx="204.2" cy="16.8" r="1.55"/>
<circle cx="239.5" cy="16.8" r="1.55"/>
<circle cx="261.7" cy="16.8" r="1.55"/>
<circle cx="429.7" cy="16.8" r="1.55"/>
<circle cx="131.3" cy="21.3" r="1.55"/>
<circle cx="146.5" cy="21.3" r="1.55"/>
<circle cx="155.5" cy="21.3" r="1.55"/>
<circle cx="167.4" cy="21.3" r="1.55"/>
<circle cx="187.1" cy="21.3" r="1.55"/>
<circle cx="194.3" cy="21.3" r="1.55"/>
<circle cx="246.7" cy="21.3" r="1.55"/>
<circle cx="268.3" cy="21.3" r="1.55"/>
<circle cx="326.8" cy="21.3" r="1.55"/>
<circle cx="342.2" cy="21.3" r="1.55"/>
<circle cx="348.3" cy="21.3" r="1.55"/>
<circle cx="372.0" cy="21.3" r="1.55"/>
<circle cx="386.3" cy="21.3" r="1.55"/>
<circle cx="392.5" cy="21.3" r="1.55"/>
<circle cx="406.0" cy="21.3" r="1.55"/>
<circle cx="413.2" cy="21.3" r="1.55"/>
<circle cx="429.7" cy="21.3" r="1.55"/>
<circle cx="436.8" cy="21.3" r="1.55"/>
<circle cx="452.9" cy="21.3" r="1.55"/>
<circle cx="461.1" cy="21.3" r="1.55"/>
<circle cx="479.1" cy="21.3" r="1.55"/>
<circle cx="489.0" cy="21.3" r="1.55"/>
<circle cx="510.6" cy="21.3" r="1.55"/>
<circle cx="173.4" cy="29.1" r="1.55"/>
<circle cx="146.5" cy="32.2" r="1.55"/>
<circle cx="289.8" cy="36.7" r="1.55"/>
<circle cx="319.2" cy="35.3" r="1.55"/>
<circle cx="342.2" cy="36.3" r="1.55"/>
<circle cx="386.3" cy="36.3" r="1.55"/>
<circle cx="461.1" cy="35.3" r="1.55"/>
<circle cx="429.7" cy="38.4" r="1.55"/>
<circle cx="489.0" cy="40.2" r="1.55"/>
<circle cx="146.5" cy="45.0" r="1.55"/>
<circle cx="167.4" cy="46.4" r="1.55"/>
<circle cx="187.1" cy="45.0" r="1.55"/>
<circle cx="204.2" cy="48.2" r="1.55"/>
<circle cx="286.1" cy="45.0" r="1.55"/>
<circle cx="436.8" cy="45.0" r="1.55"/>
<circle cx="452.9" cy="46.4" r="1.55"/>
<circle cx="479.1" cy="46.4" r="1.55"/>
<circle cx="135.8" cy="52.1" r="1.55"/>
<circle cx="173.4" cy="52.6" r="1.55"/>
<circle cx="326.8" cy="52.6" r="1.55"/>
<circle cx="348.3" cy="54.6" r="1.55"/>
<circle cx="372.0" cy="52.6" r="1.55"/>
<circle cx="392.5" cy="52.6" r="1.55"/>
<circle cx="406.0" cy="56.7" r="1.55"/>
<circle cx="510.6" cy="51.1" r="1.55"/>
<circle cx="194.3" cy="61.0" r="1.55"/>
<circle cx="239.5" cy="61.0" r="1.55"/>
<circle cx="246.7" cy="61.0" r="1.55"/>
<circle cx="268.3" cy="61.0" r="1.55"/>
<circle cx="261.7" cy="65.5" r="1.55"/>
<circle cx="413.2" cy="61.0" r="1.55"/>
<circle cx="146.5" cy="69.0" r="1.55"/>
<circle cx="187.1" cy="69.0" r="1.55"/>
<circle cx="204.2" cy="71.7" r="1.55"/>
<circle cx="436.8" cy="67.5" r="1.55"/>
<circle cx="461.1" cy="69.0" r="1.55"/>
<circle cx="479.1" cy="71.7" r="1.55"/>
<circle cx="286.1" cy="77.2" r="1.55"/>
<circle cx="305.2" cy="77.2" r="1.55"/>
<circle cx="372.0" cy="77.2" r="1.55"/>
<circle cx="392.5" cy="77.2" r="1.55"/>
<circle cx="429.7" cy="75.1" r="1.55"/>
<circle cx="342.2" cy="84.0" r="1.55"/>
<circle cx="386.3" cy="84.0" r="1.55"/>
<circle cx="429.7" cy="84.0" r="1.55"/>
<circle cx="319.2" cy="87.9" r="1.55"/>
<circle cx="406.0" cy="87.9" r="1.55"/>
<circle cx="452.9" cy="86.0" r="1.55"/>
<circle cx="146.5" cy="92.6" r="1.55"/>
<circle cx="155.5" cy="92.6" r="1.55"/>
<circle cx="173.4" cy="92.6" r="1.55"/>
<circle cx="289.8" cy="92.6" r="1.55"/>
<circle cx="436.8" cy="92.6" r="1.55"/>
<circle cx="479.1" cy="92.6" r="1.55"/>
<circle cx="510.6" cy="96.7" r="1.55"/>
<circle cx="167.4" cy="100.4" r="1.55"/>
<circle cx="261.7" cy="100.4" r="1.55"/>
<circle cx="489.0" cy="100.4" r="1.55"/>
<circle cx="461.1" cy="104.9" r="1.55"/>
<circle cx="246.7" cy="108.6" r="1.55"/>
<circle cx="348.3" cy="108.6" r="1.55"/>
<circle cx="372.0" cy="108.6" r="1.55"/>
<circle cx="436.8" cy="108.6" r="1.55"/>
<circle cx="452.9" cy="108.6" r="1.55"/>
<circle cx="479.1" cy="108.6" r="1.55"/>
<circle cx="155.5" cy="116.8" r="1.55"/>
<circle cx="204.2" cy="116.8" r="1.55"/>
<circle cx="239.5" cy="116.8" r="1.55"/>
<circle cx="406.0" cy="116.8" r="1.55"/>
<circle cx="194.3" cy="123.6" r="1.55"/>
<circle cx="268.3" cy="123.6" r="1.55"/>
<circle cx="326.8" cy="123.6" r="1.55"/>
<circle cx="461.1" cy="123.6" r="1.55"/>
<circle cx="489.0" cy="123.6" r="1.55"/>
<circle cx="510.6" cy="123.6" r="1.55"/>
<circle cx="413.2" cy="127.5" r="1.55"/>
<circle cx="386.3" cy="132.2" r="1.55"/>
<circle cx="155.5" cy="140.0" r="1.55"/>
<circle cx="187.1" cy="140.0" r="1.55"/>
<circle cx="204.2" cy="140.0" r="1.55"/>
<circle cx="286.1" cy="140.0" r="1.55"/>
<circle cx="305.2" cy="140.0" r="1.55"/>
<circle cx="392.5" cy="140.0" r="1.55"/>
<circle cx="406.0" cy="140.0" r="1.55"/>
<circle cx="489.0" cy="140.0" r="1.55"/>
<circle cx="510.6" cy="148.7" r="1.55"/>
<circle cx="239.5" cy="150.3" r="1.55"/>
<circle cx="173.4" cy="156.5" r="1.55"/>
<circle cx="246.7" cy="156.5" r="1.55"/>
<circle cx="261.7" cy="158.5" r="1.55"/>
<circle cx="289.8" cy="156.5" r="1.55"/>
<circle cx="348.3" cy="156.5" r="1.55"/>
<circle cx="268.3" cy="164.5" r="1.55"/>
<circle cx="342.2" cy="164.5" r="1.55"/>
<circle cx="155.5" cy="171.7" r="1.55"/>
<circle cx="167.4" cy="171.7" r="1.55"/>
<circle cx="194.3" cy="171.7" r="1.55"/>
<circle cx="239.5" cy="171.7" r="1.55"/>
<circle cx="319.2" cy="171.7" r="1.55"/>
<circle cx="372.0" cy="171.7" r="1.55"/>
<circle cx="386.3" cy="171.7" r="1.55"/>
<circle cx="392.5" cy="171.7" r="1.55"/>
<circle cx="413.2" cy="171.7" r="1.55"/>
<circle cx="436.8" cy="171.7" r="1.55"/>
<circle cx="348.3" cy="180.1" r="1.55"/>
<circle cx="289.8" cy="188.1" r="1.55"/>
<circle cx="286.1" cy="195.9" r="1.55"/>
<circle cx="319.2" cy="195.9" r="1.55"/>
<circle cx="246.7" cy="204.5" r="1.55"/>
<circle cx="261.7" cy="204.5" r="1.55"/>
<circle cx="268.3" cy="204.5" r="1.55"/>
<circle cx="326.8" cy="204.5" r="1.55"/>
<circle cx="342.2" cy="210.7" r="1.55"/>
<circle cx="386.3" cy="212.3" r="1.55"/>
<circle cx="286.1" cy="235.5" r="1.55"/>
<circle cx="305.2" cy="235.5" r="1.55"/>
<circle cx="326.8" cy="235.5" r="1.55"/>
<circle cx="342.2" cy="235.5" r="1.55"/>
<circle cx="348.3" cy="235.5" r="1.55"/>
<circle cx="372.0" cy="235.5" r="1.55"/>
<circle cx="289.8" cy="243.5" r="1.55"/>
<circle cx="319.2" cy="243.5" r="1.55"/>
<circle cx="529.8" cy="16.8" r="1.55"/>
<circle cx="569.2" cy="16.8" r="1.55"/>
<circle cx="595.5" cy="16.8" r="1.55"/>
<circle cx="621.6" cy="16.8" r="1.55"/>
<circle cx="651.3" cy="16.8" r="1.55"/>
<circle cx="661.2" cy="16.8" r="1.55"/>
<circle cx="729.0" cy="16.8" r="1.55"/>
<circle cx="737.8" cy="16.8" r="1.55"/>
<circle cx="781.3" cy="16.8" r="1.55"/>
<circle cx="810.1" cy="16.8" r="1.55"/>
<circle cx="819.9" cy="16.8" r="1.55"/>
<circle cx="529.8" cy="27.5" r="1.55"/>
<circle cx="569.2" cy="27.5" r="1.55"/>
<circle cx="595.5" cy="30.0" r="1.55"/>
<circle cx="878.4" cy="28.9" r="1.55"/>
<circle cx="621.6" cy="33.7" r="1.55"/>
<circle cx="661.2" cy="36.3" r="1.55"/>
<circle cx="781.3" cy="35.3" r="1.55"/>
<circle cx="651.3" cy="42.9" r="1.55"/>
<circle cx="729.0" cy="46.4" r="1.55"/>
<circle cx="819.9" cy="44.6" r="1.55"/>
<circle cx="569.2" cy="51.1" r="1.55"/>
<circle cx="810.1" cy="52.6" r="1.55"/>
<circle cx="865.9" cy="50.1" r="1.55"/>
<circle cx="661.2" cy="61.0" r="1.55"/>
<circle cx="529.8" cy="63.4" r="1.55"/>
<circle cx="595.5" cy="69.6" r="1.55"/>
<circle cx="737.8" cy="69.0" r="1.55"/>
<circle cx="781.3" cy="73.7" r="1.55"/>
<circle cx="729.0" cy="77.2" r="1.55"/>
<circle cx="819.9" cy="77.2" r="1.55"/>
<circle cx="865.9" cy="77.2" r="1.55"/>
<circle cx="621.6" cy="81.5" r="1.55"/>
<circle cx="651.3" cy="84.0" r="1.55"/>
<circle cx="569.2" cy="100.4" r="1.55"/>
<circle cx="661.2" cy="100.4" r="1.55"/>
<circle cx="810.1" cy="110.7" r="1.55"/>
<circle cx="781.3" cy="113.1" r="1.55"/>
<circle cx="595.5" cy="124.0" r="1.55"/>
<circle cx="819.9" cy="124.0" r="1.55"/>
<circle cx="569.2" cy="127.5" r="1.55"/>
<circle cx="729.0" cy="127.5" r="1.55"/>
<circle cx="529.8" cy="132.2" r="1.55"/>
<circle cx="621.6" cy="133.9" r="1.55"/>
<circle cx="569.2" cy="148.2" r="1.55"/>
<circle cx="661.2" cy="148.2" r="1.55"/>
<circle cx="737.8" cy="148.2" r="1.55"/>
<circle cx="819.9" cy="148.2" r="1.55"/>
<circle cx="651.3" cy="150.7" r="1.55"/>
<circle cx="781.3" cy="146.6" r="1.55"/>
<circle cx="529.8" cy="156.5" r="1.55"/>
<circle cx="595.5" cy="156.5" r="1.55"/>
<circle cx="621.6" cy="171.7" r="1.55"/>
<circle cx="810.1" cy="171.7" r="1.55"/>
<circle cx="781.3" cy="188.1" r="1.55"/>
<circle cx="621.6" cy="204.1" r="1.55"/>
<circle cx="651.3" cy="212.3" r="1.55"/>
<circle cx="661.2" cy="235.5" r="1.55"/>
<circle cx="729.0" cy="235.5" r="1.55"/>
<circle cx="737.8" cy="235.5" r="1.55"/>
<circle cx="651.3" cy="251.9" r="1.55"/>
<circle cx="661.2" cy="262.6" r="1.55"/>
<circle cx="737.8" cy="264.7" r="1.55"/>
<circle cx="729.0" cy="280.1" r="1.55"/>
<circle cx="661.2" cy="283.6" r="1.55"/>
<circle cx="729.0" cy="300.0" r="1.55"/>
<circle cx="651.3" cy="300.0" r="1.55"/>
<circle cx="737.8" cy="315.0" r="1.55"/>
<circle cx="131.2" cy="52.5" r="1.55"/>
<circle cx="131.0" cy="76.3" r="1.55"/>
<circle cx="131.1" cy="123.5" r="1.55"/>
<circle cx="136.0" cy="123.5" r="1.55"/>
<circle cx="136.0" cy="171.3" r="1.55"/>
<circle cx="131.0" cy="187.8" r="1.55"/>
<circle cx="135.8" cy="235.3" r="1.55"/>
</g>
<rect x="339.7" y="286.2" width="418" height="44.3" fill="#fff" fill-opacity="0.86"/>
<g stroke="#3a3a3a" stroke-width="1.5" fill="none">
<path d="M118.4 13 H879.5 V330.5 H118.4"/>
<path d="M124 13 V330.5"/>
<path d="M118.4 92.38 H124"/>
<path d="M118.4 171.75 H124"/>
<path d="M118.4 251.12 H124"/>
<path d="M205.6 330.5 V336.5"/>
<path d="M287.8 330.5 V336.5"/>
<path d="M370.0 330.5 V336.5"/>
<path d="M452.2 330.5 V336.5"/>
<path d="M534.4 330.5 V336.5"/>
<path d="M616.6 330.5 V336.5"/>
<path d="M698.8 330.5 V336.5"/>
<path d="M781.0 330.5 V336.5"/>
<path d="M863.2 330.5 V336.5"/>
</g>
<circle cx="155.5" cy="330.5" r="1.4" fill="#000"/>
<circle cx="167.4" cy="330.5" r="1.4" fill="#000"/>
<circle cx="173.4" cy="330.5" r="1.4" fill="#000"/>
<circle cx="187.1" cy="330.5" r="1.4" fill="#000"/>
<g fill="none" stroke="#000">
<circle cx="865.8" cy="16.4" r="4.0" stroke-width="1.6"/>
<circle cx="865.8" cy="26.6" r="4.7" stroke-width="1.6"/>
<circle cx="878.5" cy="16.3" r="4.0" stroke-width="1.6"/>
<circle cx="878.5" cy="44.5" r="4.0" stroke-width="1.6"/>
<circle cx="878.5" cy="76.2" r="17.3" stroke-width="2.6"/>
<circle cx="878.5" cy="171.4" r="17.3" stroke-width="2.6"/>
</g>
<text transform="translate(205.0,371.8) scale(1.05,1)" font-size="36" text-anchor="middle">40</text>
<text transform="translate(287.2,371.8) scale(1.05,1)" font-size="36" text-anchor="middle">30</text>
<text transform="translate(369.4,371.8) scale(1.05,1)" font-size="36" text-anchor="middle">20</text>
<text transform="translate(451.6,371.8) scale(1.05,1)" font-size="36" text-anchor="middle">10</text>
<text transform="translate(533.8,371.8) scale(1.05,1)" font-size="36" text-anchor="middle">0</text>
<text transform="translate(616.0,371.8) scale(1.05,1)" font-size="36" text-anchor="middle">10</text>
<text transform="translate(698.2,371.8) scale(1.05,1)" font-size="36" text-anchor="middle">20</text>
<text transform="translate(780.4,371.8) scale(1.05,1)" font-size="36" text-anchor="middle">30</text>
<text transform="translate(862.6,371.8) scale(1.05,1)" font-size="36" text-anchor="middle">40</text>
<text transform="translate(305.8,371.8) scale(1.05,1)" font-size="36">°N</text>
<text transform="translate(716.8,371.8) scale(1.05,1)" font-size="36">°S</text>
<text transform="translate(340.3,320.3) scale(0.927,1)" font-size="41" font-style="italic">Acanthostomella norvegica</text>
</g>
<text transform="translate(107.5,24.9) scale(1.05,1)" font-size="36" text-anchor="end">0</text>
<text transform="translate(107.5,104.3) scale(1.05,1)" font-size="36" text-anchor="end">50</text>
<text transform="translate(107.5,183.7) scale(1.05,1)" font-size="36" text-anchor="end">100</text>
<text transform="translate(107.5,263.0) scale(1.05,1)" font-size="36" text-anchor="end">150</text>
<text transform="translate(107.5,342.4) scale(1.05,1)" font-size="36" text-anchor="end">200</text>
<text transform="translate(26,171.3) rotate(-90) scale(1.05,1)" font-size="36" text-anchor="middle">Depth (m)</text>
<text transform="translate(1700,61.9) scale(0.948,1)" font-size="32">Abundance (ind. L<tspan font-size="14" dy="-11.5" dx="1">-1</tspan><tspan dy="11.5" dx="1">)</tspan></text>
<circle cx="1718.7" cy="95.8" r="17.2" fill="none" stroke="#000" stroke-width="2.2"/>
<text x="1760.8" y="106.5" font-size="31.5">10</text>
<text x="1809.2" y="106.5" font-size="31.5">to</text>
<text x="1850.4" y="106.5" font-size="31.5">100</text>
<circle cx="1718.7" cy="133.6" r="15.3" fill="none" stroke="#000" stroke-width="2.1"/>
<text x="1761.6" y="143.2" font-size="31.5">1</text>
<text x="1793.2" y="143.2" font-size="31.5">to</text>
<text x="1834.4" y="143.2" font-size="31.5">10</text>
<circle cx="1718.7" cy="168.9" r="12.6" fill="none" stroke="#000" stroke-width="2.0"/>
<text x="1760.8" y="179.6" font-size="31.5">0.5</text>
<text x="1817.2" y="179.6" font-size="31.5">to</text>
<text x="1859.2" y="179.6" font-size="31.5">1</text>
<circle cx="1718.7" cy="205.2" r="8.5" fill="none" stroke="#000" stroke-width="1.8"/>
<text x="1760.8" y="215.8" font-size="31.5">0.1</text>
<text x="1817.2" y="215.8" font-size="31.5">to</text>
<text x="1857.7" y="215.8" font-size="31.5">0.5</text>
<circle cx="1718.7" cy="242.0" r="4.5" fill="none" stroke="#000" stroke-width="1.5"/>
<text x="1760.8" y="252.5" font-size="31.5">0.05</text>
<text x="1833.2" y="252.5" font-size="31.5">to</text>
<text x="1874.2" y="252.5" font-size="31.5">0.1</text>
<circle cx="1718.7" cy="278.1" r="2.6" fill="none" stroke="#000" stroke-width="1.2"/>
<text x="1760.8" y="288.7" font-size="31.5">0</text>
<text x="1784.4" y="288.7" font-size="31.5">to</text>
<text x="1816.0" y="288.7" font-size="31.5">0.05</text>
<circle cx="1718.4" cy="314.3" r="1.3" fill="#000"/>
<text x="1761.2" y="327.0" font-size="31.5">0</text>
</svg></body></html>
